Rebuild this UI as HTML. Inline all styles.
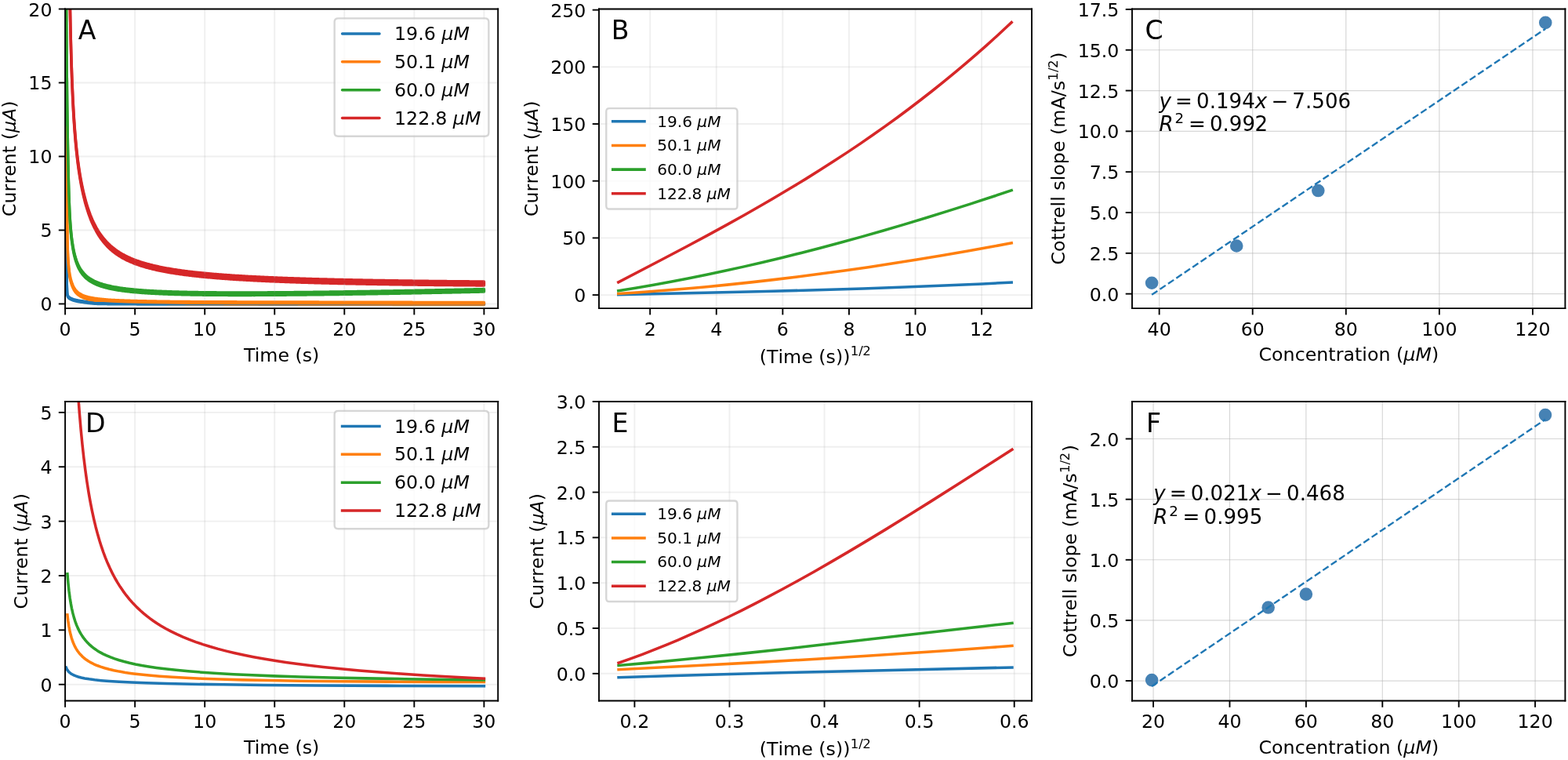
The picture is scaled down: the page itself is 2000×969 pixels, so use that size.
<!DOCTYPE html>
<html><head><meta charset="utf-8"><title>Figure</title>
<style>html,body{margin:0;padding:0;background:#fff;}svg{display:block;}</style>
</head><body>
<svg width="2000" height="969" viewBox="0 0 2000 969" version="1.1">
 
 <defs>
  <style type="text/css">*{stroke-linejoin: round; stroke-linecap: butt}</style>
 </defs>
 <g id="figure_1">
  <g id="patch_1">
   <path d="M 0 969 
L 2000 969 
L 2000 0 
L 0 0 
z
" style="fill: #ffffff"/>
  </g>
  <g id="axes_1">
   <g id="patch_2">
    <path d="M 83.1 393.1 
L 635.2 393.1 
L 635.2 11.5 
L 83.1 11.5 
z
" style="fill: #ffffff"/>
   </g>
   <g id="FillBetweenPolyCollection_1">
    <defs>
     <path id="m0bab70f919" d="M 83.15 -687.56 
L 83.15 -686.05 
L 83.15 -685.56 
L 83.15 -685.07 
L 83.15 -684.58 
L 83.16 -684.09 
L 83.16 -683.60 
L 83.16 -683.11 
L 83.16 -682.61 
L 83.17 -682.12 
L 83.17 -681.63 
L 83.17 -681.14 
L 83.17 -680.65 
L 83.18 -680.16 
L 83.18 -679.66 
L 83.18 -679.17 
L 83.19 -678.68 
L 83.19 -678.19 
L 83.19 -677.70 
L 83.20 -677.21 
L 83.20 -676.72 
L 83.21 -676.23 
L 83.21 -675.74 
L 83.21 -675.25 
L 83.22 -674.76 
L 83.22 -674.27 
L 83.23 -673.79 
L 83.23 -673.30 
L 83.24 -672.81 
L 83.24 -672.33 
L 83.25 -671.84 
L 83.25 -671.36 
L 83.26 -670.88 
L 83.27 -670.39 
L 83.27 -669.91 
L 83.28 -669.43 
L 83.29 -668.95 
L 83.29 -668.47 
L 83.30 -668.00 
L 83.31 -667.52 
L 83.32 -667.04 
L 83.33 -666.57 
L 83.33 -666.09 
L 83.34 -665.62 
L 83.35 -665.15 
L 83.36 -664.68 
L 83.37 -664.21 
L 83.38 -663.74 
L 83.39 -663.27 
L 83.40 -662.81 
L 83.42 -662.34 
L 83.43 -661.88 
L 83.44 -661.42 
L 83.45 -660.96 
L 83.47 -660.50 
L 83.48 -660.04 
L 83.49 -659.58 
L 83.51 -659.13 
L 83.52 -658.68 
L 83.54 -658.22 
L 83.56 -657.77 
L 83.57 -657.32 
L 83.59 -656.88 
L 83.61 -656.43 
L 83.63 -655.98 
L 83.65 -655.56 
L 83.67 -655.15 
L 83.69 -654.77 
L 83.71 -654.41 
L 83.74 -654.07 
L 83.76 -653.74 
L 83.78 -653.42 
L 83.81 -653.10 
L 83.84 -652.78 
L 83.86 -652.47 
L 83.89 -652.15 
L 83.92 -651.82 
L 83.95 -651.48 
L 83.99 -651.13 
L 84.02 -650.76 
L 84.05 -650.37 
L 84.09 -649.96 
L 84.13 -649.52 
L 84.16 -649.05 
L 84.20 -648.56 
L 84.24 -648.03 
L 84.29 -647.46 
L 84.33 -646.86 
L 84.38 -646.22 
L 84.43 -645.53 
L 84.48 -644.80 
L 84.53 -644.02 
L 84.58 -642.52 
L 84.64 -640.06 
L 84.69 -636.84 
L 84.75 -633.09 
L 84.81 -629.00 
L 84.88 -624.77 
L 84.94 -620.55 
L 85.01 -616.47 
L 85.08 -612.61 
L 85.16 -609.05 
L 85.23 -605.81 
L 85.31 -602.93 
L 85.40 -600.40 
L 85.48 -598.22 
L 85.57 -596.40 
L 85.66 -594.90 
L 85.76 -593.74 
L 85.86 -592.90 
L 85.96 -592.37 
L 86.07 -591.99 
L 86.18 -591.63 
L 86.29 -591.29 
L 86.41 -590.98 
L 86.54 -590.69 
L 86.66 -590.42 
L 86.80 -590.17 
L 86.93 -589.94 
L 87.08 -589.72 
L 87.23 -589.51 
L 87.38 -589.32 
L 87.54 -589.14 
L 87.70 -588.97 
L 87.88 -588.81 
L 88.05 -588.65 
L 88.24 -588.50 
L 88.43 -588.36 
L 88.63 -588.23 
L 88.83 -588.10 
L 89.05 -587.97 
L 89.27 -587.84 
L 89.50 -587.71 
L 89.74 -587.59 
L 89.98 -587.47 
L 90.24 -587.34 
L 90.51 -587.21 
L 90.78 -587.09 
L 91.07 -586.95 
L 91.36 -586.82 
L 91.67 -586.68 
L 91.99 -586.53 
L 92.32 -586.39 
L 92.67 -586.26 
L 93.02 -586.12 
L 93.39 -585.99 
L 93.77 -585.87 
L 94.17 -585.74 
L 94.58 -585.62 
L 95.01 -585.50 
L 95.45 -585.38 
L 95.91 -585.26 
L 96.39 -585.15 
L 96.89 -585.03 
L 97.40 -584.92 
L 97.93 -584.81 
L 98.48 -584.70 
L 99.06 -584.58 
L 99.65 -584.47 
L 100.27 -584.36 
L 100.90 -584.25 
L 102.20 -584.04 
L 103.49 -583.84 
L 104.79 -583.66 
L 106.08 -583.47 
L 107.38 -583.29 
L 108.67 -583.10 
L 109.97 -582.91 
L 111.26 -582.74 
L 112.55 -582.57 
L 113.85 -582.42 
L 115.14 -582.28 
L 116.44 -582.15 
L 117.73 -582.03 
L 119.03 -581.93 
L 120.32 -581.83 
L 121.62 -581.75 
L 122.91 -581.68 
L 124.20 -581.63 
L 125.50 -581.58 
L 126.79 -581.54 
L 128.09 -581.52 
L 129.38 -581.49 
L 130.68 -581.47 
L 131.97 -581.45 
L 133.27 -581.43 
L 134.56 -581.41 
L 135.85 -581.40 
L 137.15 -581.38 
L 138.44 -581.37 
L 139.74 -581.35 
L 141.03 -581.34 
L 142.33 -581.33 
L 143.62 -581.32 
L 144.92 -581.31 
L 146.21 -581.30 
L 147.50 -581.29 
L 148.80 -581.28 
L 150.09 -581.27 
L 151.39 -581.26 
L 152.68 -581.25 
L 153.98 -581.24 
L 155.27 -581.24 
L 156.57 -581.23 
L 157.86 -581.22 
L 159.15 -581.22 
L 160.45 -581.21 
L 161.74 -581.20 
L 163.04 -581.20 
L 164.33 -581.19 
L 165.63 -581.19 
L 166.92 -581.18 
L 168.22 -581.17 
L 169.51 -581.17 
L 170.80 -581.16 
L 172.10 -581.16 
L 173.39 -581.15 
L 174.69 -581.15 
L 175.98 -581.14 
L 177.28 -581.14 
L 178.57 -581.13 
L 179.87 -581.13 
L 181.16 -581.13 
L 182.45 -581.12 
L 183.75 -581.12 
L 185.04 -581.11 
L 186.34 -581.11 
L 187.63 -581.10 
L 188.93 -581.10 
L 190.22 -581.10 
L 191.52 -581.09 
L 192.81 -581.09 
L 194.10 -581.09 
L 195.40 -581.08 
L 196.69 -581.08 
L 197.99 -581.08 
L 199.28 -581.07 
L 200.58 -581.07 
L 201.87 -581.07 
L 203.17 -581.06 
L 204.46 -581.06 
L 205.75 -581.06 
L 207.05 -581.06 
L 208.34 -581.05 
L 209.64 -581.05 
L 210.93 -581.05 
L 212.23 -581.05 
L 213.52 -581.04 
L 214.82 -581.04 
L 216.11 -581.04 
L 217.40 -581.04 
L 218.70 -581.03 
L 219.99 -581.03 
L 221.29 -581.03 
L 222.58 -581.03 
L 223.88 -581.02 
L 225.17 -581.02 
L 226.47 -581.02 
L 227.76 -581.02 
L 229.05 -581.02 
L 230.35 -581.01 
L 231.64 -581.01 
L 232.94 -581.01 
L 234.23 -581.01 
L 235.53 -581.00 
L 236.82 -581.00 
L 238.12 -581.00 
L 239.41 -581.00 
L 240.70 -581.00 
L 242.00 -581.00 
L 243.29 -580.99 
L 244.59 -580.99 
L 245.88 -580.99 
L 247.18 -580.99 
L 248.47 -580.99 
L 249.77 -580.98 
L 251.06 -580.98 
L 252.35 -580.98 
L 253.65 -580.98 
L 254.94 -580.98 
L 256.24 -580.98 
L 257.53 -580.97 
L 258.83 -580.97 
L 260.12 -580.97 
L 261.41 -580.97 
L 262.71 -580.97 
L 264.00 -580.97 
L 265.30 -580.97 
L 266.59 -580.96 
L 267.89 -580.96 
L 269.18 -580.96 
L 270.48 -580.96 
L 271.77 -580.96 
L 273.06 -580.96 
L 274.36 -580.96 
L 275.65 -580.95 
L 276.95 -580.95 
L 278.24 -580.95 
L 279.54 -580.95 
L 280.83 -580.95 
L 282.13 -580.95 
L 283.42 -580.95 
L 284.71 -580.94 
L 286.01 -580.94 
L 287.30 -580.94 
L 288.60 -580.94 
L 289.89 -580.94 
L 291.19 -580.94 
L 292.48 -580.94 
L 293.78 -580.94 
L 295.07 -580.93 
L 296.36 -580.93 
L 297.66 -580.93 
L 298.95 -580.93 
L 300.25 -580.93 
L 301.54 -580.93 
L 302.84 -580.93 
L 304.13 -580.93 
L 305.43 -580.92 
L 306.72 -580.92 
L 308.01 -580.92 
L 309.31 -580.92 
L 310.60 -580.92 
L 311.90 -580.92 
L 313.19 -580.92 
L 314.49 -580.92 
L 315.78 -580.92 
L 317.08 -580.91 
L 318.37 -580.91 
L 319.66 -580.91 
L 320.96 -580.91 
L 322.25 -580.91 
L 323.55 -580.91 
L 324.84 -580.91 
L 326.14 -580.91 
L 327.43 -580.91 
L 328.73 -580.90 
L 330.02 -580.90 
L 331.31 -580.90 
L 332.61 -580.90 
L 333.90 -580.90 
L 335.20 -580.90 
L 336.49 -580.90 
L 337.79 -580.90 
L 339.08 -580.90 
L 340.38 -580.90 
L 341.67 -580.89 
L 342.96 -580.89 
L 344.26 -580.89 
L 345.55 -580.89 
L 346.85 -580.89 
L 348.14 -580.89 
L 349.44 -580.89 
L 350.73 -580.89 
L 352.03 -580.89 
L 353.32 -580.89 
L 354.61 -580.89 
L 355.91 -580.88 
L 357.20 -580.88 
L 358.50 -580.88 
L 359.79 -580.88 
L 361.09 -580.88 
L 362.38 -580.88 
L 363.68 -580.88 
L 364.97 -580.88 
L 366.26 -580.88 
L 367.56 -580.88 
L 368.85 -580.88 
L 370.15 -580.88 
L 371.44 -580.87 
L 372.74 -580.87 
L 374.03 -580.87 
L 375.33 -580.87 
L 376.62 -580.87 
L 377.91 -580.87 
L 379.21 -580.87 
L 380.50 -580.87 
L 381.80 -580.87 
L 383.09 -580.87 
L 384.39 -580.87 
L 385.68 -580.87 
L 386.98 -580.87 
L 388.27 -580.86 
L 389.56 -580.86 
L 390.86 -580.86 
L 392.15 -580.86 
L 393.45 -580.86 
L 394.74 -580.86 
L 396.04 -580.86 
L 397.33 -580.86 
L 398.63 -580.86 
L 399.92 -580.86 
L 401.21 -580.86 
L 402.51 -580.86 
L 403.80 -580.86 
L 405.10 -580.86 
L 406.39 -580.85 
L 407.69 -580.85 
L 408.98 -580.85 
L 410.28 -580.85 
L 411.57 -580.85 
L 412.86 -580.85 
L 414.16 -580.85 
L 415.45 -580.85 
L 416.75 -580.85 
L 418.04 -580.85 
L 419.34 -580.85 
L 420.63 -580.85 
L 421.93 -580.85 
L 423.22 -580.85 
L 424.51 -580.85 
L 425.81 -580.84 
L 427.10 -580.84 
L 428.40 -580.84 
L 429.69 -580.84 
L 430.99 -580.84 
L 432.28 -580.84 
L 433.58 -580.84 
L 434.87 -580.84 
L 436.16 -580.84 
L 437.46 -580.84 
L 438.75 -580.84 
L 440.05 -580.84 
L 441.34 -580.84 
L 442.64 -580.84 
L 443.93 -580.84 
L 445.23 -580.84 
L 446.52 -580.84 
L 447.81 -580.83 
L 449.11 -580.83 
L 450.40 -580.83 
L 451.70 -580.83 
L 452.99 -580.83 
L 454.29 -580.83 
L 455.58 -580.83 
L 456.88 -580.83 
L 458.17 -580.83 
L 459.46 -580.83 
L 460.76 -580.83 
L 462.05 -580.83 
L 463.35 -580.83 
L 464.64 -580.83 
L 465.94 -580.83 
L 467.23 -580.83 
L 468.52 -580.83 
L 469.82 -580.83 
L 471.11 -580.82 
L 472.41 -580.82 
L 473.70 -580.82 
L 475.00 -580.82 
L 476.29 -580.82 
L 477.59 -580.82 
L 478.88 -580.82 
L 480.17 -580.82 
L 481.47 -580.82 
L 482.76 -580.82 
L 484.06 -580.82 
L 485.35 -580.82 
L 486.65 -580.82 
L 487.94 -580.82 
L 489.24 -580.82 
L 490.53 -580.82 
L 491.82 -580.82 
L 493.12 -580.82 
L 494.41 -580.82 
L 495.71 -580.82 
L 497.00 -580.82 
L 498.30 -580.81 
L 499.59 -580.81 
L 500.89 -580.81 
L 502.18 -580.81 
L 503.47 -580.81 
L 504.77 -580.81 
L 506.06 -580.81 
L 507.36 -580.81 
L 508.65 -580.81 
L 509.95 -580.81 
L 511.24 -580.81 
L 512.54 -580.81 
L 513.83 -580.81 
L 515.12 -580.81 
L 516.42 -580.81 
L 517.71 -580.81 
L 519.01 -580.81 
L 520.30 -580.81 
L 521.60 -580.81 
L 522.89 -580.81 
L 524.19 -580.81 
L 525.48 -580.81 
L 526.77 -580.81 
L 528.07 -580.81 
L 529.36 -580.80 
L 530.66 -580.80 
L 531.95 -580.80 
L 533.25 -580.80 
L 534.54 -580.80 
L 535.84 -580.80 
L 537.13 -580.80 
L 538.42 -580.80 
L 539.72 -580.80 
L 541.01 -580.80 
L 542.31 -580.80 
L 543.60 -580.80 
L 544.90 -580.80 
L 546.19 -580.80 
L 547.49 -580.80 
L 548.78 -580.80 
L 550.07 -580.80 
L 551.37 -580.80 
L 552.66 -580.80 
L 553.96 -580.80 
L 555.25 -580.80 
L 556.55 -580.80 
L 557.84 -580.80 
L 559.14 -580.80 
L 560.43 -580.80 
L 561.72 -580.80 
L 563.02 -580.80 
L 564.31 -580.79 
L 565.61 -580.79 
L 566.90 -580.79 
L 568.20 -580.79 
L 569.49 -580.79 
L 570.79 -580.79 
L 572.08 -580.79 
L 573.37 -580.79 
L 574.67 -580.79 
L 575.96 -580.79 
L 577.26 -580.79 
L 578.55 -580.79 
L 579.85 -580.79 
L 581.14 -580.79 
L 582.44 -580.79 
L 583.73 -580.79 
L 585.02 -580.79 
L 586.32 -580.79 
L 587.61 -580.79 
L 588.91 -580.79 
L 590.20 -580.79 
L 591.50 -580.79 
L 592.79 -580.79 
L 594.09 -580.79 
L 595.38 -580.79 
L 596.67 -580.79 
L 597.97 -580.79 
L 599.26 -580.79 
L 600.56 -580.79 
L 601.85 -580.79 
L 603.15 -580.79 
L 604.44 -580.79 
L 605.74 -580.78 
L 607.03 -580.78 
L 608.32 -580.78 
L 609.62 -580.78 
L 610.91 -580.78 
L 612.21 -580.78 
L 613.50 -580.78 
L 614.80 -580.78 
L 616.09 -580.78 
L 617.39 -580.78 
L 617.39 -582.29 
L 617.39 -582.29 
L 616.09 -582.29 
L 614.80 -582.29 
L 613.50 -582.29 
L 612.21 -582.29 
L 610.91 -582.29 
L 609.62 -582.29 
L 608.32 -582.29 
L 607.03 -582.29 
L 605.74 -582.29 
L 604.44 -582.29 
L 603.15 -582.29 
L 601.85 -582.29 
L 600.56 -582.29 
L 599.26 -582.29 
L 597.97 -582.29 
L 596.67 -582.29 
L 595.38 -582.29 
L 594.09 -582.29 
L 592.79 -582.29 
L 591.50 -582.29 
L 590.20 -582.29 
L 588.91 -582.29 
L 587.61 -582.29 
L 586.32 -582.29 
L 585.02 -582.29 
L 583.73 -582.29 
L 582.44 -582.29 
L 581.14 -582.29 
L 579.85 -582.29 
L 578.55 -582.30 
L 577.26 -582.30 
L 575.96 -582.30 
L 574.67 -582.30 
L 573.37 -582.30 
L 572.08 -582.30 
L 570.79 -582.30 
L 569.49 -582.30 
L 568.20 -582.30 
L 566.90 -582.30 
L 565.61 -582.30 
L 564.31 -582.30 
L 563.02 -582.30 
L 561.72 -582.30 
L 560.43 -582.30 
L 559.14 -582.30 
L 557.84 -582.30 
L 556.55 -582.30 
L 555.25 -582.30 
L 553.96 -582.30 
L 552.66 -582.30 
L 551.37 -582.30 
L 550.07 -582.30 
L 548.78 -582.30 
L 547.49 -582.30 
L 546.19 -582.30 
L 544.90 -582.30 
L 543.60 -582.30 
L 542.31 -582.30 
L 541.01 -582.31 
L 539.72 -582.31 
L 538.42 -582.31 
L 537.13 -582.31 
L 535.84 -582.31 
L 534.54 -582.31 
L 533.25 -582.31 
L 531.95 -582.31 
L 530.66 -582.31 
L 529.36 -582.31 
L 528.07 -582.31 
L 526.77 -582.31 
L 525.48 -582.31 
L 524.19 -582.31 
L 522.89 -582.31 
L 521.60 -582.31 
L 520.30 -582.31 
L 519.01 -582.31 
L 517.71 -582.31 
L 516.42 -582.31 
L 515.12 -582.31 
L 513.83 -582.31 
L 512.54 -582.31 
L 511.24 -582.31 
L 509.95 -582.31 
L 508.65 -582.32 
L 507.36 -582.32 
L 506.06 -582.32 
L 504.77 -582.32 
L 503.47 -582.32 
L 502.18 -582.32 
L 500.89 -582.32 
L 499.59 -582.32 
L 498.30 -582.32 
L 497.00 -582.32 
L 495.71 -582.32 
L 494.41 -582.32 
L 493.12 -582.32 
L 491.82 -582.32 
L 490.53 -582.32 
L 489.24 -582.32 
L 487.94 -582.32 
L 486.65 -582.32 
L 485.35 -582.32 
L 484.06 -582.32 
L 482.76 -582.32 
L 481.47 -582.32 
L 480.17 -582.33 
L 478.88 -582.33 
L 477.59 -582.33 
L 476.29 -582.33 
L 475.00 -582.33 
L 473.70 -582.33 
L 472.41 -582.33 
L 471.11 -582.33 
L 469.82 -582.33 
L 468.52 -582.33 
L 467.23 -582.33 
L 465.94 -582.33 
L 464.64 -582.33 
L 463.35 -582.33 
L 462.05 -582.33 
L 460.76 -582.33 
L 459.46 -582.33 
L 458.17 -582.33 
L 456.88 -582.33 
L 455.58 -582.34 
L 454.29 -582.34 
L 452.99 -582.34 
L 451.70 -582.34 
L 450.40 -582.34 
L 449.11 -582.34 
L 447.81 -582.34 
L 446.52 -582.34 
L 445.23 -582.34 
L 443.93 -582.34 
L 442.64 -582.34 
L 441.34 -582.34 
L 440.05 -582.34 
L 438.75 -582.34 
L 437.46 -582.34 
L 436.16 -582.34 
L 434.87 -582.34 
L 433.58 -582.34 
L 432.28 -582.35 
L 430.99 -582.35 
L 429.69 -582.35 
L 428.40 -582.35 
L 427.10 -582.35 
L 425.81 -582.35 
L 424.51 -582.35 
L 423.22 -582.35 
L 421.93 -582.35 
L 420.63 -582.35 
L 419.34 -582.35 
L 418.04 -582.35 
L 416.75 -582.35 
L 415.45 -582.35 
L 414.16 -582.35 
L 412.86 -582.35 
L 411.57 -582.36 
L 410.28 -582.36 
L 408.98 -582.36 
L 407.69 -582.36 
L 406.39 -582.36 
L 405.10 -582.36 
L 403.80 -582.36 
L 402.51 -582.36 
L 401.21 -582.36 
L 399.92 -582.36 
L 398.63 -582.36 
L 397.33 -582.36 
L 396.04 -582.36 
L 394.74 -582.36 
L 393.45 -582.37 
L 392.15 -582.37 
L 390.86 -582.37 
L 389.56 -582.37 
L 388.27 -582.37 
L 386.98 -582.37 
L 385.68 -582.37 
L 384.39 -582.37 
L 383.09 -582.37 
L 381.80 -582.37 
L 380.50 -582.37 
L 379.21 -582.37 
L 377.91 -582.37 
L 376.62 -582.38 
L 375.33 -582.38 
L 374.03 -582.38 
L 372.74 -582.38 
L 371.44 -582.38 
L 370.15 -582.38 
L 368.85 -582.38 
L 367.56 -582.38 
L 366.26 -582.38 
L 364.97 -582.38 
L 363.68 -582.38 
L 362.38 -582.38 
L 361.09 -582.39 
L 359.79 -582.39 
L 358.50 -582.39 
L 357.20 -582.39 
L 355.91 -582.39 
L 354.61 -582.39 
L 353.32 -582.39 
L 352.03 -582.39 
L 350.73 -582.39 
L 349.44 -582.39 
L 348.14 -582.39 
L 346.85 -582.39 
L 345.55 -582.40 
L 344.26 -582.40 
L 342.96 -582.40 
L 341.67 -582.40 
L 340.38 -582.40 
L 339.08 -582.40 
L 337.79 -582.40 
L 336.49 -582.40 
L 335.20 -582.40 
L 333.90 -582.40 
L 332.61 -582.41 
L 331.31 -582.41 
L 330.02 -582.41 
L 328.73 -582.41 
L 327.43 -582.41 
L 326.14 -582.41 
L 324.84 -582.41 
L 323.55 -582.41 
L 322.25 -582.41 
L 320.96 -582.41 
L 319.66 -582.42 
L 318.37 -582.42 
L 317.08 -582.42 
L 315.78 -582.42 
L 314.49 -582.42 
L 313.19 -582.42 
L 311.90 -582.42 
L 310.60 -582.42 
L 309.31 -582.42 
L 308.01 -582.43 
L 306.72 -582.43 
L 305.43 -582.43 
L 304.13 -582.43 
L 302.84 -582.43 
L 301.54 -582.43 
L 300.25 -582.43 
L 298.95 -582.43 
L 297.66 -582.44 
L 296.36 -582.44 
L 295.07 -582.44 
L 293.78 -582.44 
L 292.48 -582.44 
L 291.19 -582.44 
L 289.89 -582.44 
L 288.60 -582.44 
L 287.30 -582.45 
L 286.01 -582.45 
L 284.71 -582.45 
L 283.42 -582.45 
L 282.13 -582.45 
L 280.83 -582.45 
L 279.54 -582.45 
L 278.24 -582.45 
L 276.95 -582.46 
L 275.65 -582.46 
L 274.36 -582.46 
L 273.06 -582.46 
L 271.77 -582.46 
L 270.48 -582.46 
L 269.18 -582.46 
L 267.89 -582.47 
L 266.59 -582.47 
L 265.30 -582.47 
L 264.00 -582.47 
L 262.71 -582.47 
L 261.41 -582.47 
L 260.12 -582.48 
L 258.83 -582.48 
L 257.53 -582.48 
L 256.24 -582.48 
L 254.94 -582.48 
L 253.65 -582.48 
L 252.35 -582.49 
L 251.06 -582.49 
L 249.77 -582.49 
L 248.47 -582.49 
L 247.18 -582.49 
L 245.88 -582.49 
L 244.59 -582.50 
L 243.29 -582.50 
L 242.00 -582.50 
L 240.70 -582.50 
L 239.41 -582.50 
L 238.12 -582.50 
L 236.82 -582.51 
L 235.53 -582.51 
L 234.23 -582.51 
L 232.94 -582.51 
L 231.64 -582.51 
L 230.35 -582.52 
L 229.05 -582.52 
L 227.76 -582.52 
L 226.47 -582.52 
L 225.17 -582.53 
L 223.88 -582.53 
L 222.58 -582.53 
L 221.29 -582.53 
L 219.99 -582.53 
L 218.70 -582.54 
L 217.40 -582.54 
L 216.11 -582.54 
L 214.82 -582.54 
L 213.52 -582.55 
L 212.23 -582.55 
L 210.93 -582.55 
L 209.64 -582.55 
L 208.34 -582.56 
L 207.05 -582.56 
L 205.75 -582.56 
L 204.46 -582.57 
L 203.17 -582.57 
L 201.87 -582.57 
L 200.58 -582.57 
L 199.28 -582.58 
L 197.99 -582.58 
L 196.69 -582.58 
L 195.40 -582.59 
L 194.10 -582.59 
L 192.81 -582.59 
L 191.52 -582.60 
L 190.22 -582.60 
L 188.93 -582.60 
L 187.63 -582.61 
L 186.34 -582.61 
L 185.04 -582.62 
L 183.75 -582.62 
L 182.45 -582.62 
L 181.16 -582.63 
L 179.87 -582.63 
L 178.57 -582.64 
L 177.28 -582.64 
L 175.98 -582.65 
L 174.69 -582.65 
L 173.39 -582.66 
L 172.10 -582.66 
L 170.80 -582.67 
L 169.51 -582.67 
L 168.22 -582.68 
L 166.92 -582.68 
L 165.63 -582.69 
L 164.33 -582.70 
L 163.04 -582.70 
L 161.74 -582.71 
L 160.45 -582.71 
L 159.15 -582.72 
L 157.86 -582.73 
L 156.57 -582.73 
L 155.27 -582.74 
L 153.98 -582.75 
L 152.68 -582.76 
L 151.39 -582.76 
L 150.09 -582.77 
L 148.80 -582.78 
L 147.50 -582.79 
L 146.21 -582.80 
L 144.92 -582.81 
L 143.62 -582.82 
L 142.33 -582.83 
L 141.03 -582.84 
L 139.74 -582.86 
L 138.44 -582.87 
L 137.15 -582.88 
L 135.85 -582.90 
L 134.56 -582.92 
L 133.27 -582.93 
L 131.97 -582.95 
L 130.68 -582.97 
L 129.38 -583.00 
L 128.09 -583.02 
L 126.79 -583.05 
L 125.50 -583.08 
L 124.20 -583.13 
L 122.91 -583.19 
L 121.62 -583.26 
L 120.32 -583.34 
L 119.03 -583.43 
L 117.73 -583.53 
L 116.44 -583.65 
L 115.14 -583.78 
L 113.85 -583.92 
L 112.55 -584.08 
L 111.26 -584.24 
L 109.97 -584.42 
L 108.67 -584.60 
L 107.38 -584.79 
L 106.08 -584.98 
L 104.79 -585.16 
L 103.49 -585.35 
L 102.20 -585.55 
L 100.90 -585.76 
L 100.27 -585.87 
L 99.65 -585.98 
L 99.06 -586.09 
L 98.48 -586.20 
L 97.93 -586.31 
L 97.40 -586.42 
L 96.89 -586.54 
L 96.39 -586.65 
L 95.91 -586.76 
L 95.45 -586.88 
L 95.01 -587.00 
L 94.58 -587.12 
L 94.17 -587.24 
L 93.77 -587.37 
L 93.39 -587.50 
L 93.02 -587.63 
L 92.67 -587.76 
L 92.32 -587.90 
L 91.99 -588.04 
L 91.67 -588.18 
L 91.36 -588.32 
L 91.07 -588.46 
L 90.78 -588.59 
L 90.51 -588.72 
L 90.24 -588.84 
L 89.98 -588.97 
L 89.74 -589.09 
L 89.50 -589.22 
L 89.27 -589.34 
L 89.05 -589.47 
L 88.83 -589.60 
L 88.63 -589.73 
L 88.43 -589.87 
L 88.24 -590.01 
L 88.05 -590.16 
L 87.88 -590.31 
L 87.70 -590.47 
L 87.54 -590.64 
L 87.38 -590.82 
L 87.23 -591.02 
L 87.08 -591.22 
L 86.93 -591.44 
L 86.80 -591.68 
L 86.66 -591.93 
L 86.54 -592.20 
L 86.41 -592.49 
L 86.29 -592.80 
L 86.18 -593.13 
L 86.07 -593.49 
L 85.96 -593.88 
L 85.86 -594.40 
L 85.76 -595.24 
L 85.66 -596.41 
L 85.57 -597.90 
L 85.48 -599.73 
L 85.40 -601.90 
L 85.31 -604.43 
L 85.23 -607.31 
L 85.16 -610.55 
L 85.08 -614.12 
L 85.01 -617.97 
L 84.94 -622.06 
L 84.88 -626.28 
L 84.81 -630.51 
L 84.75 -634.59 
L 84.69 -638.35 
L 84.64 -641.57 
L 84.58 -644.03 
L 84.53 -645.52 
L 84.48 -646.31 
L 84.43 -647.03 
L 84.38 -647.72 
L 84.33 -648.36 
L 84.29 -648.97 
L 84.24 -649.53 
L 84.20 -650.06 
L 84.16 -650.56 
L 84.13 -651.02 
L 84.09 -651.46 
L 84.05 -651.87 
L 84.02 -652.26 
L 83.99 -652.63 
L 83.95 -652.98 
L 83.92 -653.32 
L 83.89 -653.65 
L 83.86 -653.97 
L 83.84 -654.29 
L 83.81 -654.60 
L 83.78 -654.92 
L 83.76 -655.24 
L 83.74 -655.57 
L 83.71 -655.92 
L 83.69 -656.28 
L 83.67 -656.66 
L 83.65 -657.06 
L 83.63 -657.49 
L 83.61 -657.93 
L 83.59 -658.38 
L 83.57 -658.83 
L 83.56 -659.28 
L 83.54 -659.73 
L 83.52 -660.18 
L 83.51 -660.63 
L 83.49 -661.09 
L 83.48 -661.54 
L 83.47 -662.00 
L 83.45 -662.46 
L 83.44 -662.92 
L 83.43 -663.38 
L 83.42 -663.85 
L 83.40 -664.31 
L 83.39 -664.78 
L 83.38 -665.24 
L 83.37 -665.71 
L 83.36 -666.18 
L 83.35 -666.65 
L 83.34 -667.12 
L 83.33 -667.60 
L 83.33 -668.07 
L 83.32 -668.55 
L 83.31 -669.02 
L 83.30 -669.50 
L 83.29 -669.98 
L 83.29 -670.46 
L 83.28 -670.94 
L 83.27 -671.42 
L 83.27 -671.90 
L 83.26 -672.38 
L 83.25 -672.86 
L 83.25 -673.35 
L 83.24 -673.83 
L 83.24 -674.32 
L 83.23 -674.80 
L 83.23 -675.29 
L 83.22 -675.78 
L 83.22 -676.27 
L 83.21 -676.75 
L 83.21 -677.24 
L 83.21 -677.73 
L 83.20 -678.22 
L 83.20 -678.71 
L 83.19 -679.20 
L 83.19 -679.69 
L 83.19 -680.19 
L 83.18 -680.68 
L 83.18 -681.17 
L 83.18 -681.66 
L 83.17 -682.15 
L 83.17 -682.64 
L 83.17 -683.13 
L 83.17 -683.63 
L 83.16 -684.12 
L 83.16 -684.61 
L 83.16 -685.10 
L 83.16 -685.59 
L 83.15 -686.08 
L 83.15 -686.57 
L 83.15 -687.07 
L 83.15 -687.56 
z
" style="stroke: #1f77b4; stroke-width: 3.55"/>
    </defs>
    <g clip-path="url(#pebcdcb35c1)">
     <use href="#m0bab70f919" x="0" y="969" style="fill: #1f77b4; stroke: #1f77b4; stroke-width: 3.55"/>
    </g>
   </g>
   <g id="FillBetweenPolyCollection_2">
    <defs>
     <path id="mbfa631ff83" d="M 83.15 -808.61 
L 83.15 -805.61 
L 83.15 -805.60 
L 83.15 -805.58 
L 83.15 -805.55 
L 83.16 -805.51 
L 83.16 -805.46 
L 83.16 -805.39 
L 83.16 -805.31 
L 83.17 -805.22 
L 83.17 -805.11 
L 83.17 -804.99 
L 83.17 -804.85 
L 83.18 -804.70 
L 83.18 -804.54 
L 83.18 -804.36 
L 83.19 -804.16 
L 83.19 -803.95 
L 83.19 -803.73 
L 83.20 -803.48 
L 83.20 -803.22 
L 83.21 -802.95 
L 83.21 -802.65 
L 83.21 -802.34 
L 83.22 -802.01 
L 83.22 -801.67 
L 83.23 -801.30 
L 83.23 -800.92 
L 83.24 -800.52 
L 83.24 -800.10 
L 83.25 -799.67 
L 83.25 -799.21 
L 83.26 -798.73 
L 83.27 -798.24 
L 83.27 -797.72 
L 83.28 -797.19 
L 83.29 -796.64 
L 83.29 -796.06 
L 83.30 -795.47 
L 83.31 -794.86 
L 83.32 -794.22 
L 83.33 -793.57 
L 83.33 -792.89 
L 83.34 -792.20 
L 83.35 -791.48 
L 83.36 -790.74 
L 83.37 -789.99 
L 83.38 -789.21 
L 83.39 -788.41 
L 83.40 -787.59 
L 83.42 -786.75 
L 83.43 -785.88 
L 83.44 -785.00 
L 83.45 -784.10 
L 83.47 -783.17 
L 83.48 -782.22 
L 83.49 -781.26 
L 83.51 -780.27 
L 83.52 -779.26 
L 83.54 -778.23 
L 83.56 -777.18 
L 83.57 -776.11 
L 83.59 -775.02 
L 83.61 -773.91 
L 83.63 -772.77 
L 83.65 -771.62 
L 83.67 -770.45 
L 83.69 -769.26 
L 83.71 -768.05 
L 83.74 -766.82 
L 83.76 -765.57 
L 83.78 -764.30 
L 83.81 -763.01 
L 83.84 -761.70 
L 83.86 -760.38 
L 83.89 -759.04 
L 83.92 -757.68 
L 83.95 -756.30 
L 83.99 -754.90 
L 84.02 -753.49 
L 84.05 -752.06 
L 84.09 -750.62 
L 84.13 -749.16 
L 84.16 -747.68 
L 84.20 -746.19 
L 84.24 -744.68 
L 84.29 -743.16 
L 84.33 -741.63 
L 84.38 -740.08 
L 84.43 -738.52 
L 84.48 -736.94 
L 84.53 -735.36 
L 84.58 -733.76 
L 84.64 -732.15 
L 84.69 -730.52 
L 84.75 -728.89 
L 84.81 -727.25 
L 84.88 -725.60 
L 84.94 -723.93 
L 85.01 -722.26 
L 85.08 -720.58 
L 85.16 -718.89 
L 85.23 -717.20 
L 85.31 -713.26 
L 85.40 -706.05 
L 85.48 -696.94 
L 85.57 -687.17 
L 85.66 -677.73 
L 85.76 -669.34 
L 85.86 -662.51 
L 85.96 -657.57 
L 86.07 -653.65 
L 86.18 -650.12 
L 86.29 -646.92 
L 86.41 -644.01 
L 86.54 -641.34 
L 86.66 -638.87 
L 86.80 -636.58 
L 86.93 -634.43 
L 87.08 -632.40 
L 87.23 -630.47 
L 87.38 -628.61 
L 87.54 -626.83 
L 87.70 -625.15 
L 87.88 -623.57 
L 88.05 -622.06 
L 88.24 -620.63 
L 88.43 -619.26 
L 88.63 -617.96 
L 88.83 -616.71 
L 89.05 -615.52 
L 89.27 -614.36 
L 89.50 -613.26 
L 89.74 -612.18 
L 89.98 -611.15 
L 90.24 -610.14 
L 90.51 -609.16 
L 90.78 -608.20 
L 91.07 -607.27 
L 91.36 -606.35 
L 91.67 -605.45 
L 91.99 -604.57 
L 92.32 -603.70 
L 92.67 -602.86 
L 93.02 -602.04 
L 93.39 -601.23 
L 93.77 -600.46 
L 94.17 -599.70 
L 94.58 -598.98 
L 95.01 -598.28 
L 95.45 -597.60 
L 95.91 -596.95 
L 96.39 -596.33 
L 96.89 -595.74 
L 97.40 -595.18 
L 97.93 -594.64 
L 98.48 -594.12 
L 99.06 -593.62 
L 99.65 -593.14 
L 100.27 -592.67 
L 100.90 -592.21 
L 102.20 -591.38 
L 103.49 -590.64 
L 104.79 -590.00 
L 106.08 -589.42 
L 107.38 -588.91 
L 108.67 -588.46 
L 109.97 -588.05 
L 111.26 -587.68 
L 112.55 -587.34 
L 113.85 -587.04 
L 115.14 -586.75 
L 116.44 -586.49 
L 117.73 -586.24 
L 119.03 -586.01 
L 120.32 -585.80 
L 121.62 -585.59 
L 122.91 -585.40 
L 124.20 -585.23 
L 125.50 -585.06 
L 126.79 -584.90 
L 128.09 -584.75 
L 129.38 -584.61 
L 130.68 -584.48 
L 131.97 -584.36 
L 133.27 -584.24 
L 134.56 -584.13 
L 135.85 -584.03 
L 137.15 -583.93 
L 138.44 -583.84 
L 139.74 -583.75 
L 141.03 -583.66 
L 142.33 -583.59 
L 143.62 -583.51 
L 144.92 -583.44 
L 146.21 -583.37 
L 147.50 -583.30 
L 148.80 -583.24 
L 150.09 -583.18 
L 151.39 -583.12 
L 152.68 -583.07 
L 153.98 -583.01 
L 155.27 -582.96 
L 156.57 -582.91 
L 157.86 -582.86 
L 159.15 -582.82 
L 160.45 -582.77 
L 161.74 -582.73 
L 163.04 -582.69 
L 164.33 -582.65 
L 165.63 -582.61 
L 166.92 -582.57 
L 168.22 -582.53 
L 169.51 -582.49 
L 170.80 -582.46 
L 172.10 -582.42 
L 173.39 -582.39 
L 174.69 -582.36 
L 175.98 -582.33 
L 177.28 -582.30 
L 178.57 -582.27 
L 179.87 -582.24 
L 181.16 -582.21 
L 182.45 -582.18 
L 183.75 -582.15 
L 185.04 -582.13 
L 186.34 -582.10 
L 187.63 -582.07 
L 188.93 -582.05 
L 190.22 -582.02 
L 191.52 -582.00 
L 192.81 -581.97 
L 194.10 -581.95 
L 195.40 -581.93 
L 196.69 -581.90 
L 197.99 -581.88 
L 199.28 -581.86 
L 200.58 -581.84 
L 201.87 -581.81 
L 203.17 -581.79 
L 204.46 -581.77 
L 205.75 -581.75 
L 207.05 -581.73 
L 208.34 -581.71 
L 209.64 -581.69 
L 210.93 -581.68 
L 212.23 -581.66 
L 213.52 -581.64 
L 214.82 -581.62 
L 216.11 -581.61 
L 217.40 -581.59 
L 218.70 -581.57 
L 219.99 -581.56 
L 221.29 -581.54 
L 222.58 -581.53 
L 223.88 -581.51 
L 225.17 -581.50 
L 226.47 -581.49 
L 227.76 -581.47 
L 229.05 -581.46 
L 230.35 -581.45 
L 231.64 -581.43 
L 232.94 -581.42 
L 234.23 -581.41 
L 235.53 -581.40 
L 236.82 -581.39 
L 238.12 -581.38 
L 239.41 -581.37 
L 240.70 -581.36 
L 242.00 -581.35 
L 243.29 -581.34 
L 244.59 -581.34 
L 245.88 -581.33 
L 247.18 -581.32 
L 248.47 -581.31 
L 249.77 -581.31 
L 251.06 -581.30 
L 252.35 -581.29 
L 253.65 -581.28 
L 254.94 -581.28 
L 256.24 -581.27 
L 257.53 -581.26 
L 258.83 -581.26 
L 260.12 -581.25 
L 261.41 -581.25 
L 262.71 -581.24 
L 264.00 -581.23 
L 265.30 -581.23 
L 266.59 -581.22 
L 267.89 -581.22 
L 269.18 -581.21 
L 270.48 -581.21 
L 271.77 -581.20 
L 273.06 -581.20 
L 274.36 -581.19 
L 275.65 -581.19 
L 276.95 -581.18 
L 278.24 -581.18 
L 279.54 -581.17 
L 280.83 -581.17 
L 282.13 -581.16 
L 283.42 -581.16 
L 284.71 -581.15 
L 286.01 -581.15 
L 287.30 -581.14 
L 288.60 -581.14 
L 289.89 -581.14 
L 291.19 -581.13 
L 292.48 -581.13 
L 293.78 -581.12 
L 295.07 -581.12 
L 296.36 -581.12 
L 297.66 -581.11 
L 298.95 -581.11 
L 300.25 -581.10 
L 301.54 -581.10 
L 302.84 -581.10 
L 304.13 -581.09 
L 305.43 -581.09 
L 306.72 -581.09 
L 308.01 -581.08 
L 309.31 -581.08 
L 310.60 -581.07 
L 311.90 -581.07 
L 313.19 -581.07 
L 314.49 -581.06 
L 315.78 -581.06 
L 317.08 -581.06 
L 318.37 -581.05 
L 319.66 -581.05 
L 320.96 -581.05 
L 322.25 -581.04 
L 323.55 -581.04 
L 324.84 -581.04 
L 326.14 -581.03 
L 327.43 -581.03 
L 328.73 -581.03 
L 330.02 -581.02 
L 331.31 -581.02 
L 332.61 -581.02 
L 333.90 -581.01 
L 335.20 -581.01 
L 336.49 -581.01 
L 337.79 -581.00 
L 339.08 -581.00 
L 340.38 -581.00 
L 341.67 -580.99 
L 342.96 -580.99 
L 344.26 -580.99 
L 345.55 -580.98 
L 346.85 -580.98 
L 348.14 -580.98 
L 349.44 -580.97 
L 350.73 -580.97 
L 352.03 -580.97 
L 353.32 -580.96 
L 354.61 -580.96 
L 355.91 -580.96 
L 357.20 -580.95 
L 358.50 -580.95 
L 359.79 -580.95 
L 361.09 -580.94 
L 362.38 -580.94 
L 363.68 -580.94 
L 364.97 -580.94 
L 366.26 -580.93 
L 367.56 -580.93 
L 368.85 -580.93 
L 370.15 -580.92 
L 371.44 -580.92 
L 372.74 -580.92 
L 374.03 -580.92 
L 375.33 -580.91 
L 376.62 -580.91 
L 377.91 -580.91 
L 379.21 -580.90 
L 380.50 -580.90 
L 381.80 -580.90 
L 383.09 -580.90 
L 384.39 -580.89 
L 385.68 -580.89 
L 386.98 -580.89 
L 388.27 -580.89 
L 389.56 -580.88 
L 390.86 -580.88 
L 392.15 -580.88 
L 393.45 -580.88 
L 394.74 -580.87 
L 396.04 -580.87 
L 397.33 -580.87 
L 398.63 -580.87 
L 399.92 -580.86 
L 401.21 -580.86 
L 402.51 -580.86 
L 403.80 -580.85 
L 405.10 -580.85 
L 406.39 -580.85 
L 407.69 -580.85 
L 408.98 -580.84 
L 410.28 -580.84 
L 411.57 -580.84 
L 412.86 -580.84 
L 414.16 -580.83 
L 415.45 -580.83 
L 416.75 -580.83 
L 418.04 -580.83 
L 419.34 -580.82 
L 420.63 -580.82 
L 421.93 -580.82 
L 423.22 -580.82 
L 424.51 -580.81 
L 425.81 -580.81 
L 427.10 -580.81 
L 428.40 -580.81 
L 429.69 -580.80 
L 430.99 -580.80 
L 432.28 -580.80 
L 433.58 -580.79 
L 434.87 -580.79 
L 436.16 -580.79 
L 437.46 -580.79 
L 438.75 -580.78 
L 440.05 -580.78 
L 441.34 -580.78 
L 442.64 -580.78 
L 443.93 -580.77 
L 445.23 -580.77 
L 446.52 -580.77 
L 447.81 -580.76 
L 449.11 -580.76 
L 450.40 -580.76 
L 451.70 -580.76 
L 452.99 -580.75 
L 454.29 -580.75 
L 455.58 -580.75 
L 456.88 -580.74 
L 458.17 -580.74 
L 459.46 -580.74 
L 460.76 -580.74 
L 462.05 -580.73 
L 463.35 -580.73 
L 464.64 -580.73 
L 465.94 -580.73 
L 467.23 -580.72 
L 468.52 -580.72 
L 469.82 -580.72 
L 471.11 -580.71 
L 472.41 -580.71 
L 473.70 -580.71 
L 475.00 -580.71 
L 476.29 -580.70 
L 477.59 -580.70 
L 478.88 -580.70 
L 480.17 -580.69 
L 481.47 -580.69 
L 482.76 -580.69 
L 484.06 -580.69 
L 485.35 -580.68 
L 486.65 -580.68 
L 487.94 -580.68 
L 489.24 -580.68 
L 490.53 -580.67 
L 491.82 -580.67 
L 493.12 -580.67 
L 494.41 -580.66 
L 495.71 -580.66 
L 497.00 -580.66 
L 498.30 -580.66 
L 499.59 -580.65 
L 500.89 -580.65 
L 502.18 -580.65 
L 503.47 -580.64 
L 504.77 -580.64 
L 506.06 -580.64 
L 507.36 -580.64 
L 508.65 -580.63 
L 509.95 -580.63 
L 511.24 -580.63 
L 512.54 -580.63 
L 513.83 -580.62 
L 515.12 -580.62 
L 516.42 -580.62 
L 517.71 -580.61 
L 519.01 -580.61 
L 520.30 -580.61 
L 521.60 -580.61 
L 522.89 -580.60 
L 524.19 -580.60 
L 525.48 -580.60 
L 526.77 -580.59 
L 528.07 -580.59 
L 529.36 -580.59 
L 530.66 -580.59 
L 531.95 -580.58 
L 533.25 -580.58 
L 534.54 -580.58 
L 535.84 -580.58 
L 537.13 -580.57 
L 538.42 -580.57 
L 539.72 -580.57 
L 541.01 -580.56 
L 542.31 -580.56 
L 543.60 -580.56 
L 544.90 -580.56 
L 546.19 -580.55 
L 547.49 -580.55 
L 548.78 -580.55 
L 550.07 -580.55 
L 551.37 -580.54 
L 552.66 -580.54 
L 553.96 -580.54 
L 555.25 -580.53 
L 556.55 -580.53 
L 557.84 -580.53 
L 559.14 -580.53 
L 560.43 -580.52 
L 561.72 -580.52 
L 563.02 -580.52 
L 564.31 -580.52 
L 565.61 -580.51 
L 566.90 -580.51 
L 568.20 -580.51 
L 569.49 -580.50 
L 570.79 -580.50 
L 572.08 -580.50 
L 573.37 -580.50 
L 574.67 -580.49 
L 575.96 -580.49 
L 577.26 -580.49 
L 578.55 -580.49 
L 579.85 -580.48 
L 581.14 -580.48 
L 582.44 -580.48 
L 583.73 -580.48 
L 585.02 -580.47 
L 586.32 -580.47 
L 587.61 -580.47 
L 588.91 -580.46 
L 590.20 -580.46 
L 591.50 -580.46 
L 592.79 -580.46 
L 594.09 -580.45 
L 595.38 -580.45 
L 596.67 -580.45 
L 597.97 -580.45 
L 599.26 -580.44 
L 600.56 -580.44 
L 601.85 -580.44 
L 603.15 -580.44 
L 604.44 -580.43 
L 605.74 -580.43 
L 607.03 -580.43 
L 608.32 -580.42 
L 609.62 -580.42 
L 610.91 -580.42 
L 612.21 -580.42 
L 613.50 -580.41 
L 614.80 -580.41 
L 616.09 -580.41 
L 617.39 -580.41 
L 617.39 -583.41 
L 617.39 -583.41 
L 616.09 -583.42 
L 614.80 -583.42 
L 613.50 -583.42 
L 612.21 -583.42 
L 610.91 -583.43 
L 609.62 -583.43 
L 608.32 -583.43 
L 607.03 -583.44 
L 605.74 -583.44 
L 604.44 -583.44 
L 603.15 -583.44 
L 601.85 -583.45 
L 600.56 -583.45 
L 599.26 -583.45 
L 597.97 -583.45 
L 596.67 -583.46 
L 595.38 -583.46 
L 594.09 -583.46 
L 592.79 -583.46 
L 591.50 -583.47 
L 590.20 -583.47 
L 588.91 -583.47 
L 587.61 -583.47 
L 586.32 -583.48 
L 585.02 -583.48 
L 583.73 -583.48 
L 582.44 -583.49 
L 581.14 -583.49 
L 579.85 -583.49 
L 578.55 -583.49 
L 577.26 -583.50 
L 575.96 -583.50 
L 574.67 -583.50 
L 573.37 -583.50 
L 572.08 -583.51 
L 570.79 -583.51 
L 569.49 -583.51 
L 568.20 -583.52 
L 566.90 -583.52 
L 565.61 -583.52 
L 564.31 -583.52 
L 563.02 -583.53 
L 561.72 -583.53 
L 560.43 -583.53 
L 559.14 -583.53 
L 557.84 -583.54 
L 556.55 -583.54 
L 555.25 -583.54 
L 553.96 -583.54 
L 552.66 -583.55 
L 551.37 -583.55 
L 550.07 -583.55 
L 548.78 -583.56 
L 547.49 -583.56 
L 546.19 -583.56 
L 544.90 -583.56 
L 543.60 -583.57 
L 542.31 -583.57 
L 541.01 -583.57 
L 539.72 -583.57 
L 538.42 -583.58 
L 537.13 -583.58 
L 535.84 -583.58 
L 534.54 -583.59 
L 533.25 -583.59 
L 531.95 -583.59 
L 530.66 -583.59 
L 529.36 -583.60 
L 528.07 -583.60 
L 526.77 -583.60 
L 525.48 -583.61 
L 524.19 -583.61 
L 522.89 -583.61 
L 521.60 -583.61 
L 520.30 -583.62 
L 519.01 -583.62 
L 517.71 -583.62 
L 516.42 -583.62 
L 515.12 -583.63 
L 513.83 -583.63 
L 512.54 -583.63 
L 511.24 -583.64 
L 509.95 -583.64 
L 508.65 -583.64 
L 507.36 -583.64 
L 506.06 -583.65 
L 504.77 -583.65 
L 503.47 -583.65 
L 502.18 -583.66 
L 500.89 -583.66 
L 499.59 -583.66 
L 498.30 -583.66 
L 497.00 -583.67 
L 495.71 -583.67 
L 494.41 -583.67 
L 493.12 -583.67 
L 491.82 -583.68 
L 490.53 -583.68 
L 489.24 -583.68 
L 487.94 -583.69 
L 486.65 -583.69 
L 485.35 -583.69 
L 484.06 -583.69 
L 482.76 -583.70 
L 481.47 -583.70 
L 480.17 -583.70 
L 478.88 -583.71 
L 477.59 -583.71 
L 476.29 -583.71 
L 475.00 -583.71 
L 473.70 -583.72 
L 472.41 -583.72 
L 471.11 -583.72 
L 469.82 -583.72 
L 468.52 -583.73 
L 467.23 -583.73 
L 465.94 -583.73 
L 464.64 -583.74 
L 463.35 -583.74 
L 462.05 -583.74 
L 460.76 -583.74 
L 459.46 -583.75 
L 458.17 -583.75 
L 456.88 -583.75 
L 455.58 -583.76 
L 454.29 -583.76 
L 452.99 -583.76 
L 451.70 -583.76 
L 450.40 -583.77 
L 449.11 -583.77 
L 447.81 -583.77 
L 446.52 -583.77 
L 445.23 -583.78 
L 443.93 -583.78 
L 442.64 -583.78 
L 441.34 -583.79 
L 440.05 -583.79 
L 438.75 -583.79 
L 437.46 -583.79 
L 436.16 -583.80 
L 434.87 -583.80 
L 433.58 -583.80 
L 432.28 -583.80 
L 430.99 -583.81 
L 429.69 -583.81 
L 428.40 -583.81 
L 427.10 -583.82 
L 425.81 -583.82 
L 424.51 -583.82 
L 423.22 -583.82 
L 421.93 -583.83 
L 420.63 -583.83 
L 419.34 -583.83 
L 418.04 -583.83 
L 416.75 -583.84 
L 415.45 -583.84 
L 414.16 -583.84 
L 412.86 -583.84 
L 411.57 -583.85 
L 410.28 -583.85 
L 408.98 -583.85 
L 407.69 -583.85 
L 406.39 -583.86 
L 405.10 -583.86 
L 403.80 -583.86 
L 402.51 -583.87 
L 401.21 -583.87 
L 399.92 -583.87 
L 398.63 -583.87 
L 397.33 -583.88 
L 396.04 -583.88 
L 394.74 -583.88 
L 393.45 -583.88 
L 392.15 -583.89 
L 390.86 -583.89 
L 389.56 -583.89 
L 388.27 -583.89 
L 386.98 -583.90 
L 385.68 -583.90 
L 384.39 -583.90 
L 383.09 -583.90 
L 381.80 -583.91 
L 380.50 -583.91 
L 379.21 -583.91 
L 377.91 -583.91 
L 376.62 -583.92 
L 375.33 -583.92 
L 374.03 -583.92 
L 372.74 -583.93 
L 371.44 -583.93 
L 370.15 -583.93 
L 368.85 -583.93 
L 367.56 -583.94 
L 366.26 -583.94 
L 364.97 -583.94 
L 363.68 -583.95 
L 362.38 -583.95 
L 361.09 -583.95 
L 359.79 -583.95 
L 358.50 -583.96 
L 357.20 -583.96 
L 355.91 -583.96 
L 354.61 -583.97 
L 353.32 -583.97 
L 352.03 -583.97 
L 350.73 -583.98 
L 349.44 -583.98 
L 348.14 -583.98 
L 346.85 -583.99 
L 345.55 -583.99 
L 344.26 -583.99 
L 342.96 -584.00 
L 341.67 -584.00 
L 340.38 -584.00 
L 339.08 -584.01 
L 337.79 -584.01 
L 336.49 -584.01 
L 335.20 -584.02 
L 333.90 -584.02 
L 332.61 -584.02 
L 331.31 -584.03 
L 330.02 -584.03 
L 328.73 -584.03 
L 327.43 -584.04 
L 326.14 -584.04 
L 324.84 -584.04 
L 323.55 -584.05 
L 322.25 -584.05 
L 320.96 -584.05 
L 319.66 -584.06 
L 318.37 -584.06 
L 317.08 -584.06 
L 315.78 -584.07 
L 314.49 -584.07 
L 313.19 -584.07 
L 311.90 -584.08 
L 310.60 -584.08 
L 309.31 -584.09 
L 308.01 -584.09 
L 306.72 -584.09 
L 305.43 -584.10 
L 304.13 -584.10 
L 302.84 -584.10 
L 301.54 -584.11 
L 300.25 -584.11 
L 298.95 -584.12 
L 297.66 -584.12 
L 296.36 -584.12 
L 295.07 -584.13 
L 293.78 -584.13 
L 292.48 -584.14 
L 291.19 -584.14 
L 289.89 -584.14 
L 288.60 -584.15 
L 287.30 -584.15 
L 286.01 -584.16 
L 284.71 -584.16 
L 283.42 -584.16 
L 282.13 -584.17 
L 280.83 -584.17 
L 279.54 -584.18 
L 278.24 -584.18 
L 276.95 -584.19 
L 275.65 -584.19 
L 274.36 -584.20 
L 273.06 -584.20 
L 271.77 -584.21 
L 270.48 -584.21 
L 269.18 -584.22 
L 267.89 -584.22 
L 266.59 -584.23 
L 265.30 -584.24 
L 264.00 -584.24 
L 262.71 -584.25 
L 261.41 -584.25 
L 260.12 -584.26 
L 258.83 -584.27 
L 257.53 -584.27 
L 256.24 -584.28 
L 254.94 -584.28 
L 253.65 -584.29 
L 252.35 -584.30 
L 251.06 -584.31 
L 249.77 -584.31 
L 248.47 -584.32 
L 247.18 -584.33 
L 245.88 -584.34 
L 244.59 -584.34 
L 243.29 -584.35 
L 242.00 -584.36 
L 240.70 -584.37 
L 239.41 -584.38 
L 238.12 -584.39 
L 236.82 -584.40 
L 235.53 -584.41 
L 234.23 -584.42 
L 232.94 -584.43 
L 231.64 -584.44 
L 230.35 -584.45 
L 229.05 -584.47 
L 227.76 -584.48 
L 226.47 -584.49 
L 225.17 -584.51 
L 223.88 -584.52 
L 222.58 -584.53 
L 221.29 -584.55 
L 219.99 -584.56 
L 218.70 -584.58 
L 217.40 -584.60 
L 216.11 -584.61 
L 214.82 -584.63 
L 213.52 -584.65 
L 212.23 -584.66 
L 210.93 -584.68 
L 209.64 -584.70 
L 208.34 -584.72 
L 207.05 -584.74 
L 205.75 -584.76 
L 204.46 -584.78 
L 203.17 -584.80 
L 201.87 -584.82 
L 200.58 -584.84 
L 199.28 -584.87 
L 197.99 -584.89 
L 196.69 -584.91 
L 195.40 -584.93 
L 194.10 -584.96 
L 192.81 -584.98 
L 191.52 -585.01 
L 190.22 -585.03 
L 188.93 -585.06 
L 187.63 -585.08 
L 186.34 -585.11 
L 185.04 -585.13 
L 183.75 -585.16 
L 182.45 -585.19 
L 181.16 -585.22 
L 179.87 -585.24 
L 178.57 -585.27 
L 177.28 -585.30 
L 175.98 -585.33 
L 174.69 -585.37 
L 173.39 -585.40 
L 172.10 -585.43 
L 170.80 -585.47 
L 169.51 -585.50 
L 168.22 -585.54 
L 166.92 -585.58 
L 165.63 -585.61 
L 164.33 -585.65 
L 163.04 -585.69 
L 161.74 -585.74 
L 160.45 -585.78 
L 159.15 -585.82 
L 157.86 -585.87 
L 156.57 -585.92 
L 155.27 -585.97 
L 153.98 -586.02 
L 152.68 -586.08 
L 151.39 -586.13 
L 150.09 -586.19 
L 148.80 -586.25 
L 147.50 -586.31 
L 146.21 -586.38 
L 144.92 -586.45 
L 143.62 -586.52 
L 142.33 -586.59 
L 141.03 -586.67 
L 139.74 -586.76 
L 138.44 -586.84 
L 137.15 -586.94 
L 135.85 -587.03 
L 134.56 -587.14 
L 133.27 -587.25 
L 131.97 -587.37 
L 130.68 -587.49 
L 129.38 -587.62 
L 128.09 -587.76 
L 126.79 -587.91 
L 125.50 -588.07 
L 124.20 -588.23 
L 122.91 -588.41 
L 121.62 -588.60 
L 120.32 -588.80 
L 119.03 -589.02 
L 117.73 -589.25 
L 116.44 -589.50 
L 115.14 -589.76 
L 113.85 -590.05 
L 112.55 -590.35 
L 111.26 -590.68 
L 109.97 -591.05 
L 108.67 -591.46 
L 107.38 -591.92 
L 106.08 -592.43 
L 104.79 -593.00 
L 103.49 -593.65 
L 102.20 -594.38 
L 100.90 -595.22 
L 100.27 -595.67 
L 99.65 -596.15 
L 99.06 -596.63 
L 98.48 -597.13 
L 97.93 -597.65 
L 97.40 -598.18 
L 96.89 -598.75 
L 96.39 -599.34 
L 95.91 -599.96 
L 95.45 -600.61 
L 95.01 -601.28 
L 94.58 -601.98 
L 94.17 -602.71 
L 93.77 -603.46 
L 93.39 -604.24 
L 93.02 -605.04 
L 92.67 -605.87 
L 92.32 -606.71 
L 91.99 -607.58 
L 91.67 -608.46 
L 91.36 -609.36 
L 91.07 -610.28 
L 90.78 -611.21 
L 90.51 -612.17 
L 90.24 -613.15 
L 89.98 -614.15 
L 89.74 -615.19 
L 89.50 -616.26 
L 89.27 -617.37 
L 89.05 -618.52 
L 88.83 -619.72 
L 88.63 -620.97 
L 88.43 -622.27 
L 88.24 -623.63 
L 88.05 -625.07 
L 87.88 -626.57 
L 87.70 -628.16 
L 87.54 -629.84 
L 87.38 -631.61 
L 87.23 -633.47 
L 87.08 -635.41 
L 86.93 -637.44 
L 86.80 -639.59 
L 86.66 -641.88 
L 86.54 -644.34 
L 86.41 -647.01 
L 86.29 -649.93 
L 86.18 -653.12 
L 86.07 -656.66 
L 85.96 -660.58 
L 85.86 -665.52 
L 85.76 -672.35 
L 85.66 -680.74 
L 85.57 -690.17 
L 85.48 -699.94 
L 85.40 -709.05 
L 85.31 -716.27 
L 85.23 -720.21 
L 85.16 -721.90 
L 85.08 -723.59 
L 85.01 -725.27 
L 84.94 -726.94 
L 84.88 -728.60 
L 84.81 -730.26 
L 84.75 -731.90 
L 84.69 -733.53 
L 84.64 -735.15 
L 84.58 -736.76 
L 84.53 -738.36 
L 84.48 -739.95 
L 84.43 -741.53 
L 84.38 -743.09 
L 84.33 -744.64 
L 84.29 -746.17 
L 84.24 -747.69 
L 84.20 -749.20 
L 84.16 -750.69 
L 84.13 -752.17 
L 84.09 -753.63 
L 84.05 -755.07 
L 84.02 -756.50 
L 83.99 -757.91 
L 83.95 -759.31 
L 83.92 -760.68 
L 83.89 -762.04 
L 83.86 -763.39 
L 83.84 -764.71 
L 83.81 -766.02 
L 83.78 -767.30 
L 83.76 -768.57 
L 83.74 -769.82 
L 83.71 -771.05 
L 83.69 -772.26 
L 83.67 -773.46 
L 83.65 -774.63 
L 83.63 -775.78 
L 83.61 -776.91 
L 83.59 -778.02 
L 83.57 -779.12 
L 83.56 -780.19 
L 83.54 -781.24 
L 83.52 -782.27 
L 83.51 -783.28 
L 83.49 -784.26 
L 83.48 -785.23 
L 83.47 -786.18 
L 83.45 -787.10 
L 83.44 -788.01 
L 83.43 -788.89 
L 83.42 -789.75 
L 83.40 -790.60 
L 83.39 -791.42 
L 83.38 -792.22 
L 83.37 -792.99 
L 83.36 -793.75 
L 83.35 -794.49 
L 83.34 -795.21 
L 83.33 -795.90 
L 83.33 -796.58 
L 83.32 -797.23 
L 83.31 -797.86 
L 83.30 -798.48 
L 83.29 -799.07 
L 83.29 -799.64 
L 83.28 -800.20 
L 83.27 -800.73 
L 83.27 -801.25 
L 83.26 -801.74 
L 83.25 -802.22 
L 83.25 -802.67 
L 83.24 -803.11 
L 83.24 -803.53 
L 83.23 -803.93 
L 83.23 -804.31 
L 83.22 -804.67 
L 83.22 -805.02 
L 83.21 -805.35 
L 83.21 -805.66 
L 83.21 -805.95 
L 83.20 -806.23 
L 83.20 -806.49 
L 83.19 -806.73 
L 83.19 -806.96 
L 83.19 -807.17 
L 83.18 -807.37 
L 83.18 -807.55 
L 83.18 -807.71 
L 83.17 -807.86 
L 83.17 -808.00 
L 83.17 -808.12 
L 83.17 -808.23 
L 83.16 -808.32 
L 83.16 -808.40 
L 83.16 -808.47 
L 83.16 -808.52 
L 83.15 -808.56 
L 83.15 -808.59 
L 83.15 -808.61 
L 83.15 -808.61 
z
" style="stroke: #ff7f0e; stroke-width: 3.55"/>
    </defs>
    <g clip-path="url(#pebcdcb35c1)">
     <use href="#mbfa631ff83" x="0" y="969" style="fill: #ff7f0e; stroke: #ff7f0e; stroke-width: 3.55"/>
    </g>
   </g>
   <g id="FillBetweenPolyCollection_3">
    <defs>
     <path id="m7701c171b3" d="M 83.15 -1335.07 
L 83.15 -1331.69 
L 83.15 -1330.25 
L 83.15 -1328.85 
L 83.15 -1327.47 
L 83.16 -1326.12 
L 83.16 -1324.78 
L 83.16 -1323.45 
L 83.16 -1322.14 
L 83.17 -1320.83 
L 83.17 -1319.52 
L 83.17 -1318.20 
L 83.17 -1316.88 
L 83.18 -1315.55 
L 83.18 -1314.20 
L 83.18 -1312.83 
L 83.19 -1311.44 
L 83.19 -1310.02 
L 83.19 -1308.57 
L 83.20 -1307.08 
L 83.20 -1305.55 
L 83.21 -1303.98 
L 83.21 -1302.36 
L 83.21 -1300.69 
L 83.22 -1298.97 
L 83.22 -1297.19 
L 83.23 -1295.34 
L 83.23 -1293.43 
L 83.24 -1291.45 
L 83.24 -1289.40 
L 83.25 -1287.28 
L 83.25 -1285.07 
L 83.26 -1282.78 
L 83.27 -1280.41 
L 83.27 -1277.95 
L 83.28 -1275.39 
L 83.29 -1272.75 
L 83.29 -1270.00 
L 83.30 -1267.16 
L 83.31 -1264.21 
L 83.32 -1261.16 
L 83.33 -1258.01 
L 83.33 -1254.74 
L 83.34 -1251.36 
L 83.35 -1247.87 
L 83.36 -1244.27 
L 83.37 -1240.54 
L 83.38 -1236.70 
L 83.39 -1232.74 
L 83.40 -1228.66 
L 83.42 -1224.45 
L 83.43 -1220.13 
L 83.44 -1215.68 
L 83.45 -1211.10 
L 83.47 -1206.40 
L 83.48 -1201.57 
L 83.49 -1196.62 
L 83.51 -1191.55 
L 83.52 -1186.34 
L 83.54 -1181.02 
L 83.56 -1175.57 
L 83.57 -1169.99 
L 83.59 -1164.30 
L 83.61 -1158.48 
L 83.63 -1152.54 
L 83.65 -1146.49 
L 83.67 -1140.32 
L 83.69 -1134.03 
L 83.71 -1127.64 
L 83.74 -1121.13 
L 83.76 -1114.52 
L 83.78 -1107.80 
L 83.81 -1100.98 
L 83.84 -1094.06 
L 83.86 -1087.05 
L 83.89 -1079.94 
L 83.92 -1072.75 
L 83.95 -1065.47 
L 83.99 -1058.11 
L 84.02 -1050.67 
L 84.05 -1043.16 
L 84.09 -1035.59 
L 84.13 -1027.95 
L 84.16 -1020.25 
L 84.20 -1012.50 
L 84.24 -1004.70 
L 84.29 -996.86 
L 84.33 -988.97 
L 84.38 -981.05 
L 84.43 -973.11 
L 84.48 -965.14 
L 84.53 -957.15 
L 84.58 -949.15 
L 84.64 -941.15 
L 84.69 -933.14 
L 84.75 -925.14 
L 84.81 -917.14 
L 84.88 -909.16 
L 84.94 -901.21 
L 85.01 -893.27 
L 85.08 -885.37 
L 85.16 -877.51 
L 85.23 -869.69 
L 85.31 -861.91 
L 85.40 -854.19 
L 85.48 -846.53 
L 85.57 -838.92 
L 85.66 -831.39 
L 85.76 -823.93 
L 85.86 -816.54 
L 85.96 -809.24 
L 86.07 -802.02 
L 86.18 -794.90 
L 86.29 -787.86 
L 86.41 -780.93 
L 86.54 -774.09 
L 86.66 -767.36 
L 86.80 -760.74 
L 86.93 -754.24 
L 87.08 -747.86 
L 87.23 -741.64 
L 87.38 -735.59 
L 87.54 -729.74 
L 87.70 -724.09 
L 87.88 -718.66 
L 88.05 -713.45 
L 88.24 -708.49 
L 88.43 -703.76 
L 88.63 -699.27 
L 88.83 -695.03 
L 89.05 -691.03 
L 89.27 -687.26 
L 89.50 -683.70 
L 89.74 -680.34 
L 89.98 -677.15 
L 90.24 -674.11 
L 90.51 -671.22 
L 90.78 -668.45 
L 91.07 -665.80 
L 91.36 -663.26 
L 91.67 -660.81 
L 91.99 -658.45 
L 92.32 -656.17 
L 92.67 -653.96 
L 93.02 -651.83 
L 93.39 -649.77 
L 93.77 -647.78 
L 94.17 -645.85 
L 94.58 -643.98 
L 95.01 -642.18 
L 95.45 -640.44 
L 95.91 -638.75 
L 96.39 -637.12 
L 96.89 -635.54 
L 97.40 -634.01 
L 97.93 -632.54 
L 98.48 -631.10 
L 99.06 -629.72 
L 99.65 -628.38 
L 100.27 -627.08 
L 100.90 -625.82 
L 102.20 -623.52 
L 103.49 -621.49 
L 104.79 -619.69 
L 106.08 -618.08 
L 107.38 -616.63 
L 108.67 -615.32 
L 109.97 -614.12 
L 111.26 -613.03 
L 112.55 -612.03 
L 113.85 -611.10 
L 115.14 -610.25 
L 116.44 -609.45 
L 117.73 -608.71 
L 119.03 -608.02 
L 120.32 -607.38 
L 121.62 -606.77 
L 122.91 -606.20 
L 124.20 -605.67 
L 125.50 -605.16 
L 126.79 -604.69 
L 128.09 -604.23 
L 129.38 -603.81 
L 130.68 -603.40 
L 131.97 -603.01 
L 133.27 -602.64 
L 134.56 -602.29 
L 135.85 -601.96 
L 137.15 -601.64 
L 138.44 -601.33 
L 139.74 -601.04 
L 141.03 -600.75 
L 142.33 -600.48 
L 143.62 -600.22 
L 144.92 -599.97 
L 146.21 -599.74 
L 147.50 -599.50 
L 148.80 -599.28 
L 150.09 -599.07 
L 151.39 -598.86 
L 152.68 -598.66 
L 153.98 -598.47 
L 155.27 -598.29 
L 156.57 -598.11 
L 157.86 -597.94 
L 159.15 -597.77 
L 160.45 -597.61 
L 161.74 -597.46 
L 163.04 -597.30 
L 164.33 -597.16 
L 165.63 -597.02 
L 166.92 -596.88 
L 168.22 -596.75 
L 169.51 -596.62 
L 170.80 -596.50 
L 172.10 -596.38 
L 173.39 -596.26 
L 174.69 -596.15 
L 175.98 -596.04 
L 177.28 -595.93 
L 178.57 -595.83 
L 179.87 -595.73 
L 181.16 -595.63 
L 182.45 -595.54 
L 183.75 -595.45 
L 185.04 -595.36 
L 186.34 -595.27 
L 187.63 -595.19 
L 188.93 -595.11 
L 190.22 -595.03 
L 191.52 -594.95 
L 192.81 -594.87 
L 194.10 -594.80 
L 195.40 -594.73 
L 196.69 -594.66 
L 197.99 -594.60 
L 199.28 -594.53 
L 200.58 -594.47 
L 201.87 -594.41 
L 203.17 -594.35 
L 204.46 -594.29 
L 205.75 -594.23 
L 207.05 -594.18 
L 208.34 -594.12 
L 209.64 -594.07 
L 210.93 -594.02 
L 212.23 -593.97 
L 213.52 -593.92 
L 214.82 -593.88 
L 216.11 -593.83 
L 217.40 -593.79 
L 218.70 -593.75 
L 219.99 -593.70 
L 221.29 -593.66 
L 222.58 -593.62 
L 223.88 -593.59 
L 225.17 -593.55 
L 226.47 -593.51 
L 227.76 -593.48 
L 229.05 -593.44 
L 230.35 -593.41 
L 231.64 -593.38 
L 232.94 -593.35 
L 234.23 -593.32 
L 235.53 -593.29 
L 236.82 -593.26 
L 238.12 -593.23 
L 239.41 -593.20 
L 240.70 -593.18 
L 242.00 -593.15 
L 243.29 -593.13 
L 244.59 -593.11 
L 245.88 -593.08 
L 247.18 -593.06 
L 248.47 -593.04 
L 249.77 -593.02 
L 251.06 -593.00 
L 252.35 -592.98 
L 253.65 -592.96 
L 254.94 -592.94 
L 256.24 -592.92 
L 257.53 -592.91 
L 258.83 -592.89 
L 260.12 -592.87 
L 261.41 -592.86 
L 262.71 -592.84 
L 264.00 -592.83 
L 265.30 -592.82 
L 266.59 -592.80 
L 267.89 -592.79 
L 269.18 -592.78 
L 270.48 -592.77 
L 271.77 -592.76 
L 273.06 -592.75 
L 274.36 -592.74 
L 275.65 -592.73 
L 276.95 -592.72 
L 278.24 -592.71 
L 279.54 -592.70 
L 280.83 -592.69 
L 282.13 -592.69 
L 283.42 -592.68 
L 284.71 -592.67 
L 286.01 -592.67 
L 287.30 -592.66 
L 288.60 -592.66 
L 289.89 -592.65 
L 291.19 -592.65 
L 292.48 -592.64 
L 293.78 -592.64 
L 295.07 -592.64 
L 296.36 -592.64 
L 297.66 -592.63 
L 298.95 -592.63 
L 300.25 -592.63 
L 301.54 -592.63 
L 302.84 -592.63 
L 304.13 -592.63 
L 305.43 -592.62 
L 306.72 -592.62 
L 308.01 -592.62 
L 309.31 -592.63 
L 310.60 -592.63 
L 311.90 -592.63 
L 313.19 -592.63 
L 314.49 -592.63 
L 315.78 -592.63 
L 317.08 -592.63 
L 318.37 -592.64 
L 319.66 -592.64 
L 320.96 -592.64 
L 322.25 -592.65 
L 323.55 -592.65 
L 324.84 -592.65 
L 326.14 -592.66 
L 327.43 -592.66 
L 328.73 -592.67 
L 330.02 -592.67 
L 331.31 -592.68 
L 332.61 -592.68 
L 333.90 -592.69 
L 335.20 -592.69 
L 336.49 -592.70 
L 337.79 -592.71 
L 339.08 -592.71 
L 340.38 -592.72 
L 341.67 -592.73 
L 342.96 -592.73 
L 344.26 -592.74 
L 345.55 -592.75 
L 346.85 -592.76 
L 348.14 -592.76 
L 349.44 -592.77 
L 350.73 -592.78 
L 352.03 -592.79 
L 353.32 -592.80 
L 354.61 -592.81 
L 355.91 -592.82 
L 357.20 -592.83 
L 358.50 -592.84 
L 359.79 -592.85 
L 361.09 -592.86 
L 362.38 -592.87 
L 363.68 -592.88 
L 364.97 -592.89 
L 366.26 -592.90 
L 367.56 -592.91 
L 368.85 -592.92 
L 370.15 -592.93 
L 371.44 -592.94 
L 372.74 -592.95 
L 374.03 -592.96 
L 375.33 -592.98 
L 376.62 -592.99 
L 377.91 -593.00 
L 379.21 -593.01 
L 380.50 -593.03 
L 381.80 -593.04 
L 383.09 -593.05 
L 384.39 -593.06 
L 385.68 -593.08 
L 386.98 -593.09 
L 388.27 -593.10 
L 389.56 -593.12 
L 390.86 -593.13 
L 392.15 -593.15 
L 393.45 -593.16 
L 394.74 -593.17 
L 396.04 -593.19 
L 397.33 -593.20 
L 398.63 -593.22 
L 399.92 -593.23 
L 401.21 -593.25 
L 402.51 -593.26 
L 403.80 -593.28 
L 405.10 -593.29 
L 406.39 -593.31 
L 407.69 -593.32 
L 408.98 -593.34 
L 410.28 -593.35 
L 411.57 -593.37 
L 412.86 -593.39 
L 414.16 -593.40 
L 415.45 -593.42 
L 416.75 -593.43 
L 418.04 -593.45 
L 419.34 -593.47 
L 420.63 -593.48 
L 421.93 -593.50 
L 423.22 -593.52 
L 424.51 -593.54 
L 425.81 -593.55 
L 427.10 -593.57 
L 428.40 -593.59 
L 429.69 -593.60 
L 430.99 -593.62 
L 432.28 -593.64 
L 433.58 -593.66 
L 434.87 -593.68 
L 436.16 -593.69 
L 437.46 -593.71 
L 438.75 -593.73 
L 440.05 -593.75 
L 441.34 -593.77 
L 442.64 -593.79 
L 443.93 -593.80 
L 445.23 -593.82 
L 446.52 -593.84 
L 447.81 -593.86 
L 449.11 -593.88 
L 450.40 -593.90 
L 451.70 -593.92 
L 452.99 -593.94 
L 454.29 -593.96 
L 455.58 -593.98 
L 456.88 -594.00 
L 458.17 -594.02 
L 459.46 -594.04 
L 460.76 -594.06 
L 462.05 -594.08 
L 463.35 -594.10 
L 464.64 -594.12 
L 465.94 -594.14 
L 467.23 -594.16 
L 468.52 -594.18 
L 469.82 -594.20 
L 471.11 -594.22 
L 472.41 -594.24 
L 473.70 -594.26 
L 475.00 -594.28 
L 476.29 -594.30 
L 477.59 -594.32 
L 478.88 -594.34 
L 480.17 -594.37 
L 481.47 -594.39 
L 482.76 -594.41 
L 484.06 -594.43 
L 485.35 -594.45 
L 486.65 -594.47 
L 487.94 -594.50 
L 489.24 -594.52 
L 490.53 -594.54 
L 491.82 -594.56 
L 493.12 -594.58 
L 494.41 -594.61 
L 495.71 -594.63 
L 497.00 -594.65 
L 498.30 -594.67 
L 499.59 -594.70 
L 500.89 -594.72 
L 502.18 -594.74 
L 503.47 -594.76 
L 504.77 -594.79 
L 506.06 -594.81 
L 507.36 -594.83 
L 508.65 -594.85 
L 509.95 -594.88 
L 511.24 -594.90 
L 512.54 -594.92 
L 513.83 -594.95 
L 515.12 -594.97 
L 516.42 -594.99 
L 517.71 -595.02 
L 519.01 -595.04 
L 520.30 -595.06 
L 521.60 -595.09 
L 522.89 -595.11 
L 524.19 -595.14 
L 525.48 -595.16 
L 526.77 -595.18 
L 528.07 -595.21 
L 529.36 -595.23 
L 530.66 -595.26 
L 531.95 -595.28 
L 533.25 -595.31 
L 534.54 -595.33 
L 535.84 -595.35 
L 537.13 -595.38 
L 538.42 -595.40 
L 539.72 -595.43 
L 541.01 -595.45 
L 542.31 -595.48 
L 543.60 -595.50 
L 544.90 -595.53 
L 546.19 -595.55 
L 547.49 -595.58 
L 548.78 -595.60 
L 550.07 -595.63 
L 551.37 -595.65 
L 552.66 -595.68 
L 553.96 -595.70 
L 555.25 -595.73 
L 556.55 -595.75 
L 557.84 -595.78 
L 559.14 -595.81 
L 560.43 -595.83 
L 561.72 -595.86 
L 563.02 -595.88 
L 564.31 -595.91 
L 565.61 -595.93 
L 566.90 -595.96 
L 568.20 -595.99 
L 569.49 -596.01 
L 570.79 -596.04 
L 572.08 -596.07 
L 573.37 -596.09 
L 574.67 -596.12 
L 575.96 -596.14 
L 577.26 -596.17 
L 578.55 -596.20 
L 579.85 -596.22 
L 581.14 -596.25 
L 582.44 -596.28 
L 583.73 -596.30 
L 585.02 -596.33 
L 586.32 -596.36 
L 587.61 -596.38 
L 588.91 -596.41 
L 590.20 -596.44 
L 591.50 -596.47 
L 592.79 -596.49 
L 594.09 -596.52 
L 595.38 -596.55 
L 596.67 -596.57 
L 597.97 -596.60 
L 599.26 -596.63 
L 600.56 -596.66 
L 601.85 -596.68 
L 603.15 -596.71 
L 604.44 -596.74 
L 605.74 -596.77 
L 607.03 -596.80 
L 608.32 -596.82 
L 609.62 -596.85 
L 610.91 -596.88 
L 612.21 -596.91 
L 613.50 -596.94 
L 614.80 -596.96 
L 616.09 -596.99 
L 617.39 -597.02 
L 617.39 -600.40 
L 617.39 -600.40 
L 616.09 -600.37 
L 614.80 -600.35 
L 613.50 -600.32 
L 612.21 -600.29 
L 610.91 -600.26 
L 609.62 -600.23 
L 608.32 -600.21 
L 607.03 -600.18 
L 605.74 -600.15 
L 604.44 -600.12 
L 603.15 -600.10 
L 601.85 -600.07 
L 600.56 -600.04 
L 599.26 -600.01 
L 597.97 -599.99 
L 596.67 -599.96 
L 595.38 -599.93 
L 594.09 -599.90 
L 592.79 -599.88 
L 591.50 -599.85 
L 590.20 -599.82 
L 588.91 -599.80 
L 587.61 -599.77 
L 586.32 -599.74 
L 585.02 -599.71 
L 583.73 -599.69 
L 582.44 -599.66 
L 581.14 -599.63 
L 579.85 -599.61 
L 578.55 -599.58 
L 577.26 -599.55 
L 575.96 -599.53 
L 574.67 -599.50 
L 573.37 -599.48 
L 572.08 -599.45 
L 570.79 -599.42 
L 569.49 -599.40 
L 568.20 -599.37 
L 566.90 -599.34 
L 565.61 -599.32 
L 564.31 -599.29 
L 563.02 -599.27 
L 561.72 -599.24 
L 560.43 -599.22 
L 559.14 -599.19 
L 557.84 -599.16 
L 556.55 -599.14 
L 555.25 -599.11 
L 553.96 -599.09 
L 552.66 -599.06 
L 551.37 -599.04 
L 550.07 -599.01 
L 548.78 -598.99 
L 547.49 -598.96 
L 546.19 -598.94 
L 544.90 -598.91 
L 543.60 -598.89 
L 542.31 -598.86 
L 541.01 -598.84 
L 539.72 -598.81 
L 538.42 -598.79 
L 537.13 -598.76 
L 535.84 -598.74 
L 534.54 -598.71 
L 533.25 -598.69 
L 531.95 -598.66 
L 530.66 -598.64 
L 529.36 -598.62 
L 528.07 -598.59 
L 526.77 -598.57 
L 525.48 -598.54 
L 524.19 -598.52 
L 522.89 -598.50 
L 521.60 -598.47 
L 520.30 -598.45 
L 519.01 -598.42 
L 517.71 -598.40 
L 516.42 -598.38 
L 515.12 -598.35 
L 513.83 -598.33 
L 512.54 -598.31 
L 511.24 -598.28 
L 509.95 -598.26 
L 508.65 -598.24 
L 507.36 -598.22 
L 506.06 -598.19 
L 504.77 -598.17 
L 503.47 -598.15 
L 502.18 -598.12 
L 500.89 -598.10 
L 499.59 -598.08 
L 498.30 -598.06 
L 497.00 -598.03 
L 495.71 -598.01 
L 494.41 -597.99 
L 493.12 -597.97 
L 491.82 -597.95 
L 490.53 -597.92 
L 489.24 -597.90 
L 487.94 -597.88 
L 486.65 -597.86 
L 485.35 -597.84 
L 484.06 -597.81 
L 482.76 -597.79 
L 481.47 -597.77 
L 480.17 -597.75 
L 478.88 -597.73 
L 477.59 -597.71 
L 476.29 -597.69 
L 475.00 -597.67 
L 473.70 -597.64 
L 472.41 -597.62 
L 471.11 -597.60 
L 469.82 -597.58 
L 468.52 -597.56 
L 467.23 -597.54 
L 465.94 -597.52 
L 464.64 -597.50 
L 463.35 -597.48 
L 462.05 -597.46 
L 460.76 -597.44 
L 459.46 -597.42 
L 458.17 -597.40 
L 456.88 -597.38 
L 455.58 -597.36 
L 454.29 -597.34 
L 452.99 -597.32 
L 451.70 -597.30 
L 450.40 -597.28 
L 449.11 -597.26 
L 447.81 -597.24 
L 446.52 -597.23 
L 445.23 -597.21 
L 443.93 -597.19 
L 442.64 -597.17 
L 441.34 -597.15 
L 440.05 -597.13 
L 438.75 -597.11 
L 437.46 -597.10 
L 436.16 -597.08 
L 434.87 -597.06 
L 433.58 -597.04 
L 432.28 -597.02 
L 430.99 -597.01 
L 429.69 -596.99 
L 428.40 -596.97 
L 427.10 -596.95 
L 425.81 -596.94 
L 424.51 -596.92 
L 423.22 -596.90 
L 421.93 -596.88 
L 420.63 -596.87 
L 419.34 -596.85 
L 418.04 -596.83 
L 416.75 -596.82 
L 415.45 -596.80 
L 414.16 -596.79 
L 412.86 -596.77 
L 411.57 -596.75 
L 410.28 -596.74 
L 408.98 -596.72 
L 407.69 -596.71 
L 406.39 -596.69 
L 405.10 -596.68 
L 403.80 -596.66 
L 402.51 -596.64 
L 401.21 -596.63 
L 399.92 -596.62 
L 398.63 -596.60 
L 397.33 -596.59 
L 396.04 -596.57 
L 394.74 -596.56 
L 393.45 -596.54 
L 392.15 -596.53 
L 390.86 -596.52 
L 389.56 -596.50 
L 388.27 -596.49 
L 386.98 -596.47 
L 385.68 -596.46 
L 384.39 -596.45 
L 383.09 -596.43 
L 381.80 -596.42 
L 380.50 -596.41 
L 379.21 -596.40 
L 377.91 -596.38 
L 376.62 -596.37 
L 375.33 -596.36 
L 374.03 -596.35 
L 372.74 -596.34 
L 371.44 -596.33 
L 370.15 -596.31 
L 368.85 -596.30 
L 367.56 -596.29 
L 366.26 -596.28 
L 364.97 -596.27 
L 363.68 -596.26 
L 362.38 -596.25 
L 361.09 -596.24 
L 359.79 -596.23 
L 358.50 -596.22 
L 357.20 -596.21 
L 355.91 -596.20 
L 354.61 -596.19 
L 353.32 -596.18 
L 352.03 -596.17 
L 350.73 -596.16 
L 349.44 -596.16 
L 348.14 -596.15 
L 346.85 -596.14 
L 345.55 -596.13 
L 344.26 -596.12 
L 342.96 -596.12 
L 341.67 -596.11 
L 340.38 -596.10 
L 339.08 -596.10 
L 337.79 -596.09 
L 336.49 -596.08 
L 335.20 -596.08 
L 333.90 -596.07 
L 332.61 -596.07 
L 331.31 -596.06 
L 330.02 -596.06 
L 328.73 -596.05 
L 327.43 -596.05 
L 326.14 -596.04 
L 324.84 -596.04 
L 323.55 -596.03 
L 322.25 -596.03 
L 320.96 -596.03 
L 319.66 -596.02 
L 318.37 -596.02 
L 317.08 -596.02 
L 315.78 -596.02 
L 314.49 -596.01 
L 313.19 -596.01 
L 311.90 -596.01 
L 310.60 -596.01 
L 309.31 -596.01 
L 308.01 -596.01 
L 306.72 -596.01 
L 305.43 -596.01 
L 304.13 -596.01 
L 302.84 -596.01 
L 301.54 -596.01 
L 300.25 -596.01 
L 298.95 -596.01 
L 297.66 -596.02 
L 296.36 -596.02 
L 295.07 -596.02 
L 293.78 -596.02 
L 292.48 -596.03 
L 291.19 -596.03 
L 289.89 -596.04 
L 288.60 -596.04 
L 287.30 -596.05 
L 286.01 -596.05 
L 284.71 -596.06 
L 283.42 -596.06 
L 282.13 -596.07 
L 280.83 -596.08 
L 279.54 -596.09 
L 278.24 -596.09 
L 276.95 -596.10 
L 275.65 -596.11 
L 274.36 -596.12 
L 273.06 -596.13 
L 271.77 -596.14 
L 270.48 -596.15 
L 269.18 -596.16 
L 267.89 -596.18 
L 266.59 -596.19 
L 265.30 -596.20 
L 264.00 -596.21 
L 262.71 -596.23 
L 261.41 -596.24 
L 260.12 -596.26 
L 258.83 -596.27 
L 257.53 -596.29 
L 256.24 -596.31 
L 254.94 -596.32 
L 253.65 -596.34 
L 252.35 -596.36 
L 251.06 -596.38 
L 249.77 -596.40 
L 248.47 -596.42 
L 247.18 -596.44 
L 245.88 -596.47 
L 244.59 -596.49 
L 243.29 -596.51 
L 242.00 -596.54 
L 240.70 -596.56 
L 239.41 -596.59 
L 238.12 -596.62 
L 236.82 -596.64 
L 235.53 -596.67 
L 234.23 -596.70 
L 232.94 -596.73 
L 231.64 -596.76 
L 230.35 -596.79 
L 229.05 -596.83 
L 227.76 -596.86 
L 226.47 -596.90 
L 225.17 -596.93 
L 223.88 -596.97 
L 222.58 -597.01 
L 221.29 -597.05 
L 219.99 -597.09 
L 218.70 -597.13 
L 217.40 -597.17 
L 216.11 -597.22 
L 214.82 -597.26 
L 213.52 -597.31 
L 212.23 -597.36 
L 210.93 -597.40 
L 209.64 -597.45 
L 208.34 -597.51 
L 207.05 -597.56 
L 205.75 -597.62 
L 204.46 -597.67 
L 203.17 -597.73 
L 201.87 -597.79 
L 200.58 -597.85 
L 199.28 -597.91 
L 197.99 -597.98 
L 196.69 -598.05 
L 195.40 -598.11 
L 194.10 -598.19 
L 192.81 -598.26 
L 191.52 -598.33 
L 190.22 -598.41 
L 188.93 -598.49 
L 187.63 -598.57 
L 186.34 -598.65 
L 185.04 -598.74 
L 183.75 -598.83 
L 182.45 -598.92 
L 181.16 -599.02 
L 179.87 -599.11 
L 178.57 -599.21 
L 177.28 -599.32 
L 175.98 -599.42 
L 174.69 -599.53 
L 173.39 -599.65 
L 172.10 -599.76 
L 170.80 -599.88 
L 169.51 -600.01 
L 168.22 -600.13 
L 166.92 -600.27 
L 165.63 -600.40 
L 164.33 -600.54 
L 163.04 -600.69 
L 161.74 -600.84 
L 160.45 -600.99 
L 159.15 -601.16 
L 157.86 -601.32 
L 156.57 -601.49 
L 155.27 -601.67 
L 153.98 -601.86 
L 152.68 -602.05 
L 151.39 -602.25 
L 150.09 -602.45 
L 148.80 -602.67 
L 147.50 -602.89 
L 146.21 -603.12 
L 144.92 -603.36 
L 143.62 -603.61 
L 142.33 -603.87 
L 141.03 -604.14 
L 139.74 -604.42 
L 138.44 -604.71 
L 137.15 -605.02 
L 135.85 -605.34 
L 134.56 -605.68 
L 133.27 -606.03 
L 131.97 -606.40 
L 130.68 -606.78 
L 129.38 -607.19 
L 128.09 -607.62 
L 126.79 -608.07 
L 125.50 -608.55 
L 124.20 -609.05 
L 122.91 -609.59 
L 121.62 -610.16 
L 120.32 -610.76 
L 119.03 -611.41 
L 117.73 -612.10 
L 116.44 -612.84 
L 115.14 -613.63 
L 113.85 -614.48 
L 112.55 -615.41 
L 111.26 -616.41 
L 109.97 -617.50 
L 108.67 -618.70 
L 107.38 -620.01 
L 106.08 -621.46 
L 104.79 -623.07 
L 103.49 -624.87 
L 102.20 -626.90 
L 100.90 -629.21 
L 100.27 -630.46 
L 99.65 -631.76 
L 99.06 -633.10 
L 98.48 -634.49 
L 97.93 -635.92 
L 97.40 -637.40 
L 96.89 -638.93 
L 96.39 -640.50 
L 95.91 -642.14 
L 95.45 -643.82 
L 95.01 -645.57 
L 94.58 -647.37 
L 94.17 -649.23 
L 93.77 -651.16 
L 93.39 -653.15 
L 93.02 -655.21 
L 92.67 -657.35 
L 92.32 -659.55 
L 91.99 -661.83 
L 91.67 -664.20 
L 91.36 -666.64 
L 91.07 -669.19 
L 90.78 -671.83 
L 90.51 -674.60 
L 90.24 -677.49 
L 89.98 -680.53 
L 89.74 -683.72 
L 89.50 -687.09 
L 89.27 -690.65 
L 89.05 -694.41 
L 88.83 -698.41 
L 88.63 -702.65 
L 88.43 -707.14 
L 88.24 -711.87 
L 88.05 -716.84 
L 87.88 -722.04 
L 87.70 -727.47 
L 87.54 -733.12 
L 87.38 -738.97 
L 87.23 -745.02 
L 87.08 -751.24 
L 86.93 -757.62 
L 86.80 -764.13 
L 86.66 -770.75 
L 86.54 -777.48 
L 86.41 -784.31 
L 86.29 -791.25 
L 86.18 -798.28 
L 86.07 -805.41 
L 85.96 -812.62 
L 85.86 -819.93 
L 85.76 -827.31 
L 85.66 -834.77 
L 85.57 -842.31 
L 85.48 -849.91 
L 85.40 -857.57 
L 85.31 -865.30 
L 85.23 -873.07 
L 85.16 -880.89 
L 85.08 -888.76 
L 85.01 -896.66 
L 84.94 -904.59 
L 84.88 -912.55 
L 84.81 -920.53 
L 84.75 -928.52 
L 84.69 -936.52 
L 84.64 -944.53 
L 84.58 -952.54 
L 84.53 -960.54 
L 84.48 -968.52 
L 84.43 -976.49 
L 84.38 -984.44 
L 84.33 -992.36 
L 84.29 -1000.24 
L 84.24 -1008.08 
L 84.20 -1015.88 
L 84.16 -1023.64 
L 84.13 -1031.33 
L 84.09 -1038.97 
L 84.05 -1046.55 
L 84.02 -1054.06 
L 83.99 -1061.49 
L 83.95 -1068.85 
L 83.92 -1076.13 
L 83.89 -1083.32 
L 83.86 -1090.43 
L 83.84 -1097.44 
L 83.81 -1104.36 
L 83.78 -1111.18 
L 83.76 -1117.90 
L 83.74 -1124.51 
L 83.71 -1131.02 
L 83.69 -1137.42 
L 83.67 -1143.70 
L 83.65 -1149.87 
L 83.63 -1155.93 
L 83.61 -1161.86 
L 83.59 -1167.68 
L 83.57 -1173.38 
L 83.56 -1178.95 
L 83.54 -1184.40 
L 83.52 -1189.73 
L 83.51 -1194.93 
L 83.49 -1200.01 
L 83.48 -1204.96 
L 83.47 -1209.78 
L 83.45 -1214.48 
L 83.44 -1219.06 
L 83.43 -1223.51 
L 83.42 -1227.84 
L 83.40 -1232.04 
L 83.39 -1236.12 
L 83.38 -1240.09 
L 83.37 -1243.93 
L 83.36 -1247.65 
L 83.35 -1251.26 
L 83.34 -1254.75 
L 83.33 -1258.12 
L 83.33 -1261.39 
L 83.32 -1264.55 
L 83.31 -1267.60 
L 83.30 -1270.54 
L 83.29 -1273.39 
L 83.29 -1276.13 
L 83.28 -1278.78 
L 83.27 -1281.33 
L 83.27 -1283.79 
L 83.26 -1286.17 
L 83.25 -1288.45 
L 83.25 -1290.66 
L 83.24 -1292.79 
L 83.24 -1294.84 
L 83.23 -1296.82 
L 83.23 -1298.72 
L 83.22 -1300.57 
L 83.22 -1302.35 
L 83.21 -1304.08 
L 83.21 -1305.75 
L 83.21 -1307.36 
L 83.20 -1308.93 
L 83.20 -1310.46 
L 83.19 -1311.95 
L 83.19 -1313.40 
L 83.19 -1314.82 
L 83.18 -1316.22 
L 83.18 -1317.59 
L 83.18 -1318.93 
L 83.17 -1320.27 
L 83.17 -1321.59 
L 83.17 -1322.90 
L 83.17 -1324.21 
L 83.16 -1325.52 
L 83.16 -1326.84 
L 83.16 -1328.16 
L 83.16 -1329.50 
L 83.15 -1330.86 
L 83.15 -1332.23 
L 83.15 -1333.64 
L 83.15 -1335.07 
z
" style="stroke: #2ca02c; stroke-width: 3.55"/>
    </defs>
    <g clip-path="url(#pebcdcb35c1)">
     <use href="#m7701c171b3" x="0" y="969" style="fill: #2ca02c; stroke: #2ca02c; stroke-width: 3.55"/>
    </g>
   </g>
   <g id="FillBetweenPolyCollection_4">
    <defs>
     <path id="mf6626dde45" d="M 88.08 -1053.49 
L 88.08 -1048.60 
L 88.12 -1044.84 
L 88.16 -1041.12 
L 88.20 -1037.45 
L 88.24 -1033.82 
L 88.29 -1030.24 
L 88.33 -1026.69 
L 88.37 -1023.19 
L 88.41 -1019.73 
L 88.45 -1016.31 
L 88.50 -1012.93 
L 88.54 -1009.59 
L 88.58 -1006.28 
L 88.63 -1003.02 
L 88.67 -999.79 
L 88.72 -996.59 
L 88.76 -993.44 
L 88.81 -990.32 
L 88.85 -987.23 
L 88.90 -984.18 
L 88.95 -981.16 
L 88.99 -978.18 
L 89.04 -975.23 
L 89.09 -972.31 
L 89.14 -969.42 
L 89.19 -966.57 
L 89.24 -963.75 
L 89.29 -960.95 
L 89.33 -958.19 
L 89.38 -955.46 
L 89.44 -952.75 
L 89.49 -950.08 
L 89.54 -947.43 
L 89.59 -944.81 
L 89.64 -942.22 
L 89.69 -939.66 
L 89.75 -937.12 
L 89.80 -934.61 
L 89.85 -932.13 
L 89.91 -929.67 
L 89.96 -927.24 
L 90.02 -924.83 
L 90.07 -922.44 
L 90.13 -920.08 
L 90.19 -917.75 
L 90.24 -915.44 
L 90.30 -913.15 
L 90.36 -910.88 
L 90.42 -908.64 
L 90.48 -906.42 
L 90.54 -904.22 
L 90.60 -902.04 
L 90.66 -899.88 
L 90.72 -897.75 
L 90.78 -895.63 
L 90.84 -893.54 
L 90.90 -891.46 
L 90.97 -889.41 
L 91.03 -887.37 
L 91.09 -885.36 
L 91.16 -883.36 
L 91.22 -881.38 
L 91.29 -879.42 
L 91.35 -877.48 
L 91.42 -875.56 
L 91.49 -873.65 
L 91.55 -871.76 
L 91.62 -869.89 
L 91.69 -868.04 
L 91.76 -866.20 
L 91.83 -864.38 
L 91.90 -862.58 
L 91.97 -860.79 
L 92.04 -859.02 
L 92.11 -857.26 
L 92.19 -855.52 
L 92.26 -853.79 
L 92.33 -852.08 
L 92.41 -850.39 
L 92.48 -848.71 
L 92.56 -847.04 
L 92.63 -845.39 
L 92.71 -843.75 
L 92.79 -842.13 
L 92.86 -840.52 
L 92.94 -838.92 
L 93.02 -837.34 
L 93.10 -835.77 
L 93.18 -834.21 
L 93.26 -832.66 
L 93.35 -831.13 
L 93.43 -829.61 
L 93.51 -828.11 
L 93.59 -826.61 
L 93.68 -825.13 
L 93.76 -823.66 
L 93.85 -822.20 
L 93.94 -820.76 
L 94.02 -819.32 
L 94.11 -817.90 
L 94.20 -816.49 
L 94.29 -815.08 
L 94.38 -813.69 
L 94.47 -812.31 
L 94.56 -810.94 
L 94.65 -809.59 
L 94.75 -808.24 
L 94.84 -806.90 
L 94.93 -805.57 
L 95.03 -804.25 
L 95.13 -802.95 
L 95.22 -801.65 
L 95.32 -800.36 
L 95.42 -799.08 
L 95.52 -797.81 
L 95.62 -796.55 
L 95.72 -795.30 
L 95.82 -794.06 
L 95.92 -792.82 
L 96.02 -791.60 
L 96.13 -790.38 
L 96.23 -789.17 
L 96.34 -787.97 
L 96.45 -786.78 
L 96.55 -785.60 
L 96.66 -784.43 
L 96.77 -783.26 
L 96.88 -782.10 
L 96.99 -780.95 
L 97.10 -779.81 
L 97.21 -778.68 
L 97.33 -777.55 
L 97.44 -776.43 
L 97.56 -775.32 
L 97.67 -774.21 
L 97.79 -773.11 
L 97.91 -772.02 
L 98.03 -770.94 
L 98.15 -769.86 
L 98.27 -768.79 
L 98.39 -767.73 
L 98.51 -766.67 
L 98.64 -765.62 
L 98.76 -764.58 
L 98.89 -763.54 
L 99.02 -762.51 
L 99.14 -761.49 
L 99.27 -760.47 
L 99.40 -759.46 
L 99.53 -758.46 
L 99.67 -757.46 
L 99.80 -756.46 
L 99.93 -755.47 
L 100.07 -754.49 
L 100.21 -753.52 
L 100.34 -752.55 
L 100.48 -751.58 
L 100.62 -750.62 
L 100.76 -749.67 
L 100.90 -748.72 
L 102.20 -740.63 
L 103.49 -733.40 
L 104.79 -726.88 
L 106.08 -720.96 
L 107.38 -715.55 
L 108.67 -710.56 
L 109.97 -705.94 
L 111.26 -701.66 
L 112.55 -697.68 
L 113.85 -693.98 
L 115.14 -690.52 
L 116.44 -687.28 
L 117.73 -684.24 
L 119.03 -681.40 
L 120.32 -678.72 
L 121.62 -676.20 
L 122.91 -673.82 
L 124.20 -671.58 
L 125.50 -669.46 
L 126.79 -667.45 
L 128.09 -665.55 
L 129.38 -663.74 
L 130.68 -662.02 
L 131.97 -660.39 
L 133.27 -658.83 
L 134.56 -657.35 
L 135.85 -655.94 
L 137.15 -654.59 
L 138.44 -653.30 
L 139.74 -652.07 
L 141.03 -650.88 
L 142.33 -649.75 
L 143.62 -648.67 
L 144.92 -647.63 
L 146.21 -646.63 
L 147.50 -645.67 
L 148.80 -644.75 
L 150.09 -643.87 
L 151.39 -643.01 
L 152.68 -642.19 
L 153.98 -641.40 
L 155.27 -640.64 
L 156.57 -639.91 
L 157.86 -639.20 
L 159.15 -638.51 
L 160.45 -637.85 
L 161.74 -637.21 
L 163.04 -636.59 
L 164.33 -635.99 
L 165.63 -635.41 
L 166.92 -634.84 
L 168.22 -634.30 
L 169.51 -633.77 
L 170.80 -633.25 
L 172.10 -632.75 
L 173.39 -632.27 
L 174.69 -631.80 
L 175.98 -631.34 
L 177.28 -630.89 
L 178.57 -630.46 
L 179.87 -630.04 
L 181.16 -629.63 
L 182.45 -629.23 
L 183.75 -628.84 
L 185.04 -628.45 
L 186.34 -628.08 
L 187.63 -627.72 
L 188.93 -627.37 
L 190.22 -627.02 
L 191.52 -626.69 
L 192.81 -626.36 
L 194.10 -626.04 
L 195.40 -625.73 
L 196.69 -625.42 
L 197.99 -625.12 
L 199.28 -624.83 
L 200.58 -624.54 
L 201.87 -624.26 
L 203.17 -623.98 
L 204.46 -623.72 
L 205.75 -623.45 
L 207.05 -623.20 
L 208.34 -622.94 
L 209.64 -622.70 
L 210.93 -622.45 
L 212.23 -622.22 
L 213.52 -621.98 
L 214.82 -621.76 
L 216.11 -621.53 
L 217.40 -621.31 
L 218.70 -621.10 
L 219.99 -620.89 
L 221.29 -620.68 
L 222.58 -620.48 
L 223.88 -620.28 
L 225.17 -620.08 
L 226.47 -619.89 
L 227.76 -619.70 
L 229.05 -619.51 
L 230.35 -619.33 
L 231.64 -619.15 
L 232.94 -618.97 
L 234.23 -618.80 
L 235.53 -618.63 
L 236.82 -618.46 
L 238.12 -618.30 
L 239.41 -618.14 
L 240.70 -617.98 
L 242.00 -617.82 
L 243.29 -617.67 
L 244.59 -617.51 
L 245.88 -617.37 
L 247.18 -617.22 
L 248.47 -617.07 
L 249.77 -616.93 
L 251.06 -616.79 
L 252.35 -616.65 
L 253.65 -616.52 
L 254.94 -616.38 
L 256.24 -616.25 
L 257.53 -616.12 
L 258.83 -615.99 
L 260.12 -615.87 
L 261.41 -615.74 
L 262.71 -615.62 
L 264.00 -615.50 
L 265.30 -615.38 
L 266.59 -615.26 
L 267.89 -615.15 
L 269.18 -615.03 
L 270.48 -614.92 
L 271.77 -614.81 
L 273.06 -614.70 
L 274.36 -614.59 
L 275.65 -614.49 
L 276.95 -614.38 
L 278.24 -614.28 
L 279.54 -614.18 
L 280.83 -614.08 
L 282.13 -613.98 
L 283.42 -613.88 
L 284.71 -613.78 
L 286.01 -613.69 
L 287.30 -613.59 
L 288.60 -613.50 
L 289.89 -613.41 
L 291.19 -613.32 
L 292.48 -613.23 
L 293.78 -613.14 
L 295.07 -613.05 
L 296.36 -612.96 
L 297.66 -612.88 
L 298.95 -612.79 
L 300.25 -612.71 
L 301.54 -612.63 
L 302.84 -612.55 
L 304.13 -612.47 
L 305.43 -612.39 
L 306.72 -612.31 
L 308.01 -612.23 
L 309.31 -612.16 
L 310.60 -612.08 
L 311.90 -612.01 
L 313.19 -611.93 
L 314.49 -611.86 
L 315.78 -611.79 
L 317.08 -611.72 
L 318.37 -611.65 
L 319.66 -611.58 
L 320.96 -611.51 
L 322.25 -611.44 
L 323.55 -611.37 
L 324.84 -611.31 
L 326.14 -611.24 
L 327.43 -611.17 
L 328.73 -611.11 
L 330.02 -611.05 
L 331.31 -610.98 
L 332.61 -610.92 
L 333.90 -610.86 
L 335.20 -610.80 
L 336.49 -610.74 
L 337.79 -610.68 
L 339.08 -610.62 
L 340.38 -610.56 
L 341.67 -610.50 
L 342.96 -610.45 
L 344.26 -610.39 
L 345.55 -610.33 
L 346.85 -610.28 
L 348.14 -610.22 
L 349.44 -610.17 
L 350.73 -610.12 
L 352.03 -610.06 
L 353.32 -610.01 
L 354.61 -609.96 
L 355.91 -609.91 
L 357.20 -609.86 
L 358.50 -609.81 
L 359.79 -609.76 
L 361.09 -609.71 
L 362.38 -609.66 
L 363.68 -609.61 
L 364.97 -609.56 
L 366.26 -609.51 
L 367.56 -609.47 
L 368.85 -609.42 
L 370.15 -609.37 
L 371.44 -609.33 
L 372.74 -609.28 
L 374.03 -609.24 
L 375.33 -609.19 
L 376.62 -609.15 
L 377.91 -609.10 
L 379.21 -609.06 
L 380.50 -609.02 
L 381.80 -608.98 
L 383.09 -608.93 
L 384.39 -608.89 
L 385.68 -608.85 
L 386.98 -608.81 
L 388.27 -608.77 
L 389.56 -608.73 
L 390.86 -608.69 
L 392.15 -608.65 
L 393.45 -608.61 
L 394.74 -608.57 
L 396.04 -608.54 
L 397.33 -608.50 
L 398.63 -608.46 
L 399.92 -608.42 
L 401.21 -608.39 
L 402.51 -608.35 
L 403.80 -608.31 
L 405.10 -608.28 
L 406.39 -608.24 
L 407.69 -608.21 
L 408.98 -608.17 
L 410.28 -608.14 
L 411.57 -608.10 
L 412.86 -608.07 
L 414.16 -608.04 
L 415.45 -608.00 
L 416.75 -607.97 
L 418.04 -607.94 
L 419.34 -607.90 
L 420.63 -607.87 
L 421.93 -607.84 
L 423.22 -607.81 
L 424.51 -607.78 
L 425.81 -607.75 
L 427.10 -607.71 
L 428.40 -607.68 
L 429.69 -607.65 
L 430.99 -607.62 
L 432.28 -607.59 
L 433.58 -607.56 
L 434.87 -607.53 
L 436.16 -607.51 
L 437.46 -607.48 
L 438.75 -607.45 
L 440.05 -607.42 
L 441.34 -607.39 
L 442.64 -607.36 
L 443.93 -607.34 
L 445.23 -607.31 
L 446.52 -607.28 
L 447.81 -607.26 
L 449.11 -607.23 
L 450.40 -607.20 
L 451.70 -607.18 
L 452.99 -607.15 
L 454.29 -607.12 
L 455.58 -607.10 
L 456.88 -607.07 
L 458.17 -607.05 
L 459.46 -607.02 
L 460.76 -607.00 
L 462.05 -606.97 
L 463.35 -606.95 
L 464.64 -606.92 
L 465.94 -606.90 
L 467.23 -606.88 
L 468.52 -606.85 
L 469.82 -606.83 
L 471.11 -606.81 
L 472.41 -606.78 
L 473.70 -606.76 
L 475.00 -606.74 
L 476.29 -606.71 
L 477.59 -606.69 
L 478.88 -606.67 
L 480.17 -606.65 
L 481.47 -606.63 
L 482.76 -606.61 
L 484.06 -606.58 
L 485.35 -606.56 
L 486.65 -606.54 
L 487.94 -606.52 
L 489.24 -606.50 
L 490.53 -606.48 
L 491.82 -606.46 
L 493.12 -606.44 
L 494.41 -606.42 
L 495.71 -606.40 
L 497.00 -606.38 
L 498.30 -606.36 
L 499.59 -606.34 
L 500.89 -606.32 
L 502.18 -606.30 
L 503.47 -606.28 
L 504.77 -606.26 
L 506.06 -606.24 
L 507.36 -606.22 
L 508.65 -606.21 
L 509.95 -606.19 
L 511.24 -606.17 
L 512.54 -606.15 
L 513.83 -606.13 
L 515.12 -606.12 
L 516.42 -606.10 
L 517.71 -606.08 
L 519.01 -606.06 
L 520.30 -606.05 
L 521.60 -606.03 
L 522.89 -606.01 
L 524.19 -606.00 
L 525.48 -605.98 
L 526.77 -605.96 
L 528.07 -605.95 
L 529.36 -605.93 
L 530.66 -605.91 
L 531.95 -605.90 
L 533.25 -605.88 
L 534.54 -605.87 
L 535.84 -605.85 
L 537.13 -605.83 
L 538.42 -605.82 
L 539.72 -605.80 
L 541.01 -605.79 
L 542.31 -605.77 
L 543.60 -605.76 
L 544.90 -605.74 
L 546.19 -605.73 
L 547.49 -605.71 
L 548.78 -605.70 
L 550.07 -605.68 
L 551.37 -605.67 
L 552.66 -605.66 
L 553.96 -605.64 
L 555.25 -605.63 
L 556.55 -605.61 
L 557.84 -605.60 
L 559.14 -605.59 
L 560.43 -605.57 
L 561.72 -605.56 
L 563.02 -605.55 
L 564.31 -605.53 
L 565.61 -605.52 
L 566.90 -605.51 
L 568.20 -605.49 
L 569.49 -605.48 
L 570.79 -605.47 
L 572.08 -605.45 
L 573.37 -605.44 
L 574.67 -605.43 
L 575.96 -605.42 
L 577.26 -605.40 
L 578.55 -605.39 
L 579.85 -605.38 
L 581.14 -605.37 
L 582.44 -605.36 
L 583.73 -605.34 
L 585.02 -605.33 
L 586.32 -605.32 
L 587.61 -605.31 
L 588.91 -605.30 
L 590.20 -605.29 
L 591.50 -605.27 
L 592.79 -605.26 
L 594.09 -605.25 
L 595.38 -605.24 
L 596.67 -605.23 
L 597.97 -605.22 
L 599.26 -605.21 
L 600.56 -605.20 
L 601.85 -605.19 
L 603.15 -605.18 
L 604.44 -605.16 
L 605.74 -605.15 
L 607.03 -605.14 
L 608.32 -605.13 
L 609.62 -605.12 
L 610.91 -605.11 
L 612.21 -605.10 
L 613.50 -605.09 
L 614.80 -605.08 
L 616.09 -605.07 
L 617.39 -605.06 
L 617.39 -609.95 
L 617.39 -609.95 
L 616.09 -609.96 
L 614.80 -609.97 
L 613.50 -609.98 
L 612.21 -609.99 
L 610.91 -610.00 
L 609.62 -610.01 
L 608.32 -610.02 
L 607.03 -610.03 
L 605.74 -610.04 
L 604.44 -610.05 
L 603.15 -610.06 
L 601.85 -610.07 
L 600.56 -610.08 
L 599.26 -610.09 
L 597.97 -610.11 
L 596.67 -610.12 
L 595.38 -610.13 
L 594.09 -610.14 
L 592.79 -610.15 
L 591.50 -610.16 
L 590.20 -610.17 
L 588.91 -610.18 
L 587.61 -610.20 
L 586.32 -610.21 
L 585.02 -610.22 
L 583.73 -610.23 
L 582.44 -610.24 
L 581.14 -610.25 
L 579.85 -610.27 
L 578.55 -610.28 
L 577.26 -610.29 
L 575.96 -610.30 
L 574.67 -610.32 
L 573.37 -610.33 
L 572.08 -610.34 
L 570.79 -610.35 
L 569.49 -610.37 
L 568.20 -610.38 
L 566.90 -610.39 
L 565.61 -610.41 
L 564.31 -610.42 
L 563.02 -610.43 
L 561.72 -610.45 
L 560.43 -610.46 
L 559.14 -610.47 
L 557.84 -610.49 
L 556.55 -610.50 
L 555.25 -610.51 
L 553.96 -610.53 
L 552.66 -610.54 
L 551.37 -610.56 
L 550.07 -610.57 
L 548.78 -610.59 
L 547.49 -610.60 
L 546.19 -610.62 
L 544.90 -610.63 
L 543.60 -610.64 
L 542.31 -610.66 
L 541.01 -610.68 
L 539.72 -610.69 
L 538.42 -610.71 
L 537.13 -610.72 
L 535.84 -610.74 
L 534.54 -610.75 
L 533.25 -610.77 
L 531.95 -610.78 
L 530.66 -610.80 
L 529.36 -610.82 
L 528.07 -610.83 
L 526.77 -610.85 
L 525.48 -610.87 
L 524.19 -610.88 
L 522.89 -610.90 
L 521.60 -610.92 
L 520.30 -610.93 
L 519.01 -610.95 
L 517.71 -610.97 
L 516.42 -610.99 
L 515.12 -611.00 
L 513.83 -611.02 
L 512.54 -611.04 
L 511.24 -611.06 
L 509.95 -611.08 
L 508.65 -611.09 
L 507.36 -611.11 
L 506.06 -611.13 
L 504.77 -611.15 
L 503.47 -611.17 
L 502.18 -611.19 
L 500.89 -611.21 
L 499.59 -611.23 
L 498.30 -611.25 
L 497.00 -611.27 
L 495.71 -611.29 
L 494.41 -611.31 
L 493.12 -611.33 
L 491.82 -611.35 
L 490.53 -611.37 
L 489.24 -611.39 
L 487.94 -611.41 
L 486.65 -611.43 
L 485.35 -611.45 
L 484.06 -611.47 
L 482.76 -611.49 
L 481.47 -611.51 
L 480.17 -611.54 
L 478.88 -611.56 
L 477.59 -611.58 
L 476.29 -611.60 
L 475.00 -611.62 
L 473.70 -611.65 
L 472.41 -611.67 
L 471.11 -611.69 
L 469.82 -611.72 
L 468.52 -611.74 
L 467.23 -611.76 
L 465.94 -611.79 
L 464.64 -611.81 
L 463.35 -611.84 
L 462.05 -611.86 
L 460.76 -611.88 
L 459.46 -611.91 
L 458.17 -611.93 
L 456.88 -611.96 
L 455.58 -611.99 
L 454.29 -612.01 
L 452.99 -612.04 
L 451.70 -612.06 
L 450.40 -612.09 
L 449.11 -612.12 
L 447.81 -612.14 
L 446.52 -612.17 
L 445.23 -612.20 
L 443.93 -612.22 
L 442.64 -612.25 
L 441.34 -612.28 
L 440.05 -612.31 
L 438.75 -612.34 
L 437.46 -612.36 
L 436.16 -612.39 
L 434.87 -612.42 
L 433.58 -612.45 
L 432.28 -612.48 
L 430.99 -612.51 
L 429.69 -612.54 
L 428.40 -612.57 
L 427.10 -612.60 
L 425.81 -612.63 
L 424.51 -612.66 
L 423.22 -612.70 
L 421.93 -612.73 
L 420.63 -612.76 
L 419.34 -612.79 
L 418.04 -612.82 
L 416.75 -612.86 
L 415.45 -612.89 
L 414.16 -612.92 
L 412.86 -612.96 
L 411.57 -612.99 
L 410.28 -613.03 
L 408.98 -613.06 
L 407.69 -613.09 
L 406.39 -613.13 
L 405.10 -613.17 
L 403.80 -613.20 
L 402.51 -613.24 
L 401.21 -613.27 
L 399.92 -613.31 
L 398.63 -613.35 
L 397.33 -613.39 
L 396.04 -613.42 
L 394.74 -613.46 
L 393.45 -613.50 
L 392.15 -613.54 
L 390.86 -613.58 
L 389.56 -613.62 
L 388.27 -613.66 
L 386.98 -613.70 
L 385.68 -613.74 
L 384.39 -613.78 
L 383.09 -613.82 
L 381.80 -613.86 
L 380.50 -613.91 
L 379.21 -613.95 
L 377.91 -613.99 
L 376.62 -614.04 
L 375.33 -614.08 
L 374.03 -614.12 
L 372.74 -614.17 
L 371.44 -614.21 
L 370.15 -614.26 
L 368.85 -614.31 
L 367.56 -614.35 
L 366.26 -614.40 
L 364.97 -614.45 
L 363.68 -614.50 
L 362.38 -614.54 
L 361.09 -614.59 
L 359.79 -614.64 
L 358.50 -614.69 
L 357.20 -614.74 
L 355.91 -614.79 
L 354.61 -614.85 
L 353.32 -614.90 
L 352.03 -614.95 
L 350.73 -615.00 
L 349.44 -615.06 
L 348.14 -615.11 
L 346.85 -615.17 
L 345.55 -615.22 
L 344.26 -615.28 
L 342.96 -615.33 
L 341.67 -615.39 
L 340.38 -615.45 
L 339.08 -615.51 
L 337.79 -615.57 
L 336.49 -615.63 
L 335.20 -615.69 
L 333.90 -615.75 
L 332.61 -615.81 
L 331.31 -615.87 
L 330.02 -615.93 
L 328.73 -616.00 
L 327.43 -616.06 
L 326.14 -616.13 
L 324.84 -616.19 
L 323.55 -616.26 
L 322.25 -616.33 
L 320.96 -616.40 
L 319.66 -616.46 
L 318.37 -616.53 
L 317.08 -616.60 
L 315.78 -616.68 
L 314.49 -616.75 
L 313.19 -616.82 
L 311.90 -616.89 
L 310.60 -616.97 
L 309.31 -617.04 
L 308.01 -617.12 
L 306.72 -617.20 
L 305.43 -617.28 
L 304.13 -617.36 
L 302.84 -617.44 
L 301.54 -617.52 
L 300.25 -617.60 
L 298.95 -617.68 
L 297.66 -617.77 
L 296.36 -617.85 
L 295.07 -617.94 
L 293.78 -618.03 
L 292.48 -618.11 
L 291.19 -618.20 
L 289.89 -618.29 
L 288.60 -618.39 
L 287.30 -618.48 
L 286.01 -618.57 
L 284.71 -618.67 
L 283.42 -618.77 
L 282.13 -618.86 
L 280.83 -618.96 
L 279.54 -619.06 
L 278.24 -619.17 
L 276.95 -619.27 
L 275.65 -619.37 
L 274.36 -619.48 
L 273.06 -619.59 
L 271.77 -619.70 
L 270.48 -619.81 
L 269.18 -619.92 
L 267.89 -620.04 
L 266.59 -620.15 
L 265.30 -620.27 
L 264.00 -620.39 
L 262.71 -620.51 
L 261.41 -620.63 
L 260.12 -620.75 
L 258.83 -620.88 
L 257.53 -621.01 
L 256.24 -621.14 
L 254.94 -621.27 
L 253.65 -621.40 
L 252.35 -621.54 
L 251.06 -621.68 
L 249.77 -621.82 
L 248.47 -621.96 
L 247.18 -622.11 
L 245.88 -622.25 
L 244.59 -622.40 
L 243.29 -622.55 
L 242.00 -622.71 
L 240.70 -622.86 
L 239.41 -623.02 
L 238.12 -623.19 
L 236.82 -623.35 
L 235.53 -623.52 
L 234.23 -623.69 
L 232.94 -623.86 
L 231.64 -624.04 
L 230.35 -624.22 
L 229.05 -624.40 
L 227.76 -624.59 
L 226.47 -624.77 
L 225.17 -624.97 
L 223.88 -625.16 
L 222.58 -625.36 
L 221.29 -625.57 
L 219.99 -625.77 
L 218.70 -625.99 
L 217.40 -626.20 
L 216.11 -626.42 
L 214.82 -626.64 
L 213.52 -626.87 
L 212.23 -627.10 
L 210.93 -627.34 
L 209.64 -627.58 
L 208.34 -627.83 
L 207.05 -628.08 
L 205.75 -628.34 
L 204.46 -628.60 
L 203.17 -628.87 
L 201.87 -629.15 
L 200.58 -629.43 
L 199.28 -629.71 
L 197.99 -630.01 
L 196.69 -630.31 
L 195.40 -630.61 
L 194.10 -630.93 
L 192.81 -631.25 
L 191.52 -631.58 
L 190.22 -631.91 
L 188.93 -632.26 
L 187.63 -632.61 
L 186.34 -632.97 
L 185.04 -633.34 
L 183.75 -633.72 
L 182.45 -634.11 
L 181.16 -634.51 
L 179.87 -634.92 
L 178.57 -635.35 
L 177.28 -635.78 
L 175.98 -636.23 
L 174.69 -636.69 
L 173.39 -637.16 
L 172.10 -637.64 
L 170.80 -638.14 
L 169.51 -638.66 
L 168.22 -639.19 
L 166.92 -639.73 
L 165.63 -640.29 
L 164.33 -640.88 
L 163.04 -641.48 
L 161.74 -642.10 
L 160.45 -642.74 
L 159.15 -643.40 
L 157.86 -644.08 
L 156.57 -644.79 
L 155.27 -645.53 
L 153.98 -646.29 
L 152.68 -647.08 
L 151.39 -647.90 
L 150.09 -648.75 
L 148.80 -649.64 
L 147.50 -650.56 
L 146.21 -651.52 
L 144.92 -652.52 
L 143.62 -653.56 
L 142.33 -654.64 
L 141.03 -655.77 
L 139.74 -656.95 
L 138.44 -658.19 
L 137.15 -659.48 
L 135.85 -660.83 
L 134.56 -662.24 
L 133.27 -663.72 
L 131.97 -665.28 
L 130.68 -666.91 
L 129.38 -668.63 
L 128.09 -670.43 
L 126.79 -672.34 
L 125.50 -674.35 
L 124.20 -676.47 
L 122.91 -678.71 
L 121.62 -681.09 
L 120.32 -683.61 
L 119.03 -686.28 
L 117.73 -689.13 
L 116.44 -692.17 
L 115.14 -695.40 
L 113.85 -698.86 
L 112.55 -702.57 
L 111.26 -706.55 
L 109.97 -710.83 
L 108.67 -715.45 
L 107.38 -720.43 
L 106.08 -725.85 
L 104.79 -731.77 
L 103.49 -738.29 
L 102.20 -745.51 
L 100.90 -753.61 
L 100.76 -754.55 
L 100.62 -755.51 
L 100.48 -756.47 
L 100.34 -757.43 
L 100.21 -758.40 
L 100.07 -759.38 
L 99.93 -760.36 
L 99.80 -761.35 
L 99.67 -762.34 
L 99.53 -763.34 
L 99.40 -764.35 
L 99.27 -765.36 
L 99.14 -766.38 
L 99.02 -767.40 
L 98.89 -768.43 
L 98.76 -769.47 
L 98.64 -770.51 
L 98.51 -771.56 
L 98.39 -772.62 
L 98.27 -773.68 
L 98.15 -774.75 
L 98.03 -775.83 
L 97.91 -776.91 
L 97.79 -778.00 
L 97.67 -779.10 
L 97.56 -780.20 
L 97.44 -781.32 
L 97.33 -782.44 
L 97.21 -783.56 
L 97.10 -784.70 
L 96.99 -785.84 
L 96.88 -786.99 
L 96.77 -788.15 
L 96.66 -789.32 
L 96.55 -790.49 
L 96.45 -791.67 
L 96.34 -792.86 
L 96.23 -794.06 
L 96.13 -795.27 
L 96.02 -796.48 
L 95.92 -797.71 
L 95.82 -798.94 
L 95.72 -800.19 
L 95.62 -801.44 
L 95.52 -802.70 
L 95.42 -803.97 
L 95.32 -805.25 
L 95.22 -806.54 
L 95.13 -807.83 
L 95.03 -809.14 
L 94.93 -810.46 
L 94.84 -811.79 
L 94.75 -813.13 
L 94.65 -814.47 
L 94.56 -815.83 
L 94.47 -817.20 
L 94.38 -818.58 
L 94.29 -819.97 
L 94.20 -821.37 
L 94.11 -822.79 
L 94.02 -824.21 
L 93.94 -825.64 
L 93.85 -827.09 
L 93.76 -828.55 
L 93.68 -830.02 
L 93.59 -831.50 
L 93.51 -833.00 
L 93.43 -834.50 
L 93.35 -836.02 
L 93.26 -837.55 
L 93.18 -839.10 
L 93.10 -840.65 
L 93.02 -842.22 
L 92.94 -843.81 
L 92.86 -845.40 
L 92.79 -847.01 
L 92.71 -848.64 
L 92.63 -850.28 
L 92.56 -851.93 
L 92.48 -853.59 
L 92.41 -855.28 
L 92.33 -856.97 
L 92.26 -858.68 
L 92.19 -860.41 
L 92.11 -862.15 
L 92.04 -863.90 
L 91.97 -865.68 
L 91.90 -867.47 
L 91.83 -869.27 
L 91.76 -871.09 
L 91.69 -872.93 
L 91.62 -874.78 
L 91.55 -876.65 
L 91.49 -878.54 
L 91.42 -880.45 
L 91.35 -882.37 
L 91.29 -884.31 
L 91.22 -886.27 
L 91.16 -888.25 
L 91.09 -890.24 
L 91.03 -892.26 
L 90.97 -894.30 
L 90.90 -896.35 
L 90.84 -898.42 
L 90.78 -900.52 
L 90.72 -902.63 
L 90.66 -904.77 
L 90.60 -906.93 
L 90.54 -909.10 
L 90.48 -911.30 
L 90.42 -913.52 
L 90.36 -915.77 
L 90.30 -918.03 
L 90.24 -920.32 
L 90.19 -922.64 
L 90.13 -924.97 
L 90.07 -927.33 
L 90.02 -929.71 
L 89.96 -932.12 
L 89.91 -934.56 
L 89.85 -937.01 
L 89.80 -939.50 
L 89.75 -942.01 
L 89.69 -944.55 
L 89.64 -947.11 
L 89.59 -949.70 
L 89.54 -952.32 
L 89.49 -954.97 
L 89.44 -957.64 
L 89.38 -960.34 
L 89.33 -963.08 
L 89.29 -965.84 
L 89.24 -968.63 
L 89.19 -971.46 
L 89.14 -974.31 
L 89.09 -977.20 
L 89.04 -980.12 
L 88.99 -983.07 
L 88.95 -986.05 
L 88.90 -989.07 
L 88.85 -992.12 
L 88.81 -995.20 
L 88.76 -998.32 
L 88.72 -1001.48 
L 88.67 -1004.67 
L 88.63 -1007.90 
L 88.58 -1011.17 
L 88.54 -1014.47 
L 88.50 -1017.82 
L 88.45 -1021.20 
L 88.41 -1024.62 
L 88.37 -1028.08 
L 88.33 -1031.58 
L 88.29 -1035.12 
L 88.24 -1038.71 
L 88.20 -1042.34 
L 88.16 -1046.01 
L 88.12 -1049.73 
L 88.08 -1053.49 
z
" style="stroke: #d62728; stroke-width: 3.55"/>
    </defs>
    <g clip-path="url(#pebcdcb35c1)">
     <use href="#mf6626dde45" x="0" y="969" style="fill: #d62728; stroke: #d62728; stroke-width: 3.55"/>
    </g>
   </g>
   <g id="matplotlib.axis_1">
    <g id="xtick_1">
     <g id="line2d_1">
      <path d="M 83.1 393.1 
L 83.1 11.5 
" clip-path="url(#pebcdcb35c1)" style="fill: none; stroke: #b0b0b0; stroke-opacity: 0.2; stroke-width: 1.89; stroke-linecap: square"/>
     </g>
     <g id="line2d_2">
      <defs>
       <path id="m22eff78cd5" d="M 0 0 
L 0 8.29 
" style="stroke: #000000; stroke-width: 1.89"/>
      </defs>
      <g>
       <use href="#m22eff78cd5" x="83.1" y="393.1" style="stroke: #000000; stroke-width: 1.89"/>
      </g>
     </g>
     <g id="text_1">
      <text style="font-size: 23.7px; font-family: 'DejaVu Sans', sans-serif; text-anchor: middle" x="83.1" y="427.69" transform="rotate(-0 83.1 427.69)">0</text>
     </g>
    </g>
    <g id="xtick_2">
     <g id="line2d_3">
      <path d="M 172.14 393.1 
L 172.14 11.5 
" clip-path="url(#pebcdcb35c1)" style="fill: none; stroke: #b0b0b0; stroke-opacity: 0.2; stroke-width: 1.89; stroke-linecap: square"/>
     </g>
     <g id="line2d_4">
      <g>
       <use href="#m22eff78cd5" x="172.14" y="393.1" style="stroke: #000000; stroke-width: 1.89"/>
      </g>
     </g>
     <g id="text_2">
      <text style="font-size: 23.7px; font-family: 'DejaVu Sans', sans-serif; text-anchor: middle" x="172.14" y="427.69" transform="rotate(-0 172.14 427.69)">5</text>
     </g>
    </g>
    <g id="xtick_3">
     <g id="line2d_5">
      <path d="M 261.19 393.1 
L 261.19 11.5 
" clip-path="url(#pebcdcb35c1)" style="fill: none; stroke: #b0b0b0; stroke-opacity: 0.2; stroke-width: 1.89; stroke-linecap: square"/>
     </g>
     <g id="line2d_6">
      <g>
       <use href="#m22eff78cd5" x="261.19" y="393.1" style="stroke: #000000; stroke-width: 1.89"/>
      </g>
     </g>
     <g id="text_3">
      <text style="font-size: 23.7px; font-family: 'DejaVu Sans', sans-serif; text-anchor: middle" x="261.19" y="427.69" transform="rotate(-0 261.19 427.69)">10</text>
     </g>
    </g>
    <g id="xtick_4">
     <g id="line2d_7">
      <path d="M 350.24 393.1 
L 350.24 11.5 
" clip-path="url(#pebcdcb35c1)" style="fill: none; stroke: #b0b0b0; stroke-opacity: 0.2; stroke-width: 1.89; stroke-linecap: square"/>
     </g>
     <g id="line2d_8">
      <g>
       <use href="#m22eff78cd5" x="350.24" y="393.1" style="stroke: #000000; stroke-width: 1.89"/>
      </g>
     </g>
     <g id="text_4">
      <text style="font-size: 23.7px; font-family: 'DejaVu Sans', sans-serif; text-anchor: middle" x="350.24" y="427.69" transform="rotate(-0 350.24 427.69)">15</text>
     </g>
    </g>
    <g id="xtick_5">
     <g id="line2d_9">
      <path d="M 439.29 393.1 
L 439.29 11.5 
" clip-path="url(#pebcdcb35c1)" style="fill: none; stroke: #b0b0b0; stroke-opacity: 0.2; stroke-width: 1.89; stroke-linecap: square"/>
     </g>
     <g id="line2d_10">
      <g>
       <use href="#m22eff78cd5" x="439.29" y="393.1" style="stroke: #000000; stroke-width: 1.89"/>
      </g>
     </g>
     <g id="text_5">
      <text style="font-size: 23.7px; font-family: 'DejaVu Sans', sans-serif; text-anchor: middle" x="439.29" y="427.69" transform="rotate(-0 439.29 427.69)">20</text>
     </g>
    </g>
    <g id="xtick_6">
     <g id="line2d_11">
      <path d="M 528.34 393.1 
L 528.34 11.5 
" clip-path="url(#pebcdcb35c1)" style="fill: none; stroke: #b0b0b0; stroke-opacity: 0.2; stroke-width: 1.89; stroke-linecap: square"/>
     </g>
     <g id="line2d_12">
      <g>
       <use href="#m22eff78cd5" x="528.34" y="393.1" style="stroke: #000000; stroke-width: 1.89"/>
      </g>
     </g>
     <g id="text_6">
      <text style="font-size: 23.7px; font-family: 'DejaVu Sans', sans-serif; text-anchor: middle" x="528.34" y="427.69" transform="rotate(-0 528.34 427.69)">25</text>
     </g>
    </g>
    <g id="xtick_7">
     <g id="line2d_13">
      <path d="M 617.39 393.1 
L 617.39 11.5 
" clip-path="url(#pebcdcb35c1)" style="fill: none; stroke: #b0b0b0; stroke-opacity: 0.2; stroke-width: 1.89; stroke-linecap: square"/>
     </g>
     <g id="line2d_14">
      <g>
       <use href="#m22eff78cd5" x="617.39" y="393.1" style="stroke: #000000; stroke-width: 1.89"/>
      </g>
     </g>
     <g id="text_7">
      <text style="font-size: 23.7px; font-family: 'DejaVu Sans', sans-serif; text-anchor: middle" x="617.39" y="427.69" transform="rotate(-0 617.39 427.69)">30</text>
     </g>
    </g>
    <g id="text_8">
     <text style="font-size: 23.7px; font-family: 'DejaVu Sans', sans-serif; text-anchor: middle" x="359.15" y="460.71" transform="rotate(-0 359.15 460.71)">Time (s)</text>
    </g>
   </g>
   <g id="matplotlib.axis_2">
    <g id="ytick_1">
     <g id="line2d_15">
      <path d="M 83.1 387.46 
L 635.2 387.46 
" clip-path="url(#pebcdcb35c1)" style="fill: none; stroke: #b0b0b0; stroke-opacity: 0.2; stroke-width: 1.89; stroke-linecap: square"/>
     </g>
     <g id="line2d_16">
      <defs>
       <path id="m0cf7b9e8b8" d="M 0 0 
L -8.29 0 
" style="stroke: #000000; stroke-width: 1.89"/>
      </defs>
      <g>
       <use href="#m0cf7b9e8b8" x="83.1" y="387.46" style="stroke: #000000; stroke-width: 1.89"/>
      </g>
     </g>
     <g id="text_9">
      <text style="font-size: 23.7px; font-family: 'DejaVu Sans', sans-serif; text-anchor: end" x="66.51" y="396.46" transform="rotate(-0 66.51 396.46)">0</text>
     </g>
    </g>
    <g id="ytick_2">
     <g id="line2d_17">
      <path d="M 83.1 293.47 
L 635.2 293.47 
" clip-path="url(#pebcdcb35c1)" style="fill: none; stroke: #b0b0b0; stroke-opacity: 0.2; stroke-width: 1.89; stroke-linecap: square"/>
     </g>
     <g id="line2d_18">
      <g>
       <use href="#m0cf7b9e8b8" x="83.1" y="293.47" style="stroke: #000000; stroke-width: 1.89"/>
      </g>
     </g>
     <g id="text_10">
      <text style="font-size: 23.7px; font-family: 'DejaVu Sans', sans-serif; text-anchor: end" x="66.51" y="302.47" transform="rotate(-0 66.51 302.47)">5</text>
     </g>
    </g>
    <g id="ytick_3">
     <g id="line2d_19">
      <path d="M 83.1 199.48 
L 635.2 199.48 
" clip-path="url(#pebcdcb35c1)" style="fill: none; stroke: #b0b0b0; stroke-opacity: 0.2; stroke-width: 1.89; stroke-linecap: square"/>
     </g>
     <g id="line2d_20">
      <g>
       <use href="#m0cf7b9e8b8" x="83.1" y="199.48" style="stroke: #000000; stroke-width: 1.89"/>
      </g>
     </g>
     <g id="text_11">
      <text style="font-size: 23.7px; font-family: 'DejaVu Sans', sans-serif; text-anchor: end" x="66.51" y="208.48" transform="rotate(-0 66.51 208.48)">10</text>
     </g>
    </g>
    <g id="ytick_4">
     <g id="line2d_21">
      <path d="M 83.1 105.49 
L 635.2 105.49 
" clip-path="url(#pebcdcb35c1)" style="fill: none; stroke: #b0b0b0; stroke-opacity: 0.2; stroke-width: 1.89; stroke-linecap: square"/>
     </g>
     <g id="line2d_22">
      <g>
       <use href="#m0cf7b9e8b8" x="83.1" y="105.49" style="stroke: #000000; stroke-width: 1.89"/>
      </g>
     </g>
     <g id="text_12">
      <text style="font-size: 23.7px; font-family: 'DejaVu Sans', sans-serif; text-anchor: end" x="66.51" y="114.49" transform="rotate(-0 66.51 114.49)">15</text>
     </g>
    </g>
    <g id="ytick_5">
     <g id="line2d_23">
      <path d="M 83.1 11.5 
L 635.2 11.5 
" clip-path="url(#pebcdcb35c1)" style="fill: none; stroke: #b0b0b0; stroke-opacity: 0.2; stroke-width: 1.89; stroke-linecap: square"/>
     </g>
     <g id="line2d_24">
      <g>
       <use href="#m0cf7b9e8b8" x="83.1" y="11.5" style="stroke: #000000; stroke-width: 1.89"/>
      </g>
     </g>
     <g id="text_13">
      <text style="font-size: 23.7px; font-family: 'DejaVu Sans', sans-serif; text-anchor: end" x="66.51" y="20.50" transform="rotate(-0 66.51 20.50)">20</text>
     </g>
    </g>
    <g id="text_14">
     <!-- Current ($\mu A$) -->
     <g transform="translate(20.89 276.00) rotate(-90)">
      <text>
       <tspan x="0" y="-0.78" style="font-size: 23.7px; font-family: 'DejaVu Sans', sans-serif">C</tspan>
       <tspan x="16.58" y="-0.78" style="font-size: 23.7px; font-family: 'DejaVu Sans', sans-serif">u</tspan>
       <tspan x="31.63" y="-0.78" style="font-size: 23.7px; font-family: 'DejaVu Sans', sans-serif">r</tspan>
       <tspan x="41.40" y="-0.78" style="font-size: 23.7px; font-family: 'DejaVu Sans', sans-serif">r</tspan>
       <tspan x="51.16" y="-0.78" style="font-size: 23.7px; font-family: 'DejaVu Sans', sans-serif">e</tspan>
       <tspan x="65.77" y="-0.78" style="font-size: 23.7px; font-family: 'DejaVu Sans', sans-serif">n</tspan>
       <tspan x="80.82" y="-0.78" style="font-size: 23.7px; font-family: 'DejaVu Sans', sans-serif">t</tspan>
       <tspan x="90.14" y="-0.78" style="font-size: 23.7px; font-family: 'DejaVu Sans', sans-serif"> </tspan>
       <tspan x="97.69" y="-0.78" style="font-size: 23.7px; font-family: 'DejaVu Sans', sans-serif">(</tspan>
       <tspan x="138.31" y="-0.78" style="font-size: 23.7px; font-family: 'DejaVu Sans', sans-serif">)</tspan>
       <tspan x="106.95" y="-0.78" style="font-style: oblique; font-size: 23.7px; font-family: 'DejaVu Sans', sans-serif">μ</tspan>
       <tspan x="122.06" y="-0.78" style="font-style: oblique; font-size: 23.7px; font-family: 'DejaVu Sans', sans-serif">A</tspan>
      </text>
     </g>
    </g>
   </g>
   <g id="line2d_25">
    <path d="M 83.15 282.19 
L 83.33 302.14 
L 83.63 312.25 
L 83.92 316.42 
L 84.53 324.22 
L 84.69 331.39 
L 85.31 365.31 
L 85.66 373.33 
L 85.96 375.87 
L 86.54 377.54 
L 87.08 378.52 
L 87.70 379.27 
L 88.63 380.01 
L 89.98 380.77 
L 92.67 381.98 
L 94.58 382.62 
L 97.40 383.32 
L 100.90 383.98 
L 108.67 385.14 
L 115.14 385.96 
L 120.32 386.41 
L 125.50 386.66 
L 135.85 386.84 
L 160.45 387.03 
L 221.29 387.21 
L 371.44 387.36 
L 617.39 387.46 
L 617.39 387.46 
" clip-path="url(#pebcdcb35c1)" style="fill: none; stroke: #1f77b4; stroke-width: 3.55; stroke-linecap: round"/>
   </g>
   <g id="line2d_26">
    <path d="M 83.15 161.88 
L 83.17 162.27 
L 83.30 172.02 
L 83.81 204.48 
L 84.38 227.41 
L 85.08 246.90 
L 85.31 254.23 
L 86.07 313.84 
L 86.54 326.15 
L 87.08 335.08 
L 87.70 342.33 
L 88.43 348.22 
L 89.27 353.12 
L 90.24 357.35 
L 91.36 361.13 
L 92.67 364.63 
L 93.77 367.03 
L 95.01 369.21 
L 96.39 371.15 
L 97.93 372.85 
L 99.65 374.35 
L 100.90 375.28 
L 103.49 376.84 
L 106.08 378.06 
L 108.67 379.03 
L 111.26 379.81 
L 115.14 380.73 
L 120.32 381.69 
L 125.50 382.43 
L 131.97 383.13 
L 139.74 383.74 
L 150.09 384.30 
L 164.33 384.84 
L 183.75 385.33 
L 213.52 385.85 
L 243.29 386.14 
L 296.36 386.37 
L 450.40 386.73 
L 617.39 387.08 
L 617.39 387.08 
" clip-path="url(#pebcdcb35c1)" style="fill: none; stroke: #ff7f0e; stroke-width: 3.55; stroke-linecap: round"/>
   </g>
   <g id="line2d_27">
    <path d="M 84.46 -1 
L 85.01 74.03 
L 85.66 135.91 
L 86.41 186.37 
L 87.23 225.66 
L 87.88 248.64 
L 88.63 268.03 
L 89.27 280.04 
L 89.98 290.15 
L 90.78 298.85 
L 91.67 306.49 
L 92.67 313.34 
L 93.77 319.52 
L 95.01 325.12 
L 96.39 330.18 
L 97.93 334.76 
L 99.65 338.92 
L 100.90 341.48 
L 102.20 343.78 
L 103.49 345.81 
L 106.08 349.22 
L 108.67 351.98 
L 111.26 354.27 
L 113.85 356.20 
L 116.44 357.85 
L 119.03 359.27 
L 122.91 361.09 
L 126.79 362.61 
L 130.68 363.90 
L 135.85 365.34 
L 141.03 366.54 
L 147.50 367.79 
L 153.98 368.82 
L 161.74 369.84 
L 170.80 370.80 
L 181.16 371.67 
L 192.81 372.42 
L 207.05 373.12 
L 223.88 373.71 
L 243.29 374.17 
L 266.59 374.49 
L 295.07 374.66 
L 330.02 374.63 
L 371.44 374.36 
L 421.93 373.80 
L 482.76 372.89 
L 553.96 371.59 
L 617.39 370.28 
L 617.39 370.28 
" clip-path="url(#pebcdcb35c1)" style="fill: none; stroke: #2ca02c; stroke-width: 3.55; stroke-linecap: round"/>
   </g>
   <g id="line2d_28">
    <path d="M 89.17 -1 
L 89.96 39.31 
L 90.84 73.01 
L 91.76 100.34 
L 92.79 124.42 
L 93.85 144.34 
L 95.03 162.29 
L 96.23 177.37 
L 97.56 191.23 
L 99.02 204.03 
L 100.48 214.97 
L 100.90 217.83 
L 102.20 225.92 
L 103.49 233.15 
L 104.79 239.66 
L 107.38 251.00 
L 109.97 260.60 
L 112.55 268.86 
L 115.14 276.03 
L 117.73 282.30 
L 120.32 287.83 
L 122.91 292.72 
L 125.50 297.09 
L 128.09 301.00 
L 130.68 304.52 
L 133.27 307.71 
L 135.85 310.61 
L 138.44 313.25 
L 141.03 315.66 
L 144.92 318.92 
L 148.80 321.79 
L 152.68 324.35 
L 156.57 326.64 
L 160.45 328.70 
L 165.63 331.14 
L 170.80 333.29 
L 175.98 335.21 
L 182.45 337.32 
L 188.93 339.18 
L 195.40 340.82 
L 203.17 342.56 
L 212.23 344.33 
L 221.29 345.87 
L 231.64 347.40 
L 243.29 348.88 
L 256.24 350.29 
L 270.48 351.62 
L 287.30 352.95 
L 305.43 354.16 
L 326.14 355.31 
L 349.44 356.38 
L 376.62 357.40 
L 407.69 358.34 
L 443.93 359.21 
L 486.65 360.01 
L 537.13 360.71 
L 596.67 361.32 
L 617.39 361.48 
L 617.39 361.48 
" clip-path="url(#pebcdcb35c1)" style="fill: none; stroke: #d62728; stroke-width: 3.55; stroke-linecap: round"/>
   </g>
   <g id="patch_3">
    <path d="M 83.1 393.1 
L 83.1 11.5 
" style="fill: none; stroke: #000000; stroke-width: 1.89; stroke-linejoin: miter; stroke-linecap: square"/>
   </g>
   <g id="patch_4">
    <path d="M 635.2 393.1 
L 635.2 11.5 
" style="fill: none; stroke: #000000; stroke-width: 1.89; stroke-linejoin: miter; stroke-linecap: square"/>
   </g>
   <g id="patch_5">
    <path d="M 83.1 393.1 
L 635.2 393.1 
" style="fill: none; stroke: #000000; stroke-width: 1.89; stroke-linejoin: miter; stroke-linecap: square"/>
   </g>
   <g id="patch_6">
    <path d="M 83.1 11.5 
L 635.2 11.5 
" style="fill: none; stroke: #000000; stroke-width: 1.89; stroke-linejoin: miter; stroke-linecap: square"/>
   </g>
   <g id="text_15">
    <text style="font-size: 33.18px; font-family: 'DejaVu Sans', sans-serif; text-anchor: start" x="99.66" y="49.57" transform="rotate(-0 99.66 49.57)">A</text>
   </g>
   <g id="legend_1">
    <g id="patch_7">
     <path d="M 431.38 173.73 
L 618.61 173.73 
Q 623.35 173.73 623.35 168.99 
L 623.35 28.09 
Q 623.35 23.35 618.61 23.35 
L 431.38 23.35 
Q 426.64 23.35 426.64 28.09 
L 426.64 168.99 
Q 426.64 173.73 431.38 173.73 
z
" style="fill: #ffffff; opacity: 0.8; stroke: #cccccc; stroke-width: 2.37; stroke-linejoin: miter"/>
    </g>
    <g id="line2d_29">
     <path d="M 436.59 43.01 
L 460.29 43.01 
L 483.99 43.01 
" style="fill: none; stroke: #1f77b4; stroke-width: 3.55; stroke-linecap: round"/>
    </g>
    <g id="text_16">
     <!-- 19.6 $\mu M$ -->
     <g transform="translate(502.95 51.31)">
      <text>
       <tspan x="0" y="-0.18" style="font-size: 23.7px; font-family: 'DejaVu Sans', sans-serif">1</tspan>
       <tspan x="15.11" y="-0.18" style="font-size: 23.7px; font-family: 'DejaVu Sans', sans-serif">9</tspan>
       <tspan x="30.22" y="-0.18" style="font-size: 23.7px; font-family: 'DejaVu Sans', sans-serif">.</tspan>
       <tspan x="37.77" y="-0.18" style="font-size: 23.7px; font-family: 'DejaVu Sans', sans-serif">6</tspan>
       <tspan x="52.88" y="-0.18" style="font-size: 23.7px; font-family: 'DejaVu Sans', sans-serif"> </tspan>
       <tspan x="60.43" y="-0.18" style="font-style: oblique; font-size: 23.7px; font-family: 'DejaVu Sans', sans-serif">μ</tspan>
       <tspan x="75.54" y="-0.18" style="font-style: oblique; font-size: 23.7px; font-family: 'DejaVu Sans', sans-serif">M</tspan>
      </text>
     </g>
    </g>
    <g id="line2d_30">
     <path d="M 436.59 78.84 
L 460.29 78.84 
L 483.99 78.84 
" style="fill: none; stroke: #ff7f0e; stroke-width: 3.55; stroke-linecap: round"/>
    </g>
    <g id="text_17">
     <!-- 50.1 $\mu M$ -->
     <g transform="translate(502.95 87.14)">
      <text>
       <tspan x="0" y="-0.18" style="font-size: 23.7px; font-family: 'DejaVu Sans', sans-serif">5</tspan>
       <tspan x="15.11" y="-0.18" style="font-size: 23.7px; font-family: 'DejaVu Sans', sans-serif">0</tspan>
       <tspan x="30.22" y="-0.18" style="font-size: 23.7px; font-family: 'DejaVu Sans', sans-serif">.</tspan>
       <tspan x="37.77" y="-0.18" style="font-size: 23.7px; font-family: 'DejaVu Sans', sans-serif">1</tspan>
       <tspan x="52.88" y="-0.18" style="font-size: 23.7px; font-family: 'DejaVu Sans', sans-serif"> </tspan>
       <tspan x="60.43" y="-0.18" style="font-style: oblique; font-size: 23.7px; font-family: 'DejaVu Sans', sans-serif">μ</tspan>
       <tspan x="75.54" y="-0.18" style="font-style: oblique; font-size: 23.7px; font-family: 'DejaVu Sans', sans-serif">M</tspan>
      </text>
     </g>
    </g>
    <g id="line2d_31">
     <path d="M 436.59 114.67 
L 460.29 114.67 
L 483.99 114.67 
" style="fill: none; stroke: #2ca02c; stroke-width: 3.55; stroke-linecap: round"/>
    </g>
    <g id="text_18">
     <!-- 60.0 $\mu M$ -->
     <g transform="translate(502.95 122.97)">
      <text>
       <tspan x="0" y="-0.18" style="font-size: 23.7px; font-family: 'DejaVu Sans', sans-serif">6</tspan>
       <tspan x="15.11" y="-0.18" style="font-size: 23.7px; font-family: 'DejaVu Sans', sans-serif">0</tspan>
       <tspan x="30.22" y="-0.18" style="font-size: 23.7px; font-family: 'DejaVu Sans', sans-serif">.</tspan>
       <tspan x="37.77" y="-0.18" style="font-size: 23.7px; font-family: 'DejaVu Sans', sans-serif">0</tspan>
       <tspan x="52.88" y="-0.18" style="font-size: 23.7px; font-family: 'DejaVu Sans', sans-serif"> </tspan>
       <tspan x="60.43" y="-0.18" style="font-style: oblique; font-size: 23.7px; font-family: 'DejaVu Sans', sans-serif">μ</tspan>
       <tspan x="75.54" y="-0.18" style="font-style: oblique; font-size: 23.7px; font-family: 'DejaVu Sans', sans-serif">M</tspan>
      </text>
     </g>
    </g>
    <g id="line2d_32">
     <path d="M 436.59 150.50 
L 460.29 150.50 
L 483.99 150.50 
" style="fill: none; stroke: #d62728; stroke-width: 3.55; stroke-linecap: round"/>
    </g>
    <g id="text_19">
     <!-- 122.8 $\mu M$ -->
     <g transform="translate(502.95 158.80)">
      <text>
       <tspan x="0" y="-0.18" style="font-size: 23.7px; font-family: 'DejaVu Sans', sans-serif">1</tspan>
       <tspan x="15.11" y="-0.18" style="font-size: 23.7px; font-family: 'DejaVu Sans', sans-serif">2</tspan>
       <tspan x="30.22" y="-0.18" style="font-size: 23.7px; font-family: 'DejaVu Sans', sans-serif">2</tspan>
       <tspan x="45.33" y="-0.18" style="font-size: 23.7px; font-family: 'DejaVu Sans', sans-serif">.</tspan>
       <tspan x="52.25" y="-0.18" style="font-size: 23.7px; font-family: 'DejaVu Sans', sans-serif">8</tspan>
       <tspan x="67.36" y="-0.18" style="font-size: 23.7px; font-family: 'DejaVu Sans', sans-serif"> </tspan>
       <tspan x="74.91" y="-0.18" style="font-style: oblique; font-size: 23.7px; font-family: 'DejaVu Sans', sans-serif">μ</tspan>
       <tspan x="90.02" y="-0.18" style="font-style: oblique; font-size: 23.7px; font-family: 'DejaVu Sans', sans-serif">M</tspan>
      </text>
     </g>
    </g>
   </g>
  </g>
  <g id="axes_2">
   <g id="patch_8">
    <path d="M 764 393.1 
L 1316 393.1 
L 1316 11.5 
L 764 11.5 
z
" style="fill: #ffffff"/>
   </g>
   <g id="matplotlib.axis_3">
    <g id="xtick_8">
     <g id="line2d_33">
      <path d="M 829.17 393.1 
L 829.17 11.5 
" clip-path="url(#pad39da8d33)" style="fill: none; stroke: #b0b0b0; stroke-opacity: 0.2; stroke-width: 1.89; stroke-linecap: square"/>
     </g>
     <g id="line2d_34">
      <g>
       <use href="#m22eff78cd5" x="829.17" y="393.1" style="stroke: #000000; stroke-width: 1.89"/>
      </g>
     </g>
     <g id="text_20">
      <text style="font-size: 23.7px; font-family: 'DejaVu Sans', sans-serif; text-anchor: middle" x="829.17" y="427.69" transform="rotate(-0 829.17 427.69)">2</text>
     </g>
    </g>
    <g id="xtick_9">
     <g id="line2d_35">
      <path d="M 913.76 393.1 
L 913.76 11.5 
" clip-path="url(#pad39da8d33)" style="fill: none; stroke: #b0b0b0; stroke-opacity: 0.2; stroke-width: 1.89; stroke-linecap: square"/>
     </g>
     <g id="line2d_36">
      <g>
       <use href="#m22eff78cd5" x="913.76" y="393.1" style="stroke: #000000; stroke-width: 1.89"/>
      </g>
     </g>
     <g id="text_21">
      <text style="font-size: 23.7px; font-family: 'DejaVu Sans', sans-serif; text-anchor: middle" x="913.76" y="427.69" transform="rotate(-0 913.76 427.69)">4</text>
     </g>
    </g>
    <g id="xtick_10">
     <g id="line2d_37">
      <path d="M 998.35 393.1 
L 998.35 11.5 
" clip-path="url(#pad39da8d33)" style="fill: none; stroke: #b0b0b0; stroke-opacity: 0.2; stroke-width: 1.89; stroke-linecap: square"/>
     </g>
     <g id="line2d_38">
      <g>
       <use href="#m22eff78cd5" x="998.35" y="393.1" style="stroke: #000000; stroke-width: 1.89"/>
      </g>
     </g>
     <g id="text_22">
      <text style="font-size: 23.7px; font-family: 'DejaVu Sans', sans-serif; text-anchor: middle" x="998.35" y="427.69" transform="rotate(-0 998.35 427.69)">6</text>
     </g>
    </g>
    <g id="xtick_11">
     <g id="line2d_39">
      <path d="M 1082.95 393.1 
L 1082.95 11.5 
" clip-path="url(#pad39da8d33)" style="fill: none; stroke: #b0b0b0; stroke-opacity: 0.2; stroke-width: 1.89; stroke-linecap: square"/>
     </g>
     <g id="line2d_40">
      <g>
       <use href="#m22eff78cd5" x="1082.95" y="393.1" style="stroke: #000000; stroke-width: 1.89"/>
      </g>
     </g>
     <g id="text_23">
      <text style="font-size: 23.7px; font-family: 'DejaVu Sans', sans-serif; text-anchor: middle" x="1082.95" y="427.69" transform="rotate(-0 1082.95 427.69)">8</text>
     </g>
    </g>
    <g id="xtick_12">
     <g id="line2d_41">
      <path d="M 1167.54 393.1 
L 1167.54 11.5 
" clip-path="url(#pad39da8d33)" style="fill: none; stroke: #b0b0b0; stroke-opacity: 0.2; stroke-width: 1.89; stroke-linecap: square"/>
     </g>
     <g id="line2d_42">
      <g>
       <use href="#m22eff78cd5" x="1167.54" y="393.1" style="stroke: #000000; stroke-width: 1.89"/>
      </g>
     </g>
     <g id="text_24">
      <text style="font-size: 23.7px; font-family: 'DejaVu Sans', sans-serif; text-anchor: middle" x="1167.54" y="427.69" transform="rotate(-0 1167.54 427.69)">10</text>
     </g>
    </g>
    <g id="xtick_13">
     <g id="line2d_43">
      <path d="M 1252.13 393.1 
L 1252.13 11.5 
" clip-path="url(#pad39da8d33)" style="fill: none; stroke: #b0b0b0; stroke-opacity: 0.2; stroke-width: 1.89; stroke-linecap: square"/>
     </g>
     <g id="line2d_44">
      <g>
       <use href="#m22eff78cd5" x="1252.13" y="393.1" style="stroke: #000000; stroke-width: 1.89"/>
      </g>
     </g>
     <g id="text_25">
      <text style="font-size: 23.7px; font-family: 'DejaVu Sans', sans-serif; text-anchor: middle" x="1252.13" y="427.69" transform="rotate(-0 1252.13 427.69)">12</text>
     </g>
    </g>
    <g id="text_26">
     <!-- (Time (s))$^{1/2}$ -->
     <g transform="translate(968.66 462.96)">
      <text>
       <tspan x="0" y="-0.34" style="font-size: 23.7px; font-family: 'DejaVu Sans', sans-serif">(</tspan>
       <tspan x="9.26" y="-0.34" style="font-size: 23.7px; font-family: 'DejaVu Sans', sans-serif">T</tspan>
       <tspan x="23.77" y="-0.34" style="font-size: 23.7px; font-family: 'DejaVu Sans', sans-serif">i</tspan>
       <tspan x="30.37" y="-0.34" style="font-size: 23.7px; font-family: 'DejaVu Sans', sans-serif">m</tspan>
       <tspan x="53.50" y="-0.34" style="font-size: 23.7px; font-family: 'DejaVu Sans', sans-serif">e</tspan>
       <tspan x="68.11" y="-0.34" style="font-size: 23.7px; font-family: 'DejaVu Sans', sans-serif"> </tspan>
       <tspan x="75.66" y="-0.34" style="font-size: 23.7px; font-family: 'DejaVu Sans', sans-serif">(</tspan>
       <tspan x="84.93" y="-0.34" style="font-size: 23.7px; font-family: 'DejaVu Sans', sans-serif">s</tspan>
       <tspan x="97.30" y="-0.34" style="font-size: 23.7px; font-family: 'DejaVu Sans', sans-serif">)</tspan>
       <tspan x="106.57" y="-0.34" style="font-size: 23.7px; font-family: 'DejaVu Sans', sans-serif">)</tspan>
       <tspan x="116.06" y="-9.53" style="font-size: 16.59px; font-family: 'DejaVu Sans', sans-serif">1</tspan>
       <tspan x="126.64" y="-9.53" style="font-size: 16.59px; font-family: 'DejaVu Sans', sans-serif">/</tspan>
       <tspan x="131.63" y="-9.53" style="font-size: 16.59px; font-family: 'DejaVu Sans', sans-serif">2</tspan>
      </text>
     </g>
    </g>
   </g>
   <g id="matplotlib.axis_4">
    <g id="ytick_6">
     <g id="line2d_45">
      <path d="M 764 376.09 
L 1316 376.09 
" clip-path="url(#pad39da8d33)" style="fill: none; stroke: #b0b0b0; stroke-opacity: 0.2; stroke-width: 1.89; stroke-linecap: square"/>
     </g>
     <g id="line2d_46">
      <g>
       <use href="#m0cf7b9e8b8" x="764" y="376.09" style="stroke: #000000; stroke-width: 1.89"/>
      </g>
     </g>
     <g id="text_27">
      <text style="font-size: 23.7px; font-family: 'DejaVu Sans', sans-serif; text-anchor: end" x="747.41" y="385.09" transform="rotate(-0 747.41 385.09)">0</text>
     </g>
    </g>
    <g id="ytick_7">
     <g id="line2d_47">
      <path d="M 764 303.40 
L 1316 303.40 
" clip-path="url(#pad39da8d33)" style="fill: none; stroke: #b0b0b0; stroke-opacity: 0.2; stroke-width: 1.89; stroke-linecap: square"/>
     </g>
     <g id="line2d_48">
      <g>
       <use href="#m0cf7b9e8b8" x="764" y="303.40" style="stroke: #000000; stroke-width: 1.89"/>
      </g>
     </g>
     <g id="text_28">
      <text style="font-size: 23.7px; font-family: 'DejaVu Sans', sans-serif; text-anchor: end" x="747.41" y="312.40" transform="rotate(-0 747.41 312.40)">50</text>
     </g>
    </g>
    <g id="ytick_8">
     <g id="line2d_49">
      <path d="M 764 230.72 
L 1316 230.72 
" clip-path="url(#pad39da8d33)" style="fill: none; stroke: #b0b0b0; stroke-opacity: 0.2; stroke-width: 1.89; stroke-linecap: square"/>
     </g>
     <g id="line2d_50">
      <g>
       <use href="#m0cf7b9e8b8" x="764" y="230.72" style="stroke: #000000; stroke-width: 1.89"/>
      </g>
     </g>
     <g id="text_29">
      <text style="font-size: 23.7px; font-family: 'DejaVu Sans', sans-serif; text-anchor: end" x="747.41" y="239.72" transform="rotate(-0 747.41 239.72)">100</text>
     </g>
    </g>
    <g id="ytick_9">
     <g id="line2d_51">
      <path d="M 764 158.03 
L 1316 158.03 
" clip-path="url(#pad39da8d33)" style="fill: none; stroke: #b0b0b0; stroke-opacity: 0.2; stroke-width: 1.89; stroke-linecap: square"/>
     </g>
     <g id="line2d_52">
      <g>
       <use href="#m0cf7b9e8b8" x="764" y="158.03" style="stroke: #000000; stroke-width: 1.89"/>
      </g>
     </g>
     <g id="text_30">
      <text style="font-size: 23.7px; font-family: 'DejaVu Sans', sans-serif; text-anchor: end" x="747.41" y="167.03" transform="rotate(-0 747.41 167.03)">150</text>
     </g>
    </g>
    <g id="ytick_10">
     <g id="line2d_53">
      <path d="M 764 85.34 
L 1316 85.34 
" clip-path="url(#pad39da8d33)" style="fill: none; stroke: #b0b0b0; stroke-opacity: 0.2; stroke-width: 1.89; stroke-linecap: square"/>
     </g>
     <g id="line2d_54">
      <g>
       <use href="#m0cf7b9e8b8" x="764" y="85.34" style="stroke: #000000; stroke-width: 1.89"/>
      </g>
     </g>
     <g id="text_31">
      <text style="font-size: 23.7px; font-family: 'DejaVu Sans', sans-serif; text-anchor: end" x="747.41" y="94.35" transform="rotate(-0 747.41 94.35)">200</text>
     </g>
    </g>
    <g id="ytick_11">
     <g id="line2d_55">
      <path d="M 764 12.66 
L 1316 12.66 
" clip-path="url(#pad39da8d33)" style="fill: none; stroke: #b0b0b0; stroke-opacity: 0.2; stroke-width: 1.89; stroke-linecap: square"/>
     </g>
     <g id="line2d_56">
      <g>
       <use href="#m0cf7b9e8b8" x="764" y="12.66" style="stroke: #000000; stroke-width: 1.89"/>
      </g>
     </g>
     <g id="text_32">
      <text style="font-size: 23.7px; font-family: 'DejaVu Sans', sans-serif; text-anchor: end" x="747.41" y="21.66" transform="rotate(-0 747.41 21.66)">250</text>
     </g>
    </g>
    <g id="text_33">
     <!-- Current ($\mu A$) -->
     <g transform="translate(686.71 276.00) rotate(-90)">
      <text>
       <tspan x="0" y="-0.78" style="font-size: 23.7px; font-family: 'DejaVu Sans', sans-serif">C</tspan>
       <tspan x="16.58" y="-0.78" style="font-size: 23.7px; font-family: 'DejaVu Sans', sans-serif">u</tspan>
       <tspan x="31.63" y="-0.78" style="font-size: 23.7px; font-family: 'DejaVu Sans', sans-serif">r</tspan>
       <tspan x="41.40" y="-0.78" style="font-size: 23.7px; font-family: 'DejaVu Sans', sans-serif">r</tspan>
       <tspan x="51.16" y="-0.78" style="font-size: 23.7px; font-family: 'DejaVu Sans', sans-serif">e</tspan>
       <tspan x="65.77" y="-0.78" style="font-size: 23.7px; font-family: 'DejaVu Sans', sans-serif">n</tspan>
       <tspan x="80.82" y="-0.78" style="font-size: 23.7px; font-family: 'DejaVu Sans', sans-serif">t</tspan>
       <tspan x="90.14" y="-0.78" style="font-size: 23.7px; font-family: 'DejaVu Sans', sans-serif"> </tspan>
       <tspan x="97.69" y="-0.78" style="font-size: 23.7px; font-family: 'DejaVu Sans', sans-serif">(</tspan>
       <tspan x="138.31" y="-0.78" style="font-size: 23.7px; font-family: 'DejaVu Sans', sans-serif">)</tspan>
       <tspan x="106.95" y="-0.78" style="font-style: oblique; font-size: 23.7px; font-family: 'DejaVu Sans', sans-serif">μ</tspan>
       <tspan x="122.06" y="-0.78" style="font-style: oblique; font-size: 23.7px; font-family: 'DejaVu Sans', sans-serif">A</tspan>
      </text>
     </g>
    </g>
   </g>
   <g id="line2d_57">
    <path d="M 788.78 375.64 
L 899.46 373.33 
L 976.60 371.49 
L 1042.00 369.72 
L 1100.70 367.90 
L 1154.36 366.03 
L 1204.67 364.04 
L 1253.30 361.90 
L 1290.19 360.12 
L 1290.19 360.12 
" clip-path="url(#pad39da8d33)" style="fill: none; stroke: #1f77b4; stroke-width: 3.55; stroke-linecap: square"/>
   </g>
   <g id="line2d_58">
    <path d="M 788.78 374.44 
L 815.61 372.68 
L 844.12 370.57 
L 872.63 368.24 
L 901.14 365.67 
L 929.65 362.88 
L 958.15 359.86 
L 986.66 356.63 
L 1016.85 352.98 
L 1047.03 349.10 
L 1077.22 344.98 
L 1107.40 340.65 
L 1137.59 336.09 
L 1169.45 331.05 
L 1201.32 325.78 
L 1233.18 320.28 
L 1265.04 314.55 
L 1290.19 309.89 
L 1290.19 309.89 
" clip-path="url(#pad39da8d33)" style="fill: none; stroke: #ff7f0e; stroke-width: 3.55; stroke-linecap: square"/>
   </g>
   <g id="line2d_59">
    <path d="M 788.78 370.71 
L 810.58 367.19 
L 832.38 363.45 
L 854.18 359.50 
L 877.66 355.01 
L 901.14 350.28 
L 924.61 345.32 
L 948.09 340.14 
L 971.57 334.74 
L 996.72 328.71 
L 1021.88 322.45 
L 1047.03 315.96 
L 1072.19 309.24 
L 1099.02 301.84 
L 1125.85 294.20 
L 1152.68 286.33 
L 1181.19 277.73 
L 1209.70 268.89 
L 1238.21 259.82 
L 1268.39 249.98 
L 1290.19 242.74 
L 1290.19 242.74 
" clip-path="url(#pad39da8d33)" style="fill: none; stroke: #2ca02c; stroke-width: 3.55; stroke-linecap: square"/>
   </g>
   <g id="line2d_60">
    <path d="M 788.78 359.74 
L 844.12 331.00 
L 875.98 314.22 
L 902.81 299.84 
L 927.97 286.11 
L 949.77 273.96 
L 971.57 261.55 
L 991.69 249.84 
L 1010.14 238.85 
L 1028.59 227.61 
L 1047.03 216.09 
L 1063.80 205.37 
L 1080.57 194.38 
L 1097.34 183.11 
L 1114.11 171.55 
L 1129.21 160.89 
L 1144.30 149.96 
L 1159.39 138.76 
L 1174.48 127.28 
L 1189.58 115.50 
L 1204.67 103.42 
L 1218.08 92.41 
L 1231.50 81.14 
L 1244.92 69.61 
L 1258.33 57.80 
L 1271.75 45.70 
L 1285.16 33.32 
L 1290.19 28.60 
L 1290.19 28.60 
" clip-path="url(#pad39da8d33)" style="fill: none; stroke: #d62728; stroke-width: 3.55; stroke-linecap: square"/>
   </g>
   <g id="patch_9">
    <path d="M 764 393.1 
L 764 11.5 
" style="fill: none; stroke: #000000; stroke-width: 1.89; stroke-linejoin: miter; stroke-linecap: square"/>
   </g>
   <g id="patch_10">
    <path d="M 1316 393.1 
L 1316 11.5 
" style="fill: none; stroke: #000000; stroke-width: 1.89; stroke-linejoin: miter; stroke-linecap: square"/>
   </g>
   <g id="patch_11">
    <path d="M 764 393.1 
L 1316 393.1 
" style="fill: none; stroke: #000000; stroke-width: 1.89; stroke-linejoin: miter; stroke-linecap: square"/>
   </g>
   <g id="patch_12">
    <path d="M 764 11.5 
L 1316 11.5 
" style="fill: none; stroke: #000000; stroke-width: 1.89; stroke-linejoin: miter; stroke-linecap: square"/>
   </g>
   <g id="text_34">
    <text style="font-size: 33.18px; font-family: 'DejaVu Sans', sans-serif; text-anchor: start" x="779.78" y="49.57" transform="rotate(-0 779.78 49.57)">B</text>
   </g>
   <g id="legend_2">
    <g id="patch_13">
     <path d="M 777.29 266.51 
L 936.44 266.51 
Q 940.47 266.51 940.47 262.48 
L 940.47 142.11 
Q 940.47 138.08 936.44 138.08 
L 777.29 138.08 
Q 773.26 138.08 773.26 142.11 
L 773.26 262.48 
Q 773.26 266.51 777.29 266.51 
z
" style="fill: #ffffff; opacity: 0.8; stroke: #cccccc; stroke-width: 2.37; stroke-linejoin: miter"/>
    </g>
    <g id="line2d_61">
     <path d="M 781.72 154.80 
L 801.87 154.80 
L 822.01 154.80 
" style="fill: none; stroke: #1f77b4; stroke-width: 3.55; stroke-linecap: square"/>
    </g>
    <g id="text_35">
     <!-- 19.6 $\mu M$ -->
     <g transform="translate(838.13 161.85)">
      <text>
       <tspan x="0" y="-0.15" style="font-size: 20.14px; font-family: 'DejaVu Sans', sans-serif">1</tspan>
       <tspan x="12.80" y="-0.15" style="font-size: 20.14px; font-family: 'DejaVu Sans', sans-serif">9</tspan>
       <tspan x="25.60" y="-0.15" style="font-size: 20.14px; font-family: 'DejaVu Sans', sans-serif">.</tspan>
       <tspan x="32.00" y="-0.15" style="font-size: 20.14px; font-family: 'DejaVu Sans', sans-serif">6</tspan>
       <tspan x="44.80" y="-0.15" style="font-size: 20.14px; font-family: 'DejaVu Sans', sans-serif"> </tspan>
       <tspan x="51.20" y="-0.15" style="font-style: oblique; font-size: 20.14px; font-family: 'DejaVu Sans', sans-serif">μ</tspan>
       <tspan x="64.01" y="-0.15" style="font-style: oblique; font-size: 20.14px; font-family: 'DejaVu Sans', sans-serif">M</tspan>
      </text>
     </g>
    </g>
    <g id="line2d_62">
     <path d="M 781.72 185.45 
L 801.87 185.45 
L 822.01 185.45 
" style="fill: none; stroke: #ff7f0e; stroke-width: 3.55; stroke-linecap: square"/>
    </g>
    <g id="text_36">
     <!-- 50.1 $\mu M$ -->
     <g transform="translate(838.13 192.50)">
      <text>
       <tspan x="0" y="-0.15" style="font-size: 20.14px; font-family: 'DejaVu Sans', sans-serif">5</tspan>
       <tspan x="12.80" y="-0.15" style="font-size: 20.14px; font-family: 'DejaVu Sans', sans-serif">0</tspan>
       <tspan x="25.60" y="-0.15" style="font-size: 20.14px; font-family: 'DejaVu Sans', sans-serif">.</tspan>
       <tspan x="32.00" y="-0.15" style="font-size: 20.14px; font-family: 'DejaVu Sans', sans-serif">1</tspan>
       <tspan x="44.80" y="-0.15" style="font-size: 20.14px; font-family: 'DejaVu Sans', sans-serif"> </tspan>
       <tspan x="51.20" y="-0.15" style="font-style: oblique; font-size: 20.14px; font-family: 'DejaVu Sans', sans-serif">μ</tspan>
       <tspan x="64.01" y="-0.15" style="font-style: oblique; font-size: 20.14px; font-family: 'DejaVu Sans', sans-serif">M</tspan>
      </text>
     </g>
    </g>
    <g id="line2d_63">
     <path d="M 781.72 216.11 
L 801.87 216.11 
L 822.01 216.11 
" style="fill: none; stroke: #2ca02c; stroke-width: 3.55; stroke-linecap: square"/>
    </g>
    <g id="text_37">
     <!-- 60.0 $\mu M$ -->
     <g transform="translate(838.13 223.16)">
      <text>
       <tspan x="0" y="-0.15" style="font-size: 20.14px; font-family: 'DejaVu Sans', sans-serif">6</tspan>
       <tspan x="12.80" y="-0.15" style="font-size: 20.14px; font-family: 'DejaVu Sans', sans-serif">0</tspan>
       <tspan x="25.60" y="-0.15" style="font-size: 20.14px; font-family: 'DejaVu Sans', sans-serif">.</tspan>
       <tspan x="32.00" y="-0.15" style="font-size: 20.14px; font-family: 'DejaVu Sans', sans-serif">0</tspan>
       <tspan x="44.80" y="-0.15" style="font-size: 20.14px; font-family: 'DejaVu Sans', sans-serif"> </tspan>
       <tspan x="51.20" y="-0.15" style="font-style: oblique; font-size: 20.14px; font-family: 'DejaVu Sans', sans-serif">μ</tspan>
       <tspan x="64.01" y="-0.15" style="font-style: oblique; font-size: 20.14px; font-family: 'DejaVu Sans', sans-serif">M</tspan>
      </text>
     </g>
    </g>
    <g id="line2d_64">
     <path d="M 781.72 246.77 
L 801.87 246.77 
L 822.01 246.77 
" style="fill: none; stroke: #d62728; stroke-width: 3.55; stroke-linecap: square"/>
    </g>
    <g id="text_38">
     <!-- 122.8 $\mu M$ -->
     <g transform="translate(838.13 253.82)">
      <text>
       <tspan x="0" y="-0.15" style="font-size: 20.14px; font-family: 'DejaVu Sans', sans-serif">1</tspan>
       <tspan x="12.80" y="-0.15" style="font-size: 20.14px; font-family: 'DejaVu Sans', sans-serif">2</tspan>
       <tspan x="25.60" y="-0.15" style="font-size: 20.14px; font-family: 'DejaVu Sans', sans-serif">2</tspan>
       <tspan x="38.41" y="-0.15" style="font-size: 20.14px; font-family: 'DejaVu Sans', sans-serif">.</tspan>
       <tspan x="44.30" y="-0.15" style="font-size: 20.14px; font-family: 'DejaVu Sans', sans-serif">8</tspan>
       <tspan x="57.11" y="-0.15" style="font-size: 20.14px; font-family: 'DejaVu Sans', sans-serif"> </tspan>
       <tspan x="63.51" y="-0.15" style="font-style: oblique; font-size: 20.14px; font-family: 'DejaVu Sans', sans-serif">μ</tspan>
       <tspan x="76.31" y="-0.15" style="font-style: oblique; font-size: 20.14px; font-family: 'DejaVu Sans', sans-serif">M</tspan>
      </text>
     </g>
    </g>
   </g>
  </g>
  <g id="axes_3">
   <g id="patch_14">
    <path d="M 1444 393.1 
L 1996.4 393.1 
L 1996.4 11.5 
L 1444 11.5 
z
" style="fill: #ffffff"/>
   </g>
   <g id="matplotlib.axis_5">
    <g id="xtick_14">
     <g id="line2d_65">
      <path d="M 1478.65 393.1 
L 1478.65 11.5 
" clip-path="url(#p86de596319)" style="fill: none; stroke: #b0b0b0; stroke-opacity: 0.5; stroke-width: 1.18; stroke-linecap: square"/>
     </g>
     <g id="line2d_66">
      <g>
       <use href="#m22eff78cd5" x="1478.65" y="393.1" style="stroke: #000000; stroke-width: 1.89"/>
      </g>
     </g>
     <g id="text_39">
      <text style="font-size: 23.7px; font-family: 'DejaVu Sans', sans-serif; text-anchor: middle" x="1478.65" y="427.69" transform="rotate(-0 1478.65 427.69)">40</text>
     </g>
    </g>
    <g id="xtick_15">
     <g id="line2d_67">
      <path d="M 1597.72 393.1 
L 1597.72 11.5 
" clip-path="url(#p86de596319)" style="fill: none; stroke: #b0b0b0; stroke-opacity: 0.5; stroke-width: 1.18; stroke-linecap: square"/>
     </g>
     <g id="line2d_68">
      <g>
       <use href="#m22eff78cd5" x="1597.72" y="393.1" style="stroke: #000000; stroke-width: 1.89"/>
      </g>
     </g>
     <g id="text_40">
      <text style="font-size: 23.7px; font-family: 'DejaVu Sans', sans-serif; text-anchor: middle" x="1597.72" y="427.69" transform="rotate(-0 1597.72 427.69)">60</text>
     </g>
    </g>
    <g id="xtick_16">
     <g id="line2d_69">
      <path d="M 1716.80 393.1 
L 1716.80 11.5 
" clip-path="url(#p86de596319)" style="fill: none; stroke: #b0b0b0; stroke-opacity: 0.5; stroke-width: 1.18; stroke-linecap: square"/>
     </g>
     <g id="line2d_70">
      <g>
       <use href="#m22eff78cd5" x="1716.80" y="393.1" style="stroke: #000000; stroke-width: 1.89"/>
      </g>
     </g>
     <g id="text_41">
      <text style="font-size: 23.7px; font-family: 'DejaVu Sans', sans-serif; text-anchor: middle" x="1716.80" y="427.69" transform="rotate(-0 1716.80 427.69)">80</text>
     </g>
    </g>
    <g id="xtick_17">
     <g id="line2d_71">
      <path d="M 1835.88 393.1 
L 1835.88 11.5 
" clip-path="url(#p86de596319)" style="fill: none; stroke: #b0b0b0; stroke-opacity: 0.5; stroke-width: 1.18; stroke-linecap: square"/>
     </g>
     <g id="line2d_72">
      <g>
       <use href="#m22eff78cd5" x="1835.88" y="393.1" style="stroke: #000000; stroke-width: 1.89"/>
      </g>
     </g>
     <g id="text_42">
      <text style="font-size: 23.7px; font-family: 'DejaVu Sans', sans-serif; text-anchor: middle" x="1835.88" y="427.69" transform="rotate(-0 1835.88 427.69)">100</text>
     </g>
    </g>
    <g id="xtick_18">
     <g id="line2d_73">
      <path d="M 1954.96 393.1 
L 1954.96 11.5 
" clip-path="url(#p86de596319)" style="fill: none; stroke: #b0b0b0; stroke-opacity: 0.5; stroke-width: 1.18; stroke-linecap: square"/>
     </g>
     <g id="line2d_74">
      <g>
       <use href="#m22eff78cd5" x="1954.96" y="393.1" style="stroke: #000000; stroke-width: 1.89"/>
      </g>
     </g>
     <g id="text_43">
      <text style="font-size: 23.7px; font-family: 'DejaVu Sans', sans-serif; text-anchor: middle" x="1954.96" y="427.69" transform="rotate(-0 1954.96 427.69)">120</text>
     </g>
    </g>
    <g id="text_44">
     <!-- Concentration ($\mu M$) -->
     <g transform="translate(1605.49 461.01)">
      <text>
       <tspan x="0" y="-0.76" style="font-size: 23.7px; font-family: 'DejaVu Sans', sans-serif">C</tspan>
       <tspan x="16.58" y="-0.76" style="font-size: 23.7px; font-family: 'DejaVu Sans', sans-serif">o</tspan>
       <tspan x="31.11" y="-0.76" style="font-size: 23.7px; font-family: 'DejaVu Sans', sans-serif">n</tspan>
       <tspan x="46.16" y="-0.76" style="font-size: 23.7px; font-family: 'DejaVu Sans', sans-serif">c</tspan>
       <tspan x="59.22" y="-0.76" style="font-size: 23.7px; font-family: 'DejaVu Sans', sans-serif">e</tspan>
       <tspan x="73.83" y="-0.76" style="font-size: 23.7px; font-family: 'DejaVu Sans', sans-serif">n</tspan>
       <tspan x="88.88" y="-0.76" style="font-size: 23.7px; font-family: 'DejaVu Sans', sans-serif">t</tspan>
       <tspan x="98.20" y="-0.76" style="font-size: 23.7px; font-family: 'DejaVu Sans', sans-serif">r</tspan>
       <tspan x="107.96" y="-0.76" style="font-size: 23.7px; font-family: 'DejaVu Sans', sans-serif">a</tspan>
       <tspan x="122.51" y="-0.76" style="font-size: 23.7px; font-family: 'DejaVu Sans', sans-serif">t</tspan>
       <tspan x="131.83" y="-0.76" style="font-size: 23.7px; font-family: 'DejaVu Sans', sans-serif">i</tspan>
       <tspan x="138.42" y="-0.76" style="font-size: 23.7px; font-family: 'DejaVu Sans', sans-serif">o</tspan>
       <tspan x="152.96" y="-0.76" style="font-size: 23.7px; font-family: 'DejaVu Sans', sans-serif">n</tspan>
       <tspan x="168.01" y="-0.76" style="font-size: 23.7px; font-family: 'DejaVu Sans', sans-serif"> </tspan>
       <tspan x="175.56" y="-0.76" style="font-size: 23.7px; font-family: 'DejaVu Sans', sans-serif">(</tspan>
       <tspan x="220.42" y="-0.76" style="font-size: 23.7px; font-family: 'DejaVu Sans', sans-serif">)</tspan>
       <tspan x="184.82" y="-0.76" style="font-style: oblique; font-size: 23.7px; font-family: 'DejaVu Sans', sans-serif">μ</tspan>
       <tspan x="199.93" y="-0.76" style="font-style: oblique; font-size: 23.7px; font-family: 'DejaVu Sans', sans-serif">M</tspan>
      </text>
     </g>
    </g>
   </g>
   <g id="matplotlib.axis_6">
    <g id="ytick_12">
     <g id="line2d_75">
      <path d="M 1444 374.65 
L 1996.4 374.65 
" clip-path="url(#p86de596319)" style="fill: none; stroke: #b0b0b0; stroke-opacity: 0.5; stroke-width: 1.18; stroke-linecap: square"/>
     </g>
     <g id="line2d_76">
      <g>
       <use href="#m0cf7b9e8b8" x="1444" y="374.65" style="stroke: #000000; stroke-width: 1.89"/>
      </g>
     </g>
     <g id="text_45">
      <text style="font-size: 23.7px; font-family: 'DejaVu Sans', sans-serif; text-anchor: end" x="1427.41" y="383.65" transform="rotate(-0 1427.41 383.65)">0.0</text>
     </g>
    </g>
    <g id="ytick_13">
     <g id="line2d_77">
      <path d="M 1444 322.83 
L 1996.4 322.83 
" clip-path="url(#p86de596319)" style="fill: none; stroke: #b0b0b0; stroke-opacity: 0.5; stroke-width: 1.18; stroke-linecap: square"/>
     </g>
     <g id="line2d_78">
      <g>
       <use href="#m0cf7b9e8b8" x="1444" y="322.83" style="stroke: #000000; stroke-width: 1.89"/>
      </g>
     </g>
     <g id="text_46">
      <text style="font-size: 23.7px; font-family: 'DejaVu Sans', sans-serif; text-anchor: end" x="1427.41" y="331.83" transform="rotate(-0 1427.41 331.83)">2.5</text>
     </g>
    </g>
    <g id="ytick_14">
     <g id="line2d_79">
      <path d="M 1444 271.01 
L 1996.4 271.01 
" clip-path="url(#p86de596319)" style="fill: none; stroke: #b0b0b0; stroke-opacity: 0.5; stroke-width: 1.18; stroke-linecap: square"/>
     </g>
     <g id="line2d_80">
      <g>
       <use href="#m0cf7b9e8b8" x="1444" y="271.01" style="stroke: #000000; stroke-width: 1.89"/>
      </g>
     </g>
     <g id="text_47">
      <text style="font-size: 23.7px; font-family: 'DejaVu Sans', sans-serif; text-anchor: end" x="1427.41" y="280.01" transform="rotate(-0 1427.41 280.01)">5.0</text>
     </g>
    </g>
    <g id="ytick_15">
     <g id="line2d_81">
      <path d="M 1444 219.19 
L 1996.4 219.19 
" clip-path="url(#p86de596319)" style="fill: none; stroke: #b0b0b0; stroke-opacity: 0.5; stroke-width: 1.18; stroke-linecap: square"/>
     </g>
     <g id="line2d_82">
      <g>
       <use href="#m0cf7b9e8b8" x="1444" y="219.19" style="stroke: #000000; stroke-width: 1.89"/>
      </g>
     </g>
     <g id="text_48">
      <text style="font-size: 23.7px; font-family: 'DejaVu Sans', sans-serif; text-anchor: end" x="1427.41" y="228.19" transform="rotate(-0 1427.41 228.19)">7.5</text>
     </g>
    </g>
    <g id="ytick_16">
     <g id="line2d_83">
      <path d="M 1444 167.37 
L 1996.4 167.37 
" clip-path="url(#p86de596319)" style="fill: none; stroke: #b0b0b0; stroke-opacity: 0.5; stroke-width: 1.18; stroke-linecap: square"/>
     </g>
     <g id="line2d_84">
      <g>
       <use href="#m0cf7b9e8b8" x="1444" y="167.37" style="stroke: #000000; stroke-width: 1.89"/>
      </g>
     </g>
     <g id="text_49">
      <text style="font-size: 23.7px; font-family: 'DejaVu Sans', sans-serif; text-anchor: end" x="1427.41" y="176.37" transform="rotate(-0 1427.41 176.37)">10.0</text>
     </g>
    </g>
    <g id="ytick_17">
     <g id="line2d_85">
      <path d="M 1444 115.55 
L 1996.4 115.55 
" clip-path="url(#p86de596319)" style="fill: none; stroke: #b0b0b0; stroke-opacity: 0.5; stroke-width: 1.18; stroke-linecap: square"/>
     </g>
     <g id="line2d_86">
      <g>
       <use href="#m0cf7b9e8b8" x="1444" y="115.55" style="stroke: #000000; stroke-width: 1.89"/>
      </g>
     </g>
     <g id="text_50">
      <text style="font-size: 23.7px; font-family: 'DejaVu Sans', sans-serif; text-anchor: end" x="1427.41" y="124.55" transform="rotate(-0 1427.41 124.55)">12.5</text>
     </g>
    </g>
    <g id="ytick_18">
     <g id="line2d_87">
      <path d="M 1444 63.73 
L 1996.4 63.73 
" clip-path="url(#p86de596319)" style="fill: none; stroke: #b0b0b0; stroke-opacity: 0.5; stroke-width: 1.18; stroke-linecap: square"/>
     </g>
     <g id="line2d_88">
      <g>
       <use href="#m0cf7b9e8b8" x="1444" y="63.73" style="stroke: #000000; stroke-width: 1.89"/>
      </g>
     </g>
     <g id="text_51">
      <text style="font-size: 23.7px; font-family: 'DejaVu Sans', sans-serif; text-anchor: end" x="1427.41" y="72.73" transform="rotate(-0 1427.41 72.73)">15.0</text>
     </g>
    </g>
    <g id="ytick_19">
     <g id="line2d_89">
      <path d="M 1444 11.91 
L 1996.4 11.91 
" clip-path="url(#p86de596319)" style="fill: none; stroke: #b0b0b0; stroke-opacity: 0.5; stroke-width: 1.18; stroke-linecap: square"/>
     </g>
     <g id="line2d_90">
      <g>
       <use href="#m0cf7b9e8b8" x="1444" y="11.91" style="stroke: #000000; stroke-width: 1.89"/>
      </g>
     </g>
     <g id="text_52">
      <text style="font-size: 23.7px; font-family: 'DejaVu Sans', sans-serif; text-anchor: end" x="1427.41" y="20.91" transform="rotate(-0 1427.41 20.91)">17.5</text>
     </g>
    </g>
    <g id="text_53">
     <!-- Cottrell slope (mA/s$^{1/2}$) -->
     <g transform="translate(1358.38 337.50) rotate(-90)">
      <text>
       <tspan x="0" y="-0.34" style="font-size: 23.7px; font-family: 'DejaVu Sans', sans-serif">C</tspan>
       <tspan x="16.58" y="-0.34" style="font-size: 23.7px; font-family: 'DejaVu Sans', sans-serif">o</tspan>
       <tspan x="31.11" y="-0.34" style="font-size: 23.7px; font-family: 'DejaVu Sans', sans-serif">t</tspan>
       <tspan x="40.42" y="-0.34" style="font-size: 23.7px; font-family: 'DejaVu Sans', sans-serif">t</tspan>
       <tspan x="49.73" y="-0.34" style="font-size: 23.7px; font-family: 'DejaVu Sans', sans-serif">r</tspan>
       <tspan x="59.50" y="-0.34" style="font-size: 23.7px; font-family: 'DejaVu Sans', sans-serif">e</tspan>
       <tspan x="74.11" y="-0.34" style="font-size: 23.7px; font-family: 'DejaVu Sans', sans-serif">l</tspan>
       <tspan x="80.71" y="-0.34" style="font-size: 23.7px; font-family: 'DejaVu Sans', sans-serif">l</tspan>
       <tspan x="87.31" y="-0.34" style="font-size: 23.7px; font-family: 'DejaVu Sans', sans-serif"> </tspan>
       <tspan x="94.86" y="-0.34" style="font-size: 23.7px; font-family: 'DejaVu Sans', sans-serif">s</tspan>
       <tspan x="107.23" y="-0.34" style="font-size: 23.7px; font-family: 'DejaVu Sans', sans-serif">l</tspan>
       <tspan x="113.83" y="-0.34" style="font-size: 23.7px; font-family: 'DejaVu Sans', sans-serif">o</tspan>
       <tspan x="128.36" y="-0.34" style="font-size: 23.7px; font-family: 'DejaVu Sans', sans-serif">p</tspan>
       <tspan x="143.43" y="-0.34" style="font-size: 23.7px; font-family: 'DejaVu Sans', sans-serif">e</tspan>
       <tspan x="158.05" y="-0.34" style="font-size: 23.7px; font-family: 'DejaVu Sans', sans-serif"> </tspan>
       <tspan x="165.60" y="-0.34" style="font-size: 23.7px; font-family: 'DejaVu Sans', sans-serif">(</tspan>
       <tspan x="174.86" y="-0.34" style="font-size: 23.7px; font-family: 'DejaVu Sans', sans-serif">m</tspan>
       <tspan x="198.00" y="-0.34" style="font-size: 23.7px; font-family: 'DejaVu Sans', sans-serif">A</tspan>
       <tspan x="214.24" y="-0.34" style="font-size: 23.7px; font-family: 'DejaVu Sans', sans-serif">/</tspan>
       <tspan x="222.25" y="-0.34" style="font-size: 23.7px; font-family: 'DejaVu Sans', sans-serif">s</tspan>
       <tspan x="261.65" y="-0.34" style="font-size: 23.7px; font-family: 'DejaVu Sans', sans-serif">)</tspan>
       <tspan x="234.85" y="-9.53" style="font-size: 16.59px; font-family: 'DejaVu Sans', sans-serif">1</tspan>
       <tspan x="245.43" y="-9.53" style="font-size: 16.59px; font-family: 'DejaVu Sans', sans-serif">/</tspan>
       <tspan x="250.41" y="-9.53" style="font-size: 16.59px; font-family: 'DejaVu Sans', sans-serif">2</tspan>
      </text>
     </g>
    </g>
   </g>
   <g id="line2d_91">
    <defs>
     <path id="mea92491376" d="M 0 7.11 
C 1.88 7.11 3.69 6.36 5.02 5.02 
C 6.36 3.69 7.11 1.88 7.11 0 
C 7.11 -1.88 6.36 -3.69 5.02 -5.02 
C 3.69 -6.36 1.88 -7.11 0 -7.11 
C -1.88 -7.11 -3.69 -6.36 -5.02 -5.02 
C -6.36 -3.69 -7.11 -1.88 -7.11 0 
C -7.11 1.88 -6.36 3.69 -5.02 5.02 
C -3.69 6.36 -1.88 7.11 0 7.11 
z
" style="stroke: #4682b4; stroke-width: 2.37"/>
    </defs>
    <g clip-path="url(#p86de596319)">
     <use href="#mea92491376" x="1469.12" y="360.76" style="fill: #4682b4; stroke: #4682b4; stroke-width: 2.37"/>
     <use href="#mea92491376" x="1577.24" y="313.50" style="fill: #4682b4; stroke: #4682b4; stroke-width: 2.37"/>
     <use href="#mea92491376" x="1681.32" y="243.03" style="fill: #4682b4; stroke: #4682b4; stroke-width: 2.37"/>
     <use href="#mea92491376" x="1971.27" y="28.91" style="fill: #4682b4; stroke: #4682b4; stroke-width: 2.37"/>
    </g>
   </g>
   <g id="line2d_92">
    <path d="M 1469.12 375.82 
L 1971.27 36.67 
" clip-path="url(#p86de596319)" style="fill: none; stroke-dasharray: 8.76,3.79; stroke-dashoffset: 0; stroke: #1f77b4; stroke-width: 2.37"/>
   </g>
   <g id="patch_15">
    <path d="M 1444 393.1 
L 1444 11.5 
" style="fill: none; stroke: #000000; stroke-width: 1.89; stroke-linejoin: miter; stroke-linecap: square"/>
   </g>
   <g id="patch_16">
    <path d="M 1996.4 393.1 
L 1996.4 11.5 
" style="fill: none; stroke: #000000; stroke-width: 1.89; stroke-linejoin: miter; stroke-linecap: square"/>
   </g>
   <g id="patch_17">
    <path d="M 1444 393.1 
L 1996.4 393.1 
" style="fill: none; stroke: #000000; stroke-width: 1.89; stroke-linejoin: miter; stroke-linecap: square"/>
   </g>
   <g id="patch_18">
    <path d="M 1444 11.5 
L 1996.4 11.5 
" style="fill: none; stroke: #000000; stroke-width: 1.89; stroke-linejoin: miter; stroke-linecap: square"/>
   </g>
   <g id="text_54">
    <!-- $y = 0.19x - 7.50$ -->
    <g transform="translate(1478.52 138.48)">
     <text>
      <tspan x="0" y="-0.70" style="font-style: oblique; font-size: 26.07px; font-family: 'DejaVu Sans', sans-serif">y</tspan>
      <tspan x="122.32" y="-0.70" style="font-style: oblique; font-size: 26.07px; font-family: 'DejaVu Sans', sans-serif">x</tspan>
      <tspan x="20.55" y="-0.70" style="font-size: 26.07px; font-family: 'DejaVu Sans', sans-serif">=</tspan>
      <tspan x="47.53" y="-0.70" style="font-size: 26.07px; font-family: 'DejaVu Sans', sans-serif">0</tspan>
      <tspan x="64.15" y="-0.70" style="font-size: 26.07px; font-family: 'DejaVu Sans', sans-serif">.</tspan>
      <tspan x="72.45" y="-0.70" style="font-size: 26.07px; font-family: 'DejaVu Sans', sans-serif">1</tspan>
      <tspan x="89.07" y="-0.70" style="font-size: 26.07px; font-family: 'DejaVu Sans', sans-serif">9</tspan>
      <tspan x="105.69" y="-0.70" style="font-size: 26.07px; font-family: 'DejaVu Sans', sans-serif">4</tspan>
      <tspan x="142.87" y="-0.70" style="font-size: 26.07px; font-family: 'DejaVu Sans', sans-serif">−</tspan>
      <tspan x="169.85" y="-0.70" style="font-size: 26.07px; font-family: 'DejaVu Sans', sans-serif">7</tspan>
      <tspan x="186.47" y="-0.70" style="font-size: 26.07px; font-family: 'DejaVu Sans', sans-serif">.</tspan>
      <tspan x="194.77" y="-0.70" style="font-size: 26.07px; font-family: 'DejaVu Sans', sans-serif">5</tspan>
      <tspan x="211.39" y="-0.70" style="font-size: 26.07px; font-family: 'DejaVu Sans', sans-serif">0</tspan>
      <tspan x="228.01" y="-0.70" style="font-size: 26.07px; font-family: 'DejaVu Sans', sans-serif">6</tspan>
     </text>
    </g>
    <!-- $R^2 = 0.99$ -->
    <g transform="translate(1478.52 167.73)">
     <text>
      <tspan x="0" y="-0.53" style="font-style: oblique; font-size: 26.07px; font-family: 'DejaVu Sans', sans-serif">R</tspan>
      <tspan x="19.97" y="-10.49" style="font-size: 18.24px; font-family: 'DejaVu Sans', sans-serif">2</tspan>
      <tspan x="37.41" y="-0.53" style="font-size: 26.07px; font-family: 'DejaVu Sans', sans-serif">=</tspan>
      <tspan x="64.39" y="-0.53" style="font-size: 26.07px; font-family: 'DejaVu Sans', sans-serif">0</tspan>
      <tspan x="81.01" y="-0.53" style="font-size: 26.07px; font-family: 'DejaVu Sans', sans-serif">.</tspan>
      <tspan x="89.31" y="-0.53" style="font-size: 26.07px; font-family: 'DejaVu Sans', sans-serif">9</tspan>
      <tspan x="105.93" y="-0.53" style="font-size: 26.07px; font-family: 'DejaVu Sans', sans-serif">9</tspan>
      <tspan x="122.06" y="-0.53" style="font-size: 26.07px; font-family: 'DejaVu Sans', sans-serif">2</tspan>
     </text>
    </g>
   </g>
   <g id="text_55">
    <text style="font-size: 33.18px; font-family: 'DejaVu Sans', sans-serif; text-anchor: start" x="1460.57" y="49.57" transform="rotate(-0 1460.57 49.57)">C</text>
   </g>
  </g>
  <g id="axes_4">
   <g id="patch_19">
    <path d="M 83.1 893.5 
L 635.2 893.5 
L 635.2 512 
L 83.1 512 
z
" style="fill: #ffffff"/>
   </g>
   <g id="matplotlib.axis_7">
    <g id="xtick_19">
     <g id="line2d_93">
      <path d="M 83.1 893.5 
L 83.1 512 
" clip-path="url(#p9e097ca034)" style="fill: none; stroke: #b0b0b0; stroke-opacity: 0.2; stroke-width: 1.89; stroke-linecap: square"/>
     </g>
     <g id="line2d_94">
      <g>
       <use href="#m22eff78cd5" x="83.1" y="893.5" style="stroke: #000000; stroke-width: 1.89"/>
      </g>
     </g>
     <g id="text_56">
      <text style="font-size: 23.7px; font-family: 'DejaVu Sans', sans-serif; text-anchor: middle" x="83.1" y="928.09" transform="rotate(-0 83.1 928.09)">0</text>
     </g>
    </g>
    <g id="xtick_20">
     <g id="line2d_95">
      <path d="M 172.14 893.5 
L 172.14 512 
" clip-path="url(#p9e097ca034)" style="fill: none; stroke: #b0b0b0; stroke-opacity: 0.2; stroke-width: 1.89; stroke-linecap: square"/>
     </g>
     <g id="line2d_96">
      <g>
       <use href="#m22eff78cd5" x="172.14" y="893.5" style="stroke: #000000; stroke-width: 1.89"/>
      </g>
     </g>
     <g id="text_57">
      <text style="font-size: 23.7px; font-family: 'DejaVu Sans', sans-serif; text-anchor: middle" x="172.14" y="928.09" transform="rotate(-0 172.14 928.09)">5</text>
     </g>
    </g>
    <g id="xtick_21">
     <g id="line2d_97">
      <path d="M 261.19 893.5 
L 261.19 512 
" clip-path="url(#p9e097ca034)" style="fill: none; stroke: #b0b0b0; stroke-opacity: 0.2; stroke-width: 1.89; stroke-linecap: square"/>
     </g>
     <g id="line2d_98">
      <g>
       <use href="#m22eff78cd5" x="261.19" y="893.5" style="stroke: #000000; stroke-width: 1.89"/>
      </g>
     </g>
     <g id="text_58">
      <text style="font-size: 23.7px; font-family: 'DejaVu Sans', sans-serif; text-anchor: middle" x="261.19" y="928.09" transform="rotate(-0 261.19 928.09)">10</text>
     </g>
    </g>
    <g id="xtick_22">
     <g id="line2d_99">
      <path d="M 350.24 893.5 
L 350.24 512 
" clip-path="url(#p9e097ca034)" style="fill: none; stroke: #b0b0b0; stroke-opacity: 0.2; stroke-width: 1.89; stroke-linecap: square"/>
     </g>
     <g id="line2d_100">
      <g>
       <use href="#m22eff78cd5" x="350.24" y="893.5" style="stroke: #000000; stroke-width: 1.89"/>
      </g>
     </g>
     <g id="text_59">
      <text style="font-size: 23.7px; font-family: 'DejaVu Sans', sans-serif; text-anchor: middle" x="350.24" y="928.09" transform="rotate(-0 350.24 928.09)">15</text>
     </g>
    </g>
    <g id="xtick_23">
     <g id="line2d_101">
      <path d="M 439.29 893.5 
L 439.29 512 
" clip-path="url(#p9e097ca034)" style="fill: none; stroke: #b0b0b0; stroke-opacity: 0.2; stroke-width: 1.89; stroke-linecap: square"/>
     </g>
     <g id="line2d_102">
      <g>
       <use href="#m22eff78cd5" x="439.29" y="893.5" style="stroke: #000000; stroke-width: 1.89"/>
      </g>
     </g>
     <g id="text_60">
      <text style="font-size: 23.7px; font-family: 'DejaVu Sans', sans-serif; text-anchor: middle" x="439.29" y="928.09" transform="rotate(-0 439.29 928.09)">20</text>
     </g>
    </g>
    <g id="xtick_24">
     <g id="line2d_103">
      <path d="M 528.34 893.5 
L 528.34 512 
" clip-path="url(#p9e097ca034)" style="fill: none; stroke: #b0b0b0; stroke-opacity: 0.2; stroke-width: 1.89; stroke-linecap: square"/>
     </g>
     <g id="line2d_104">
      <g>
       <use href="#m22eff78cd5" x="528.34" y="893.5" style="stroke: #000000; stroke-width: 1.89"/>
      </g>
     </g>
     <g id="text_61">
      <text style="font-size: 23.7px; font-family: 'DejaVu Sans', sans-serif; text-anchor: middle" x="528.34" y="928.09" transform="rotate(-0 528.34 928.09)">25</text>
     </g>
    </g>
    <g id="xtick_25">
     <g id="line2d_105">
      <path d="M 617.39 893.5 
L 617.39 512 
" clip-path="url(#p9e097ca034)" style="fill: none; stroke: #b0b0b0; stroke-opacity: 0.2; stroke-width: 1.89; stroke-linecap: square"/>
     </g>
     <g id="line2d_106">
      <g>
       <use href="#m22eff78cd5" x="617.39" y="893.5" style="stroke: #000000; stroke-width: 1.89"/>
      </g>
     </g>
     <g id="text_62">
      <text style="font-size: 23.7px; font-family: 'DejaVu Sans', sans-serif; text-anchor: middle" x="617.39" y="928.09" transform="rotate(-0 617.39 928.09)">30</text>
     </g>
    </g>
    <g id="text_63">
     <text style="font-size: 23.7px; font-family: 'DejaVu Sans', sans-serif; text-anchor: middle" x="359.15" y="961.11" transform="rotate(-0 359.15 961.11)">Time (s)</text>
    </g>
   </g>
   <g id="matplotlib.axis_8">
    <g id="ytick_20">
     <g id="line2d_107">
      <path d="M 83.1 872.69 
L 635.2 872.69 
" clip-path="url(#p9e097ca034)" style="fill: none; stroke: #b0b0b0; stroke-opacity: 0.2; stroke-width: 1.89; stroke-linecap: square"/>
     </g>
     <g id="line2d_108">
      <g>
       <use href="#m0cf7b9e8b8" x="83.1" y="872.69" style="stroke: #000000; stroke-width: 1.89"/>
      </g>
     </g>
     <g id="text_64">
      <text style="font-size: 23.7px; font-family: 'DejaVu Sans', sans-serif; text-anchor: end" x="66.51" y="881.69" transform="rotate(-0 66.51 881.69)">0</text>
     </g>
    </g>
    <g id="ytick_21">
     <g id="line2d_109">
      <path d="M 83.1 803.32 
L 635.2 803.32 
" clip-path="url(#p9e097ca034)" style="fill: none; stroke: #b0b0b0; stroke-opacity: 0.2; stroke-width: 1.89; stroke-linecap: square"/>
     </g>
     <g id="line2d_110">
      <g>
       <use href="#m0cf7b9e8b8" x="83.1" y="803.32" style="stroke: #000000; stroke-width: 1.89"/>
      </g>
     </g>
     <g id="text_65">
      <text style="font-size: 23.7px; font-family: 'DejaVu Sans', sans-serif; text-anchor: end" x="66.51" y="812.33" transform="rotate(-0 66.51 812.33)">1</text>
     </g>
    </g>
    <g id="ytick_22">
     <g id="line2d_111">
      <path d="M 83.1 733.96 
L 635.2 733.96 
" clip-path="url(#p9e097ca034)" style="fill: none; stroke: #b0b0b0; stroke-opacity: 0.2; stroke-width: 1.89; stroke-linecap: square"/>
     </g>
     <g id="line2d_112">
      <g>
       <use href="#m0cf7b9e8b8" x="83.1" y="733.96" style="stroke: #000000; stroke-width: 1.89"/>
      </g>
     </g>
     <g id="text_66">
      <text style="font-size: 23.7px; font-family: 'DejaVu Sans', sans-serif; text-anchor: end" x="66.51" y="742.96" transform="rotate(-0 66.51 742.96)">2</text>
     </g>
    </g>
    <g id="ytick_23">
     <g id="line2d_113">
      <path d="M 83.1 664.6 
L 635.2 664.6 
" clip-path="url(#p9e097ca034)" style="fill: none; stroke: #b0b0b0; stroke-opacity: 0.2; stroke-width: 1.89; stroke-linecap: square"/>
     </g>
     <g id="line2d_114">
      <g>
       <use href="#m0cf7b9e8b8" x="83.1" y="664.6" style="stroke: #000000; stroke-width: 1.89"/>
      </g>
     </g>
     <g id="text_67">
      <text style="font-size: 23.7px; font-family: 'DejaVu Sans', sans-serif; text-anchor: end" x="66.51" y="673.60" transform="rotate(-0 66.51 673.60)">3</text>
     </g>
    </g>
    <g id="ytick_24">
     <g id="line2d_115">
      <path d="M 83.1 595.23 
L 635.2 595.23 
" clip-path="url(#p9e097ca034)" style="fill: none; stroke: #b0b0b0; stroke-opacity: 0.2; stroke-width: 1.89; stroke-linecap: square"/>
     </g>
     <g id="line2d_116">
      <g>
       <use href="#m0cf7b9e8b8" x="83.1" y="595.23" style="stroke: #000000; stroke-width: 1.89"/>
      </g>
     </g>
     <g id="text_68">
      <text style="font-size: 23.7px; font-family: 'DejaVu Sans', sans-serif; text-anchor: end" x="66.51" y="604.24" transform="rotate(-0 66.51 604.24)">4</text>
     </g>
    </g>
    <g id="ytick_25">
     <g id="line2d_117">
      <path d="M 83.1 525.87 
L 635.2 525.87 
" clip-path="url(#p9e097ca034)" style="fill: none; stroke: #b0b0b0; stroke-opacity: 0.2; stroke-width: 1.89; stroke-linecap: square"/>
     </g>
     <g id="line2d_118">
      <g>
       <use href="#m0cf7b9e8b8" x="83.1" y="525.87" style="stroke: #000000; stroke-width: 1.89"/>
      </g>
     </g>
     <g id="text_69">
      <text style="font-size: 23.7px; font-family: 'DejaVu Sans', sans-serif; text-anchor: end" x="66.51" y="534.87" transform="rotate(-0 66.51 534.87)">5</text>
     </g>
    </g>
    <g id="text_70">
     <!-- Current ($\mu A$) -->
     <g transform="translate(35.97 776.45) rotate(-90)">
      <text>
       <tspan x="0" y="-0.78" style="font-size: 23.7px; font-family: 'DejaVu Sans', sans-serif">C</tspan>
       <tspan x="16.58" y="-0.78" style="font-size: 23.7px; font-family: 'DejaVu Sans', sans-serif">u</tspan>
       <tspan x="31.63" y="-0.78" style="font-size: 23.7px; font-family: 'DejaVu Sans', sans-serif">r</tspan>
       <tspan x="41.40" y="-0.78" style="font-size: 23.7px; font-family: 'DejaVu Sans', sans-serif">r</tspan>
       <tspan x="51.16" y="-0.78" style="font-size: 23.7px; font-family: 'DejaVu Sans', sans-serif">e</tspan>
       <tspan x="65.77" y="-0.78" style="font-size: 23.7px; font-family: 'DejaVu Sans', sans-serif">n</tspan>
       <tspan x="80.82" y="-0.78" style="font-size: 23.7px; font-family: 'DejaVu Sans', sans-serif">t</tspan>
       <tspan x="90.14" y="-0.78" style="font-size: 23.7px; font-family: 'DejaVu Sans', sans-serif"> </tspan>
       <tspan x="97.69" y="-0.78" style="font-size: 23.7px; font-family: 'DejaVu Sans', sans-serif">(</tspan>
       <tspan x="138.31" y="-0.78" style="font-size: 23.7px; font-family: 'DejaVu Sans', sans-serif">)</tspan>
       <tspan x="106.95" y="-0.78" style="font-style: oblique; font-size: 23.7px; font-family: 'DejaVu Sans', sans-serif">μ</tspan>
       <tspan x="122.06" y="-0.78" style="font-style: oblique; font-size: 23.7px; font-family: 'DejaVu Sans', sans-serif">A</tspan>
      </text>
     </g>
    </g>
   </g>
   <g id="line2d_119">
    <path d="M 84.34 851.10 
L 85.25 853.07 
L 86.26 854.73 
L 87.39 856.15 
L 88.68 857.44 
L 90.22 858.65 
L 92.00 859.78 
L 94.22 860.91 
L 96.72 861.93 
L 99.79 862.94 
L 103.54 863.93 
L 108.13 864.90 
L 113.76 865.85 
L 120.65 866.77 
L 129.08 867.65 
L 139.42 868.50 
L 152.07 869.31 
L 167.57 870.08 
L 186.55 870.80 
L 212.39 871.54 
L 244.69 872.23 
L 285.05 872.85 
L 335.49 873.41 
L 404.99 873.94 
L 493.62 874.39 
L 617.39 874.79 
L 617.39 874.79 
" clip-path="url(#p9e097ca034)" style="fill: none; stroke: #1f77b4; stroke-width: 3.55; stroke-linecap: square"/>
   </g>
   <g id="line2d_120">
    <path d="M 85.94 783.90 
L 86.87 791.79 
L 87.83 798.27 
L 88.94 804.20 
L 90.05 809.06 
L 91.24 813.33 
L 92.63 817.49 
L 94.06 821.08 
L 95.49 824.13 
L 97.11 827.09 
L 98.94 829.95 
L 100.69 832.32 
L 102.64 834.61 
L 104.80 836.83 
L 107.21 838.98 
L 109.88 841.04 
L 112.84 843.03 
L 116.14 844.93 
L 119.80 846.76 
L 123.86 848.51 
L 128.37 850.18 
L 133.39 851.78 
L 138.96 853.30 
L 145.14 854.75 
L 152.01 856.12 
L 159.65 857.42 
L 168.12 858.65 
L 177.54 859.81 
L 189.85 861.07 
L 203.77 862.24 
L 219.50 863.32 
L 237.28 864.31 
L 257.38 865.22 
L 280.09 866.03 
L 309.70 866.86 
L 343.77 867.57 
L 382.95 868.18 
L 434.11 868.72 
L 494.01 869.13 
L 564.12 869.38 
L 617.39 869.47 
L 617.39 869.47 
" clip-path="url(#p9e097ca034)" style="fill: none; stroke: #ff7f0e; stroke-width: 3.55; stroke-linecap: square"/>
   </g>
   <g id="line2d_121">
    <path d="M 85.94 731.76 
L 86.93 743.44 
L 88.00 753.47 
L 89.14 762.18 
L 90.30 769.40 
L 91.53 775.82 
L 92.97 782.13 
L 94.45 787.60 
L 95.93 792.27 
L 97.61 796.82 
L 99.22 800.62 
L 101.00 804.31 
L 102.98 807.90 
L 105.19 811.38 
L 107.21 814.19 
L 109.41 816.93 
L 111.82 819.58 
L 114.45 822.16 
L 117.31 824.65 
L 120.44 827.07 
L 123.86 829.40 
L 127.59 831.66 
L 131.66 833.83 
L 136.10 835.93 
L 140.95 837.95 
L 146.24 839.89 
L 152.01 841.75 
L 158.32 843.54 
L 165.20 845.26 
L 172.71 846.91 
L 180.90 848.48 
L 189.85 849.99 
L 199.62 851.42 
L 210.27 852.79 
L 224.36 854.35 
L 240.00 855.82 
L 257.38 857.20 
L 276.68 858.49 
L 298.11 859.70 
L 321.92 860.82 
L 348.37 861.86 
L 382.95 862.98 
L 422.04 863.98 
L 466.22 864.89 
L 516.16 865.69 
L 572.61 866.40 
L 617.39 866.84 
L 617.39 866.84 
" clip-path="url(#p9e097ca034)" style="fill: none; stroke: #2ca02c; stroke-width: 3.55; stroke-linecap: square"/>
   </g>
   <g id="line2d_122">
    <path d="M 93.78 387.99 
L 95.12 421.02 
L 96.62 452.63 
L 98.11 479.51 
L 99.77 505.22 
L 101.37 526.77 
L 103.12 547.42 
L 105.04 567.18 
L 106.83 583.42 
L 108.77 599.03 
L 110.87 614.00 
L 113.13 628.36 
L 115.17 639.87 
L 117.33 650.96 
L 119.65 661.65 
L 122.12 671.94 
L 124.76 681.85 
L 127.00 689.50 
L 129.36 696.92 
L 131.84 704.11 
L 134.46 711.07 
L 137.22 717.81 
L 140.13 724.33 
L 143.19 730.64 
L 146.42 736.74 
L 149.82 742.65 
L 153.41 748.36 
L 157.19 753.87 
L 161.17 759.20 
L 165.36 764.35 
L 169.78 769.32 
L 174.44 774.13 
L 179.35 778.76 
L 183.20 782.13 
L 187.21 785.42 
L 191.38 788.61 
L 195.71 791.72 
L 200.22 794.75 
L 204.91 797.70 
L 211.45 801.50 
L 218.35 805.17 
L 225.62 808.71 
L 233.27 812.12 
L 241.34 815.40 
L 249.84 818.57 
L 258.80 821.62 
L 268.24 824.56 
L 278.19 827.39 
L 288.67 830.11 
L 299.72 832.73 
L 311.36 835.26 
L 323.62 837.69 
L 336.55 840.04 
L 350.16 842.29 
L 364.51 844.46 
L 379.63 846.55 
L 395.56 848.55 
L 412.35 850.49 
L 434.61 852.80 
L 458.38 855.00 
L 483.75 857.10 
L 510.84 859.10 
L 539.75 861.01 
L 570.63 862.82 
L 603.59 864.55 
L 617.39 865.22 
L 617.39 865.22 
" clip-path="url(#p9e097ca034)" style="fill: none; stroke: #d62728; stroke-width: 3.55; stroke-linecap: square"/>
   </g>
   <g id="patch_20">
    <path d="M 83.1 893.5 
L 83.1 512 
" style="fill: none; stroke: #000000; stroke-width: 1.89; stroke-linejoin: miter; stroke-linecap: square"/>
   </g>
   <g id="patch_21">
    <path d="M 635.2 893.5 
L 635.2 512 
" style="fill: none; stroke: #000000; stroke-width: 1.89; stroke-linejoin: miter; stroke-linecap: square"/>
   </g>
   <g id="patch_22">
    <path d="M 83.1 893.5 
L 635.2 893.5 
" style="fill: none; stroke: #000000; stroke-width: 1.89; stroke-linejoin: miter; stroke-linecap: square"/>
   </g>
   <g id="patch_23">
    <path d="M 83.1 512 
L 635.2 512 
" style="fill: none; stroke: #000000; stroke-width: 1.89; stroke-linejoin: miter; stroke-linecap: square"/>
   </g>
   <g id="text_71">
    <text style="font-size: 33.18px; font-family: 'DejaVu Sans', sans-serif; text-anchor: start" x="108.93" y="550.86" transform="rotate(-0 108.93 550.86)">D</text>
   </g>
   <g id="legend_3">
    <g id="patch_24">
     <path d="M 431.38 674.23 
L 618.61 674.23 
Q 623.35 674.23 623.35 669.49 
L 623.35 528.59 
Q 623.35 523.85 618.61 523.85 
L 431.38 523.85 
Q 426.64 523.85 426.64 528.59 
L 426.64 669.49 
Q 426.64 674.23 431.38 674.23 
z
" style="fill: #ffffff; opacity: 0.8; stroke: #cccccc; stroke-width: 2.37; stroke-linejoin: miter"/>
    </g>
    <g id="line2d_123">
     <path d="M 436.59 543.51 
L 460.29 543.51 
L 483.99 543.51 
" style="fill: none; stroke: #1f77b4; stroke-width: 3.55; stroke-linecap: square"/>
    </g>
    <g id="text_72">
     <!-- 19.6 $\mu M$ -->
     <g transform="translate(502.95 551.81)">
      <text>
       <tspan x="0" y="-0.18" style="font-size: 23.7px; font-family: 'DejaVu Sans', sans-serif">1</tspan>
       <tspan x="15.11" y="-0.18" style="font-size: 23.7px; font-family: 'DejaVu Sans', sans-serif">9</tspan>
       <tspan x="30.22" y="-0.18" style="font-size: 23.7px; font-family: 'DejaVu Sans', sans-serif">.</tspan>
       <tspan x="37.77" y="-0.18" style="font-size: 23.7px; font-family: 'DejaVu Sans', sans-serif">6</tspan>
       <tspan x="52.88" y="-0.18" style="font-size: 23.7px; font-family: 'DejaVu Sans', sans-serif"> </tspan>
       <tspan x="60.43" y="-0.18" style="font-style: oblique; font-size: 23.7px; font-family: 'DejaVu Sans', sans-serif">μ</tspan>
       <tspan x="75.54" y="-0.18" style="font-style: oblique; font-size: 23.7px; font-family: 'DejaVu Sans', sans-serif">M</tspan>
      </text>
     </g>
    </g>
    <g id="line2d_124">
     <path d="M 436.59 579.34 
L 460.29 579.34 
L 483.99 579.34 
" style="fill: none; stroke: #ff7f0e; stroke-width: 3.55; stroke-linecap: square"/>
    </g>
    <g id="text_73">
     <!-- 50.1 $\mu M$ -->
     <g transform="translate(502.95 587.64)">
      <text>
       <tspan x="0" y="-0.18" style="font-size: 23.7px; font-family: 'DejaVu Sans', sans-serif">5</tspan>
       <tspan x="15.11" y="-0.18" style="font-size: 23.7px; font-family: 'DejaVu Sans', sans-serif">0</tspan>
       <tspan x="30.22" y="-0.18" style="font-size: 23.7px; font-family: 'DejaVu Sans', sans-serif">.</tspan>
       <tspan x="37.77" y="-0.18" style="font-size: 23.7px; font-family: 'DejaVu Sans', sans-serif">1</tspan>
       <tspan x="52.88" y="-0.18" style="font-size: 23.7px; font-family: 'DejaVu Sans', sans-serif"> </tspan>
       <tspan x="60.43" y="-0.18" style="font-style: oblique; font-size: 23.7px; font-family: 'DejaVu Sans', sans-serif">μ</tspan>
       <tspan x="75.54" y="-0.18" style="font-style: oblique; font-size: 23.7px; font-family: 'DejaVu Sans', sans-serif">M</tspan>
      </text>
     </g>
    </g>
    <g id="line2d_125">
     <path d="M 436.59 615.17 
L 460.29 615.17 
L 483.99 615.17 
" style="fill: none; stroke: #2ca02c; stroke-width: 3.55; stroke-linecap: square"/>
    </g>
    <g id="text_74">
     <!-- 60.0 $\mu M$ -->
     <g transform="translate(502.95 623.47)">
      <text>
       <tspan x="0" y="-0.18" style="font-size: 23.7px; font-family: 'DejaVu Sans', sans-serif">6</tspan>
       <tspan x="15.11" y="-0.18" style="font-size: 23.7px; font-family: 'DejaVu Sans', sans-serif">0</tspan>
       <tspan x="30.22" y="-0.18" style="font-size: 23.7px; font-family: 'DejaVu Sans', sans-serif">.</tspan>
       <tspan x="37.77" y="-0.18" style="font-size: 23.7px; font-family: 'DejaVu Sans', sans-serif">0</tspan>
       <tspan x="52.88" y="-0.18" style="font-size: 23.7px; font-family: 'DejaVu Sans', sans-serif"> </tspan>
       <tspan x="60.43" y="-0.18" style="font-style: oblique; font-size: 23.7px; font-family: 'DejaVu Sans', sans-serif">μ</tspan>
       <tspan x="75.54" y="-0.18" style="font-style: oblique; font-size: 23.7px; font-family: 'DejaVu Sans', sans-serif">M</tspan>
      </text>
     </g>
    </g>
    <g id="line2d_126">
     <path d="M 436.59 651.00 
L 460.29 651.00 
L 483.99 651.00 
" style="fill: none; stroke: #d62728; stroke-width: 3.55; stroke-linecap: square"/>
    </g>
    <g id="text_75">
     <!-- 122.8 $\mu M$ -->
     <g transform="translate(502.95 659.30)">
      <text>
       <tspan x="0" y="-0.18" style="font-size: 23.7px; font-family: 'DejaVu Sans', sans-serif">1</tspan>
       <tspan x="15.11" y="-0.18" style="font-size: 23.7px; font-family: 'DejaVu Sans', sans-serif">2</tspan>
       <tspan x="30.22" y="-0.18" style="font-size: 23.7px; font-family: 'DejaVu Sans', sans-serif">2</tspan>
       <tspan x="45.33" y="-0.18" style="font-size: 23.7px; font-family: 'DejaVu Sans', sans-serif">.</tspan>
       <tspan x="52.25" y="-0.18" style="font-size: 23.7px; font-family: 'DejaVu Sans', sans-serif">8</tspan>
       <tspan x="67.36" y="-0.18" style="font-size: 23.7px; font-family: 'DejaVu Sans', sans-serif"> </tspan>
       <tspan x="74.91" y="-0.18" style="font-style: oblique; font-size: 23.7px; font-family: 'DejaVu Sans', sans-serif">μ</tspan>
       <tspan x="90.02" y="-0.18" style="font-style: oblique; font-size: 23.7px; font-family: 'DejaVu Sans', sans-serif">M</tspan>
      </text>
     </g>
    </g>
   </g>
  </g>
  <g id="axes_5">
   <g id="patch_25">
    <path d="M 764 893.5 
L 1316 893.5 
L 1316 512 
L 764 512 
z
" style="fill: #ffffff"/>
   </g>
   <g id="matplotlib.axis_9">
    <g id="xtick_26">
     <g id="line2d_127">
      <path d="M 809.40 893.5 
L 809.40 512 
" clip-path="url(#p5283afd924)" style="fill: none; stroke: #b0b0b0; stroke-opacity: 0.2; stroke-width: 1.89; stroke-linecap: square"/>
     </g>
     <g id="line2d_128">
      <g>
       <use href="#m22eff78cd5" x="809.40" y="893.5" style="stroke: #000000; stroke-width: 1.89"/>
      </g>
     </g>
     <g id="text_76">
      <text style="font-size: 23.7px; font-family: 'DejaVu Sans', sans-serif; text-anchor: middle" x="809.40" y="928.09" transform="rotate(-0 809.40 928.09)">0.2</text>
     </g>
    </g>
    <g id="xtick_27">
     <g id="line2d_129">
      <path d="M 930.48 893.5 
L 930.48 512 
" clip-path="url(#p5283afd924)" style="fill: none; stroke: #b0b0b0; stroke-opacity: 0.2; stroke-width: 1.89; stroke-linecap: square"/>
     </g>
     <g id="line2d_130">
      <g>
       <use href="#m22eff78cd5" x="930.48" y="893.5" style="stroke: #000000; stroke-width: 1.89"/>
      </g>
     </g>
     <g id="text_77">
      <text style="font-size: 23.7px; font-family: 'DejaVu Sans', sans-serif; text-anchor: middle" x="930.48" y="928.09" transform="rotate(-0 930.48 928.09)">0.3</text>
     </g>
    </g>
    <g id="xtick_28">
     <g id="line2d_131">
      <path d="M 1051.56 893.5 
L 1051.56 512 
" clip-path="url(#p5283afd924)" style="fill: none; stroke: #b0b0b0; stroke-opacity: 0.2; stroke-width: 1.89; stroke-linecap: square"/>
     </g>
     <g id="line2d_132">
      <g>
       <use href="#m22eff78cd5" x="1051.56" y="893.5" style="stroke: #000000; stroke-width: 1.89"/>
      </g>
     </g>
     <g id="text_78">
      <text style="font-size: 23.7px; font-family: 'DejaVu Sans', sans-serif; text-anchor: middle" x="1051.56" y="928.09" transform="rotate(-0 1051.56 928.09)">0.4</text>
     </g>
    </g>
    <g id="xtick_29">
     <g id="line2d_133">
      <path d="M 1172.64 893.5 
L 1172.64 512 
" clip-path="url(#p5283afd924)" style="fill: none; stroke: #b0b0b0; stroke-opacity: 0.2; stroke-width: 1.89; stroke-linecap: square"/>
     </g>
     <g id="line2d_134">
      <g>
       <use href="#m22eff78cd5" x="1172.64" y="893.5" style="stroke: #000000; stroke-width: 1.89"/>
      </g>
     </g>
     <g id="text_79">
      <text style="font-size: 23.7px; font-family: 'DejaVu Sans', sans-serif; text-anchor: middle" x="1172.64" y="928.09" transform="rotate(-0 1172.64 928.09)">0.5</text>
     </g>
    </g>
    <g id="xtick_30">
     <g id="line2d_135">
      <path d="M 1293.72 893.5 
L 1293.72 512 
" clip-path="url(#p5283afd924)" style="fill: none; stroke: #b0b0b0; stroke-opacity: 0.2; stroke-width: 1.89; stroke-linecap: square"/>
     </g>
     <g id="line2d_136">
      <g>
       <use href="#m22eff78cd5" x="1293.72" y="893.5" style="stroke: #000000; stroke-width: 1.89"/>
      </g>
     </g>
     <g id="text_80">
      <text style="font-size: 23.7px; font-family: 'DejaVu Sans', sans-serif; text-anchor: middle" x="1293.72" y="928.09" transform="rotate(-0 1293.72 928.09)">0.6</text>
     </g>
    </g>
    <g id="text_81">
     <!-- (Time (s))$^{1/2}$ -->
     <g transform="translate(968.66 963.36)">
      <text>
       <tspan x="0" y="-0.34" style="font-size: 23.7px; font-family: 'DejaVu Sans', sans-serif">(</tspan>
       <tspan x="9.26" y="-0.34" style="font-size: 23.7px; font-family: 'DejaVu Sans', sans-serif">T</tspan>
       <tspan x="23.77" y="-0.34" style="font-size: 23.7px; font-family: 'DejaVu Sans', sans-serif">i</tspan>
       <tspan x="30.37" y="-0.34" style="font-size: 23.7px; font-family: 'DejaVu Sans', sans-serif">m</tspan>
       <tspan x="53.50" y="-0.34" style="font-size: 23.7px; font-family: 'DejaVu Sans', sans-serif">e</tspan>
       <tspan x="68.11" y="-0.34" style="font-size: 23.7px; font-family: 'DejaVu Sans', sans-serif"> </tspan>
       <tspan x="75.66" y="-0.34" style="font-size: 23.7px; font-family: 'DejaVu Sans', sans-serif">(</tspan>
       <tspan x="84.93" y="-0.34" style="font-size: 23.7px; font-family: 'DejaVu Sans', sans-serif">s</tspan>
       <tspan x="97.30" y="-0.34" style="font-size: 23.7px; font-family: 'DejaVu Sans', sans-serif">)</tspan>
       <tspan x="106.57" y="-0.34" style="font-size: 23.7px; font-family: 'DejaVu Sans', sans-serif">)</tspan>
       <tspan x="116.06" y="-9.53" style="font-size: 16.59px; font-family: 'DejaVu Sans', sans-serif">1</tspan>
       <tspan x="126.64" y="-9.53" style="font-size: 16.59px; font-family: 'DejaVu Sans', sans-serif">/</tspan>
       <tspan x="131.63" y="-9.53" style="font-size: 16.59px; font-family: 'DejaVu Sans', sans-serif">2</tspan>
      </text>
     </g>
    </g>
   </g>
   <g id="matplotlib.axis_10">
    <g id="ytick_26">
     <g id="line2d_137">
      <path d="M 764 858.81 
L 1316 858.81 
" clip-path="url(#p5283afd924)" style="fill: none; stroke: #b0b0b0; stroke-opacity: 0.2; stroke-width: 1.89; stroke-linecap: square"/>
     </g>
     <g id="line2d_138">
      <g>
       <use href="#m0cf7b9e8b8" x="764" y="858.81" style="stroke: #000000; stroke-width: 1.89"/>
      </g>
     </g>
     <g id="text_82">
      <text style="font-size: 23.7px; font-family: 'DejaVu Sans', sans-serif; text-anchor: end" x="747.41" y="867.82" transform="rotate(-0 747.41 867.82)">0.0</text>
     </g>
    </g>
    <g id="ytick_27">
     <g id="line2d_139">
      <path d="M 764 801.01 
L 1316 801.01 
" clip-path="url(#p5283afd924)" style="fill: none; stroke: #b0b0b0; stroke-opacity: 0.2; stroke-width: 1.89; stroke-linecap: square"/>
     </g>
     <g id="line2d_140">
      <g>
       <use href="#m0cf7b9e8b8" x="764" y="801.01" style="stroke: #000000; stroke-width: 1.89"/>
      </g>
     </g>
     <g id="text_83">
      <text style="font-size: 23.7px; font-family: 'DejaVu Sans', sans-serif; text-anchor: end" x="747.41" y="810.01" transform="rotate(-0 747.41 810.01)">0.5</text>
     </g>
    </g>
    <g id="ytick_28">
     <g id="line2d_141">
      <path d="M 764 743.21 
L 1316 743.21 
" clip-path="url(#p5283afd924)" style="fill: none; stroke: #b0b0b0; stroke-opacity: 0.2; stroke-width: 1.89; stroke-linecap: square"/>
     </g>
     <g id="line2d_142">
      <g>
       <use href="#m0cf7b9e8b8" x="764" y="743.21" style="stroke: #000000; stroke-width: 1.89"/>
      </g>
     </g>
     <g id="text_84">
      <text style="font-size: 23.7px; font-family: 'DejaVu Sans', sans-serif; text-anchor: end" x="747.41" y="752.21" transform="rotate(-0 747.41 752.21)">1.0</text>
     </g>
    </g>
    <g id="ytick_29">
     <g id="line2d_143">
      <path d="M 764 685.40 
L 1316 685.40 
" clip-path="url(#p5283afd924)" style="fill: none; stroke: #b0b0b0; stroke-opacity: 0.2; stroke-width: 1.89; stroke-linecap: square"/>
     </g>
     <g id="line2d_144">
      <g>
       <use href="#m0cf7b9e8b8" x="764" y="685.40" style="stroke: #000000; stroke-width: 1.89"/>
      </g>
     </g>
     <g id="text_85">
      <text style="font-size: 23.7px; font-family: 'DejaVu Sans', sans-serif; text-anchor: end" x="747.41" y="694.41" transform="rotate(-0 747.41 694.41)">1.5</text>
     </g>
    </g>
    <g id="ytick_30">
     <g id="line2d_145">
      <path d="M 764 627.60 
L 1316 627.60 
" clip-path="url(#p5283afd924)" style="fill: none; stroke: #b0b0b0; stroke-opacity: 0.2; stroke-width: 1.89; stroke-linecap: square"/>
     </g>
     <g id="line2d_146">
      <g>
       <use href="#m0cf7b9e8b8" x="764" y="627.60" style="stroke: #000000; stroke-width: 1.89"/>
      </g>
     </g>
     <g id="text_86">
      <text style="font-size: 23.7px; font-family: 'DejaVu Sans', sans-serif; text-anchor: end" x="747.41" y="636.61" transform="rotate(-0 747.41 636.61)">2.0</text>
     </g>
    </g>
    <g id="ytick_31">
     <g id="line2d_147">
      <path d="M 764 569.80 
L 1316 569.80 
" clip-path="url(#p5283afd924)" style="fill: none; stroke: #b0b0b0; stroke-opacity: 0.2; stroke-width: 1.89; stroke-linecap: square"/>
     </g>
     <g id="line2d_148">
      <g>
       <use href="#m0cf7b9e8b8" x="764" y="569.80" style="stroke: #000000; stroke-width: 1.89"/>
      </g>
     </g>
     <g id="text_87">
      <text style="font-size: 23.7px; font-family: 'DejaVu Sans', sans-serif; text-anchor: end" x="747.41" y="578.80" transform="rotate(-0 747.41 578.80)">2.5</text>
     </g>
    </g>
    <g id="ytick_32">
     <g id="line2d_149">
      <path d="M 764 512 
L 1316 512 
" clip-path="url(#p5283afd924)" style="fill: none; stroke: #b0b0b0; stroke-opacity: 0.2; stroke-width: 1.89; stroke-linecap: square"/>
     </g>
     <g id="line2d_150">
      <g>
       <use href="#m0cf7b9e8b8" x="764" y="512" style="stroke: #000000; stroke-width: 1.89"/>
      </g>
     </g>
     <g id="text_88">
      <text style="font-size: 23.7px; font-family: 'DejaVu Sans', sans-serif; text-anchor: end" x="747.41" y="521.00" transform="rotate(-0 747.41 521.00)">3.0</text>
     </g>
    </g>
    <g id="text_89">
     <!-- Current ($\mu A$) -->
     <g transform="translate(694.26 776.45) rotate(-90)">
      <text>
       <tspan x="0" y="-0.78" style="font-size: 23.7px; font-family: 'DejaVu Sans', sans-serif">C</tspan>
       <tspan x="16.58" y="-0.78" style="font-size: 23.7px; font-family: 'DejaVu Sans', sans-serif">u</tspan>
       <tspan x="31.63" y="-0.78" style="font-size: 23.7px; font-family: 'DejaVu Sans', sans-serif">r</tspan>
       <tspan x="41.40" y="-0.78" style="font-size: 23.7px; font-family: 'DejaVu Sans', sans-serif">r</tspan>
       <tspan x="51.16" y="-0.78" style="font-size: 23.7px; font-family: 'DejaVu Sans', sans-serif">e</tspan>
       <tspan x="65.77" y="-0.78" style="font-size: 23.7px; font-family: 'DejaVu Sans', sans-serif">n</tspan>
       <tspan x="80.82" y="-0.78" style="font-size: 23.7px; font-family: 'DejaVu Sans', sans-serif">t</tspan>
       <tspan x="90.14" y="-0.78" style="font-size: 23.7px; font-family: 'DejaVu Sans', sans-serif"> </tspan>
       <tspan x="97.69" y="-0.78" style="font-size: 23.7px; font-family: 'DejaVu Sans', sans-serif">(</tspan>
       <tspan x="138.31" y="-0.78" style="font-size: 23.7px; font-family: 'DejaVu Sans', sans-serif">)</tspan>
       <tspan x="106.95" y="-0.78" style="font-style: oblique; font-size: 23.7px; font-family: 'DejaVu Sans', sans-serif">μ</tspan>
       <tspan x="122.06" y="-0.78" style="font-style: oblique; font-size: 23.7px; font-family: 'DejaVu Sans', sans-serif">A</tspan>
      </text>
     </g>
    </g>
   </g>
   <g id="line2d_151">
    <path d="M 789.06 863.68 
L 852.11 861.68 
L 922.72 859.68 
L 1005.95 857.54 
L 1116.92 854.94 
L 1290.93 850.96 
L 1290.93 850.96 
" clip-path="url(#p5283afd924)" style="fill: none; stroke: #1f77b4; stroke-width: 3.55; stroke-linecap: square"/>
   </g>
   <g id="line2d_152">
    <path d="M 789.06 853.73 
L 894.98 848.32 
L 973.16 844.12 
L 1041.26 840.24 
L 1101.78 836.58 
L 1159.79 832.85 
L 1212.75 829.22 
L 1263.19 825.55 
L 1290.93 823.44 
L 1290.93 823.44 
" clip-path="url(#p5283afd924)" style="fill: none; stroke: #ff7f0e; stroke-width: 3.55; stroke-linecap: square"/>
   </g>
   <g id="line2d_153">
    <path d="M 789.06 848.43 
L 824.37 845.36 
L 862.20 841.83 
L 902.55 837.85 
L 947.94 833.13 
L 998.38 827.66 
L 1058.91 820.85 
L 1162.31 808.94 
L 1248.06 799.15 
L 1290.93 794.41 
L 1290.93 794.41 
" clip-path="url(#p5283afd924)" style="fill: none; stroke: #2ca02c; stroke-width: 3.55; stroke-linecap: square"/>
   </g>
   <g id="line2d_154">
    <path d="M 789.06 845.21 
L 804.19 839.89 
L 819.32 834.30 
L 834.45 828.46 
L 849.59 822.37 
L 864.72 816.04 
L 879.85 809.48 
L 894.98 802.70 
L 910.11 795.70 
L 927.77 787.27 
L 945.42 778.58 
L 963.07 769.63 
L 980.73 760.43 
L 998.38 751.01 
L 1018.56 739.98 
L 1038.73 728.68 
L 1058.91 717.14 
L 1081.61 703.89 
L 1104.31 690.39 
L 1129.53 675.11 
L 1157.27 658.03 
L 1187.53 639.12 
L 1222.84 616.77 
L 1268.23 587.75 
L 1290.93 573.18 
L 1290.93 573.18 
" clip-path="url(#p5283afd924)" style="fill: none; stroke: #d62728; stroke-width: 3.55; stroke-linecap: square"/>
   </g>
   <g id="patch_26">
    <path d="M 764 893.5 
L 764 512 
" style="fill: none; stroke: #000000; stroke-width: 1.89; stroke-linejoin: miter; stroke-linecap: square"/>
   </g>
   <g id="patch_27">
    <path d="M 1316 893.5 
L 1316 512 
" style="fill: none; stroke: #000000; stroke-width: 1.89; stroke-linejoin: miter; stroke-linecap: square"/>
   </g>
   <g id="patch_28">
    <path d="M 764 893.5 
L 1316 893.5 
" style="fill: none; stroke: #000000; stroke-width: 1.89; stroke-linejoin: miter; stroke-linecap: square"/>
   </g>
   <g id="patch_29">
    <path d="M 764 512 
L 1316 512 
" style="fill: none; stroke: #000000; stroke-width: 1.89; stroke-linejoin: miter; stroke-linecap: square"/>
   </g>
   <g id="text_90">
    <text style="font-size: 33.18px; font-family: 'DejaVu Sans', sans-serif; text-anchor: start" x="780.56" y="550.56" transform="rotate(-0 780.56 550.56)">E</text>
   </g>
   <g id="legend_4">
    <g id="patch_30">
     <path d="M 777.29 766.96 
L 936.44 766.96 
Q 940.47 766.96 940.47 762.93 
L 940.47 642.56 
Q 940.47 638.53 936.44 638.53 
L 777.29 638.53 
Q 773.26 638.53 773.26 642.56 
L 773.26 762.93 
Q 773.26 766.96 777.29 766.96 
z
" style="fill: #ffffff; opacity: 0.8; stroke: #cccccc; stroke-width: 2.37; stroke-linejoin: miter"/>
    </g>
    <g id="line2d_155">
     <path d="M 781.72 655.25 
L 801.87 655.25 
L 822.01 655.25 
" style="fill: none; stroke: #1f77b4; stroke-width: 3.55; stroke-linecap: square"/>
    </g>
    <g id="text_91">
     <!-- 19.6 $\mu M$ -->
     <g transform="translate(838.13 662.30)">
      <text>
       <tspan x="0" y="-0.15" style="font-size: 20.14px; font-family: 'DejaVu Sans', sans-serif">1</tspan>
       <tspan x="12.80" y="-0.15" style="font-size: 20.14px; font-family: 'DejaVu Sans', sans-serif">9</tspan>
       <tspan x="25.60" y="-0.15" style="font-size: 20.14px; font-family: 'DejaVu Sans', sans-serif">.</tspan>
       <tspan x="32.00" y="-0.15" style="font-size: 20.14px; font-family: 'DejaVu Sans', sans-serif">6</tspan>
       <tspan x="44.80" y="-0.15" style="font-size: 20.14px; font-family: 'DejaVu Sans', sans-serif"> </tspan>
       <tspan x="51.20" y="-0.15" style="font-style: oblique; font-size: 20.14px; font-family: 'DejaVu Sans', sans-serif">μ</tspan>
       <tspan x="64.01" y="-0.15" style="font-style: oblique; font-size: 20.14px; font-family: 'DejaVu Sans', sans-serif">M</tspan>
      </text>
     </g>
    </g>
    <g id="line2d_156">
     <path d="M 781.72 685.90 
L 801.87 685.90 
L 822.01 685.90 
" style="fill: none; stroke: #ff7f0e; stroke-width: 3.55; stroke-linecap: square"/>
    </g>
    <g id="text_92">
     <!-- 50.1 $\mu M$ -->
     <g transform="translate(838.13 692.95)">
      <text>
       <tspan x="0" y="-0.15" style="font-size: 20.14px; font-family: 'DejaVu Sans', sans-serif">5</tspan>
       <tspan x="12.80" y="-0.15" style="font-size: 20.14px; font-family: 'DejaVu Sans', sans-serif">0</tspan>
       <tspan x="25.60" y="-0.15" style="font-size: 20.14px; font-family: 'DejaVu Sans', sans-serif">.</tspan>
       <tspan x="32.00" y="-0.15" style="font-size: 20.14px; font-family: 'DejaVu Sans', sans-serif">1</tspan>
       <tspan x="44.80" y="-0.15" style="font-size: 20.14px; font-family: 'DejaVu Sans', sans-serif"> </tspan>
       <tspan x="51.20" y="-0.15" style="font-style: oblique; font-size: 20.14px; font-family: 'DejaVu Sans', sans-serif">μ</tspan>
       <tspan x="64.01" y="-0.15" style="font-style: oblique; font-size: 20.14px; font-family: 'DejaVu Sans', sans-serif">M</tspan>
      </text>
     </g>
    </g>
    <g id="line2d_157">
     <path d="M 781.72 716.56 
L 801.87 716.56 
L 822.01 716.56 
" style="fill: none; stroke: #2ca02c; stroke-width: 3.55; stroke-linecap: square"/>
    </g>
    <g id="text_93">
     <!-- 60.0 $\mu M$ -->
     <g transform="translate(838.13 723.61)">
      <text>
       <tspan x="0" y="-0.15" style="font-size: 20.14px; font-family: 'DejaVu Sans', sans-serif">6</tspan>
       <tspan x="12.80" y="-0.15" style="font-size: 20.14px; font-family: 'DejaVu Sans', sans-serif">0</tspan>
       <tspan x="25.60" y="-0.15" style="font-size: 20.14px; font-family: 'DejaVu Sans', sans-serif">.</tspan>
       <tspan x="32.00" y="-0.15" style="font-size: 20.14px; font-family: 'DejaVu Sans', sans-serif">0</tspan>
       <tspan x="44.80" y="-0.15" style="font-size: 20.14px; font-family: 'DejaVu Sans', sans-serif"> </tspan>
       <tspan x="51.20" y="-0.15" style="font-style: oblique; font-size: 20.14px; font-family: 'DejaVu Sans', sans-serif">μ</tspan>
       <tspan x="64.01" y="-0.15" style="font-style: oblique; font-size: 20.14px; font-family: 'DejaVu Sans', sans-serif">M</tspan>
      </text>
     </g>
    </g>
    <g id="line2d_158">
     <path d="M 781.72 747.22 
L 801.87 747.22 
L 822.01 747.22 
" style="fill: none; stroke: #d62728; stroke-width: 3.55; stroke-linecap: square"/>
    </g>
    <g id="text_94">
     <!-- 122.8 $\mu M$ -->
     <g transform="translate(838.13 754.27)">
      <text>
       <tspan x="0" y="-0.15" style="font-size: 20.14px; font-family: 'DejaVu Sans', sans-serif">1</tspan>
       <tspan x="12.80" y="-0.15" style="font-size: 20.14px; font-family: 'DejaVu Sans', sans-serif">2</tspan>
       <tspan x="25.60" y="-0.15" style="font-size: 20.14px; font-family: 'DejaVu Sans', sans-serif">2</tspan>
       <tspan x="38.41" y="-0.15" style="font-size: 20.14px; font-family: 'DejaVu Sans', sans-serif">.</tspan>
       <tspan x="44.30" y="-0.15" style="font-size: 20.14px; font-family: 'DejaVu Sans', sans-serif">8</tspan>
       <tspan x="57.11" y="-0.15" style="font-size: 20.14px; font-family: 'DejaVu Sans', sans-serif"> </tspan>
       <tspan x="63.51" y="-0.15" style="font-style: oblique; font-size: 20.14px; font-family: 'DejaVu Sans', sans-serif">μ</tspan>
       <tspan x="76.31" y="-0.15" style="font-style: oblique; font-size: 20.14px; font-family: 'DejaVu Sans', sans-serif">M</tspan>
      </text>
     </g>
    </g>
   </g>
  </g>
  <g id="axes_6">
   <g id="patch_31">
    <path d="M 1444 893.5 
L 1996.4 893.5 
L 1996.4 512 
L 1444 512 
z
" style="fill: #ffffff"/>
   </g>
   <g id="matplotlib.axis_11">
    <g id="xtick_31">
     <g id="line2d_159">
      <path d="M 1471.07 893.5 
L 1471.07 512 
" clip-path="url(#pd61eef9059)" style="fill: none; stroke: #b0b0b0; stroke-opacity: 0.5; stroke-width: 1.18; stroke-linecap: square"/>
     </g>
     <g id="line2d_160">
      <g>
       <use href="#m22eff78cd5" x="1471.07" y="893.5" style="stroke: #000000; stroke-width: 1.89"/>
      </g>
     </g>
     <g id="text_95">
      <text style="font-size: 23.7px; font-family: 'DejaVu Sans', sans-serif; text-anchor: middle" x="1471.07" y="928.09" transform="rotate(-0 1471.07 928.09)">20</text>
     </g>
    </g>
    <g id="xtick_32">
     <g id="line2d_161">
      <path d="M 1568.48 893.5 
L 1568.48 512 
" clip-path="url(#pd61eef9059)" style="fill: none; stroke: #b0b0b0; stroke-opacity: 0.5; stroke-width: 1.18; stroke-linecap: square"/>
     </g>
     <g id="line2d_162">
      <g>
       <use href="#m22eff78cd5" x="1568.48" y="893.5" style="stroke: #000000; stroke-width: 1.89"/>
      </g>
     </g>
     <g id="text_96">
      <text style="font-size: 23.7px; font-family: 'DejaVu Sans', sans-serif; text-anchor: middle" x="1568.48" y="928.09" transform="rotate(-0 1568.48 928.09)">40</text>
     </g>
    </g>
    <g id="xtick_33">
     <g id="line2d_163">
      <path d="M 1665.89 893.5 
L 1665.89 512 
" clip-path="url(#pd61eef9059)" style="fill: none; stroke: #b0b0b0; stroke-opacity: 0.5; stroke-width: 1.18; stroke-linecap: square"/>
     </g>
     <g id="line2d_164">
      <g>
       <use href="#m22eff78cd5" x="1665.89" y="893.5" style="stroke: #000000; stroke-width: 1.89"/>
      </g>
     </g>
     <g id="text_97">
      <text style="font-size: 23.7px; font-family: 'DejaVu Sans', sans-serif; text-anchor: middle" x="1665.89" y="928.09" transform="rotate(-0 1665.89 928.09)">60</text>
     </g>
    </g>
    <g id="xtick_34">
     <g id="line2d_165">
      <path d="M 1763.30 893.5 
L 1763.30 512 
" clip-path="url(#pd61eef9059)" style="fill: none; stroke: #b0b0b0; stroke-opacity: 0.5; stroke-width: 1.18; stroke-linecap: square"/>
     </g>
     <g id="line2d_166">
      <g>
       <use href="#m22eff78cd5" x="1763.30" y="893.5" style="stroke: #000000; stroke-width: 1.89"/>
      </g>
     </g>
     <g id="text_98">
      <text style="font-size: 23.7px; font-family: 'DejaVu Sans', sans-serif; text-anchor: middle" x="1763.30" y="928.09" transform="rotate(-0 1763.30 928.09)">80</text>
     </g>
    </g>
    <g id="xtick_35">
     <g id="line2d_167">
      <path d="M 1860.71 893.5 
L 1860.71 512 
" clip-path="url(#pd61eef9059)" style="fill: none; stroke: #b0b0b0; stroke-opacity: 0.5; stroke-width: 1.18; stroke-linecap: square"/>
     </g>
     <g id="line2d_168">
      <g>
       <use href="#m22eff78cd5" x="1860.71" y="893.5" style="stroke: #000000; stroke-width: 1.89"/>
      </g>
     </g>
     <g id="text_99">
      <text style="font-size: 23.7px; font-family: 'DejaVu Sans', sans-serif; text-anchor: middle" x="1860.71" y="928.09" transform="rotate(-0 1860.71 928.09)">100</text>
     </g>
    </g>
    <g id="xtick_36">
     <g id="line2d_169">
      <path d="M 1958.11 893.5 
L 1958.11 512 
" clip-path="url(#pd61eef9059)" style="fill: none; stroke: #b0b0b0; stroke-opacity: 0.5; stroke-width: 1.18; stroke-linecap: square"/>
     </g>
     <g id="line2d_170">
      <g>
       <use href="#m22eff78cd5" x="1958.11" y="893.5" style="stroke: #000000; stroke-width: 1.89"/>
      </g>
     </g>
     <g id="text_100">
      <text style="font-size: 23.7px; font-family: 'DejaVu Sans', sans-serif; text-anchor: middle" x="1958.11" y="928.09" transform="rotate(-0 1958.11 928.09)">120</text>
     </g>
    </g>
    <g id="text_101">
     <!-- Concentration ($\mu M$) -->
     <g transform="translate(1605.49 961.41)">
      <text>
       <tspan x="0" y="-0.76" style="font-size: 23.7px; font-family: 'DejaVu Sans', sans-serif">C</tspan>
       <tspan x="16.58" y="-0.76" style="font-size: 23.7px; font-family: 'DejaVu Sans', sans-serif">o</tspan>
       <tspan x="31.11" y="-0.76" style="font-size: 23.7px; font-family: 'DejaVu Sans', sans-serif">n</tspan>
       <tspan x="46.16" y="-0.76" style="font-size: 23.7px; font-family: 'DejaVu Sans', sans-serif">c</tspan>
       <tspan x="59.22" y="-0.76" style="font-size: 23.7px; font-family: 'DejaVu Sans', sans-serif">e</tspan>
       <tspan x="73.83" y="-0.76" style="font-size: 23.7px; font-family: 'DejaVu Sans', sans-serif">n</tspan>
       <tspan x="88.88" y="-0.76" style="font-size: 23.7px; font-family: 'DejaVu Sans', sans-serif">t</tspan>
       <tspan x="98.20" y="-0.76" style="font-size: 23.7px; font-family: 'DejaVu Sans', sans-serif">r</tspan>
       <tspan x="107.96" y="-0.76" style="font-size: 23.7px; font-family: 'DejaVu Sans', sans-serif">a</tspan>
       <tspan x="122.51" y="-0.76" style="font-size: 23.7px; font-family: 'DejaVu Sans', sans-serif">t</tspan>
       <tspan x="131.83" y="-0.76" style="font-size: 23.7px; font-family: 'DejaVu Sans', sans-serif">i</tspan>
       <tspan x="138.42" y="-0.76" style="font-size: 23.7px; font-family: 'DejaVu Sans', sans-serif">o</tspan>
       <tspan x="152.96" y="-0.76" style="font-size: 23.7px; font-family: 'DejaVu Sans', sans-serif">n</tspan>
       <tspan x="168.01" y="-0.76" style="font-size: 23.7px; font-family: 'DejaVu Sans', sans-serif"> </tspan>
       <tspan x="175.56" y="-0.76" style="font-size: 23.7px; font-family: 'DejaVu Sans', sans-serif">(</tspan>
       <tspan x="220.42" y="-0.76" style="font-size: 23.7px; font-family: 'DejaVu Sans', sans-serif">)</tspan>
       <tspan x="184.82" y="-0.76" style="font-style: oblique; font-size: 23.7px; font-family: 'DejaVu Sans', sans-serif">μ</tspan>
       <tspan x="199.93" y="-0.76" style="font-style: oblique; font-size: 23.7px; font-family: 'DejaVu Sans', sans-serif">M</tspan>
      </text>
     </g>
    </g>
   </g>
   <g id="matplotlib.axis_12">
    <g id="ytick_33">
     <g id="line2d_171">
      <path d="M 1444 868.04 
L 1996.4 868.04 
" clip-path="url(#pd61eef9059)" style="fill: none; stroke: #b0b0b0; stroke-opacity: 0.5; stroke-width: 1.18; stroke-linecap: square"/>
     </g>
     <g id="line2d_172">
      <g>
       <use href="#m0cf7b9e8b8" x="1444" y="868.04" style="stroke: #000000; stroke-width: 1.89"/>
      </g>
     </g>
     <g id="text_102">
      <text style="font-size: 23.7px; font-family: 'DejaVu Sans', sans-serif; text-anchor: end" x="1427.41" y="877.05" transform="rotate(-0 1427.41 877.05)">0.0</text>
     </g>
    </g>
    <g id="ytick_34">
     <g id="line2d_173">
      <path d="M 1444 790.91 
L 1996.4 790.91 
" clip-path="url(#pd61eef9059)" style="fill: none; stroke: #b0b0b0; stroke-opacity: 0.5; stroke-width: 1.18; stroke-linecap: square"/>
     </g>
     <g id="line2d_174">
      <g>
       <use href="#m0cf7b9e8b8" x="1444" y="790.91" style="stroke: #000000; stroke-width: 1.89"/>
      </g>
     </g>
     <g id="text_103">
      <text style="font-size: 23.7px; font-family: 'DejaVu Sans', sans-serif; text-anchor: end" x="1427.41" y="799.91" transform="rotate(-0 1427.41 799.91)">0.5</text>
     </g>
    </g>
    <g id="ytick_35">
     <g id="line2d_175">
      <path d="M 1444 713.78 
L 1996.4 713.78 
" clip-path="url(#pd61eef9059)" style="fill: none; stroke: #b0b0b0; stroke-opacity: 0.5; stroke-width: 1.18; stroke-linecap: square"/>
     </g>
     <g id="line2d_176">
      <g>
       <use href="#m0cf7b9e8b8" x="1444" y="713.78" style="stroke: #000000; stroke-width: 1.89"/>
      </g>
     </g>
     <g id="text_104">
      <text style="font-size: 23.7px; font-family: 'DejaVu Sans', sans-serif; text-anchor: end" x="1427.41" y="722.78" transform="rotate(-0 1427.41 722.78)">1.0</text>
     </g>
    </g>
    <g id="ytick_36">
     <g id="line2d_177">
      <path d="M 1444 636.64 
L 1996.4 636.64 
" clip-path="url(#pd61eef9059)" style="fill: none; stroke: #b0b0b0; stroke-opacity: 0.5; stroke-width: 1.18; stroke-linecap: square"/>
     </g>
     <g id="line2d_178">
      <g>
       <use href="#m0cf7b9e8b8" x="1444" y="636.64" style="stroke: #000000; stroke-width: 1.89"/>
      </g>
     </g>
     <g id="text_105">
      <text style="font-size: 23.7px; font-family: 'DejaVu Sans', sans-serif; text-anchor: end" x="1427.41" y="645.65" transform="rotate(-0 1427.41 645.65)">1.5</text>
     </g>
    </g>
    <g id="ytick_37">
     <g id="line2d_179">
      <path d="M 1444 559.51 
L 1996.4 559.51 
" clip-path="url(#pd61eef9059)" style="fill: none; stroke: #b0b0b0; stroke-opacity: 0.5; stroke-width: 1.18; stroke-linecap: square"/>
     </g>
     <g id="line2d_180">
      <g>
       <use href="#m0cf7b9e8b8" x="1444" y="559.51" style="stroke: #000000; stroke-width: 1.89"/>
      </g>
     </g>
     <g id="text_106">
      <text style="font-size: 23.7px; font-family: 'DejaVu Sans', sans-serif; text-anchor: end" x="1427.41" y="568.51" transform="rotate(-0 1427.41 568.51)">2.0</text>
     </g>
    </g>
    <g id="text_107">
     <!-- Cottrell slope (mA/s$^{1/2}$) -->
     <g transform="translate(1373.46 837.95) rotate(-90)">
      <text>
       <tspan x="0" y="-0.34" style="font-size: 23.7px; font-family: 'DejaVu Sans', sans-serif">C</tspan>
       <tspan x="16.58" y="-0.34" style="font-size: 23.7px; font-family: 'DejaVu Sans', sans-serif">o</tspan>
       <tspan x="31.11" y="-0.34" style="font-size: 23.7px; font-family: 'DejaVu Sans', sans-serif">t</tspan>
       <tspan x="40.42" y="-0.34" style="font-size: 23.7px; font-family: 'DejaVu Sans', sans-serif">t</tspan>
       <tspan x="49.73" y="-0.34" style="font-size: 23.7px; font-family: 'DejaVu Sans', sans-serif">r</tspan>
       <tspan x="59.50" y="-0.34" style="font-size: 23.7px; font-family: 'DejaVu Sans', sans-serif">e</tspan>
       <tspan x="74.11" y="-0.34" style="font-size: 23.7px; font-family: 'DejaVu Sans', sans-serif">l</tspan>
       <tspan x="80.71" y="-0.34" style="font-size: 23.7px; font-family: 'DejaVu Sans', sans-serif">l</tspan>
       <tspan x="87.31" y="-0.34" style="font-size: 23.7px; font-family: 'DejaVu Sans', sans-serif"> </tspan>
       <tspan x="94.86" y="-0.34" style="font-size: 23.7px; font-family: 'DejaVu Sans', sans-serif">s</tspan>
       <tspan x="107.23" y="-0.34" style="font-size: 23.7px; font-family: 'DejaVu Sans', sans-serif">l</tspan>
       <tspan x="113.83" y="-0.34" style="font-size: 23.7px; font-family: 'DejaVu Sans', sans-serif">o</tspan>
       <tspan x="128.36" y="-0.34" style="font-size: 23.7px; font-family: 'DejaVu Sans', sans-serif">p</tspan>
       <tspan x="143.43" y="-0.34" style="font-size: 23.7px; font-family: 'DejaVu Sans', sans-serif">e</tspan>
       <tspan x="158.05" y="-0.34" style="font-size: 23.7px; font-family: 'DejaVu Sans', sans-serif"> </tspan>
       <tspan x="165.60" y="-0.34" style="font-size: 23.7px; font-family: 'DejaVu Sans', sans-serif">(</tspan>
       <tspan x="174.86" y="-0.34" style="font-size: 23.7px; font-family: 'DejaVu Sans', sans-serif">m</tspan>
       <tspan x="198.00" y="-0.34" style="font-size: 23.7px; font-family: 'DejaVu Sans', sans-serif">A</tspan>
       <tspan x="214.24" y="-0.34" style="font-size: 23.7px; font-family: 'DejaVu Sans', sans-serif">/</tspan>
       <tspan x="222.25" y="-0.34" style="font-size: 23.7px; font-family: 'DejaVu Sans', sans-serif">s</tspan>
       <tspan x="261.65" y="-0.34" style="font-size: 23.7px; font-family: 'DejaVu Sans', sans-serif">)</tspan>
       <tspan x="234.85" y="-9.53" style="font-size: 16.59px; font-family: 'DejaVu Sans', sans-serif">1</tspan>
       <tspan x="245.43" y="-9.53" style="font-size: 16.59px; font-family: 'DejaVu Sans', sans-serif">/</tspan>
       <tspan x="250.41" y="-9.53" style="font-size: 16.59px; font-family: 'DejaVu Sans', sans-serif">2</tspan>
      </text>
     </g>
    </g>
   </g>
   <g id="line2d_181">
    <g clip-path="url(#pd61eef9059)">
     <use href="#mea92491376" x="1469.13" y="867.12" style="fill: #4682b4; stroke: #4682b4; stroke-width: 2.37"/>
     <use href="#mea92491376" x="1617.67" y="774.56" style="fill: #4682b4; stroke: #4682b4; stroke-width: 2.37"/>
     <use href="#mea92491376" x="1665.89" y="757.59" style="fill: #4682b4; stroke: #4682b4; stroke-width: 2.37"/>
     <use href="#mea92491376" x="1971.02" y="529.12" style="fill: #4682b4; stroke: #4682b4; stroke-width: 2.37"/>
    </g>
   </g>
   <g id="line2d_182">
    <path d="M 1469.13 874.98 
L 1971.02 534.83 
" clip-path="url(#pd61eef9059)" style="fill: none; stroke-dasharray: 8.76,3.79; stroke-dashoffset: 0; stroke: #1f77b4; stroke-width: 2.37"/>
   </g>
   <g id="patch_32">
    <path d="M 1444 893.5 
L 1444 512 
" style="fill: none; stroke: #000000; stroke-width: 1.89; stroke-linejoin: miter; stroke-linecap: square"/>
   </g>
   <g id="patch_33">
    <path d="M 1996.4 893.5 
L 1996.4 512 
" style="fill: none; stroke: #000000; stroke-width: 1.89; stroke-linejoin: miter; stroke-linecap: square"/>
   </g>
   <g id="patch_34">
    <path d="M 1444 893.5 
L 1996.4 893.5 
" style="fill: none; stroke: #000000; stroke-width: 1.89; stroke-linejoin: miter; stroke-linecap: square"/>
   </g>
   <g id="patch_35">
    <path d="M 1444 512 
L 1996.4 512 
" style="fill: none; stroke: #000000; stroke-width: 1.89; stroke-linejoin: miter; stroke-linecap: square"/>
   </g>
   <g id="text_108">
    <!-- $y = 0.02x - 0.46$ -->
    <g transform="translate(1471.17 638.95)">
     <text>
      <tspan x="0" y="-0.70" style="font-style: oblique; font-size: 26.07px; font-family: 'DejaVu Sans', sans-serif">y</tspan>
      <tspan x="122.32" y="-0.70" style="font-style: oblique; font-size: 26.07px; font-family: 'DejaVu Sans', sans-serif">x</tspan>
      <tspan x="20.55" y="-0.70" style="font-size: 26.07px; font-family: 'DejaVu Sans', sans-serif">=</tspan>
      <tspan x="47.53" y="-0.70" style="font-size: 26.07px; font-family: 'DejaVu Sans', sans-serif">0</tspan>
      <tspan x="64.15" y="-0.70" style="font-size: 26.07px; font-family: 'DejaVu Sans', sans-serif">.</tspan>
      <tspan x="72.45" y="-0.70" style="font-size: 26.07px; font-family: 'DejaVu Sans', sans-serif">0</tspan>
      <tspan x="89.07" y="-0.70" style="font-size: 26.07px; font-family: 'DejaVu Sans', sans-serif">2</tspan>
      <tspan x="105.69" y="-0.70" style="font-size: 26.07px; font-family: 'DejaVu Sans', sans-serif">1</tspan>
      <tspan x="142.87" y="-0.70" style="font-size: 26.07px; font-family: 'DejaVu Sans', sans-serif">−</tspan>
      <tspan x="169.85" y="-0.70" style="font-size: 26.07px; font-family: 'DejaVu Sans', sans-serif">0</tspan>
      <tspan x="186.47" y="-0.70" style="font-size: 26.07px; font-family: 'DejaVu Sans', sans-serif">.</tspan>
      <tspan x="194.77" y="-0.70" style="font-size: 26.07px; font-family: 'DejaVu Sans', sans-serif">4</tspan>
      <tspan x="211.39" y="-0.70" style="font-size: 26.07px; font-family: 'DejaVu Sans', sans-serif">6</tspan>
      <tspan x="228.01" y="-0.70" style="font-size: 26.07px; font-family: 'DejaVu Sans', sans-serif">8</tspan>
     </text>
    </g>
    <!-- $R^2 = 0.99$ -->
    <g transform="translate(1471.17 668.20)">
     <text>
      <tspan x="0" y="-0.53" style="font-style: oblique; font-size: 26.07px; font-family: 'DejaVu Sans', sans-serif">R</tspan>
      <tspan x="19.97" y="-10.49" style="font-size: 18.24px; font-family: 'DejaVu Sans', sans-serif">2</tspan>
      <tspan x="37.41" y="-0.53" style="font-size: 26.07px; font-family: 'DejaVu Sans', sans-serif">=</tspan>
      <tspan x="64.39" y="-0.53" style="font-size: 26.07px; font-family: 'DejaVu Sans', sans-serif">0</tspan>
      <tspan x="81.01" y="-0.53" style="font-size: 26.07px; font-family: 'DejaVu Sans', sans-serif">.</tspan>
      <tspan x="89.31" y="-0.53" style="font-size: 26.07px; font-family: 'DejaVu Sans', sans-serif">9</tspan>
      <tspan x="105.93" y="-0.53" style="font-size: 26.07px; font-family: 'DejaVu Sans', sans-serif">9</tspan>
      <tspan x="122.56" y="-0.53" style="font-size: 26.07px; font-family: 'DejaVu Sans', sans-serif">5</tspan>
     </text>
    </g>
   </g>
   <g id="text_109">
    <text style="font-size: 33.18px; font-family: 'DejaVu Sans', sans-serif; text-anchor: start" x="1461.95" y="551.06" transform="rotate(-0 1461.95 551.06)">F</text>
   </g>
  </g>
 </g>
 <defs>
  <clipPath id="pebcdcb35c1">
   <rect x="83.1" y="11.5" width="552.1" height="381.6"/>
  </clipPath>
  <clipPath id="pad39da8d33">
   <rect x="764" y="11.5" width="552" height="381.6"/>
  </clipPath>
  <clipPath id="p86de596319">
   <rect x="1444" y="11.5" width="552.4" height="381.6"/>
  </clipPath>
  <clipPath id="p9e097ca034">
   <rect x="83.1" y="512" width="552.1" height="381.5"/>
  </clipPath>
  <clipPath id="p5283afd924">
   <rect x="764" y="512" width="552" height="381.5"/>
  </clipPath>
  <clipPath id="pd61eef9059">
   <rect x="1444" y="512" width="552.4" height="381.5"/>
  </clipPath>
 </defs>
</svg>

</body></html>
